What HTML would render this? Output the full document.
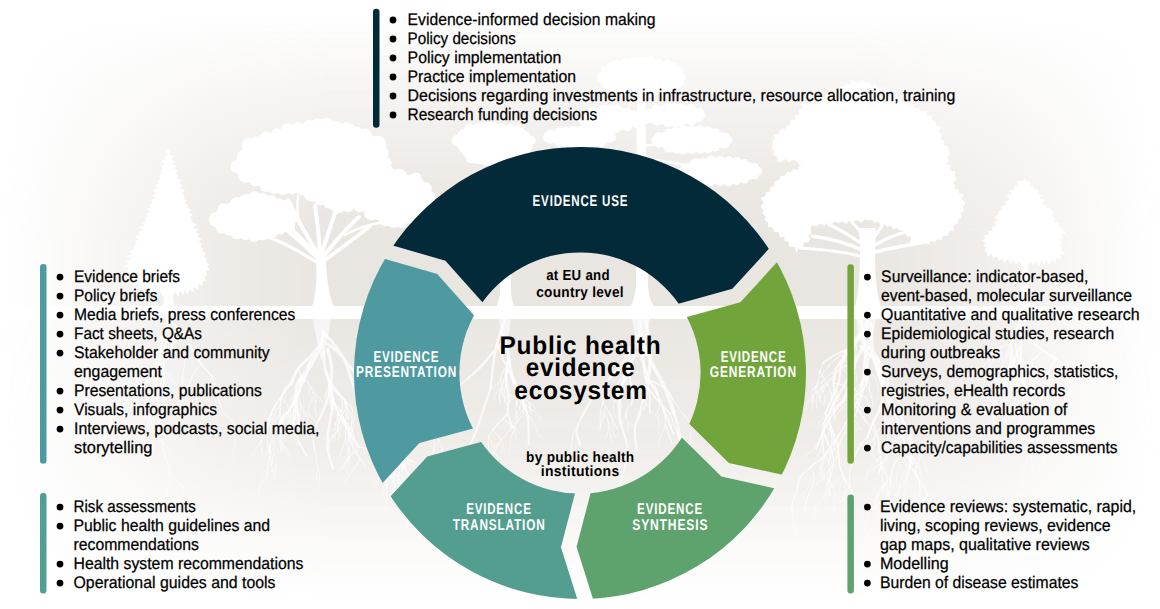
<!DOCTYPE html>
<html><head><meta charset="utf-8"><style>
html,body{margin:0;padding:0;background:#fff;}
svg{display:block;}
text{font-family:"Liberation Sans", sans-serif;text-rendering:geometricPrecision;}
.b{stroke:#000;stroke-width:0.25px;}
</style></head><body>
<svg width="1160" height="609" viewBox="0 0 1160 609">
<defs>
<linearGradient id="gH" x1="0" y1="0" x2="1160" y2="0" gradientUnits="userSpaceOnUse">
 <stop offset="0" stop-color="#fff" stop-opacity="0"/>
 <stop offset="0.03" stop-color="#fff" stop-opacity="0.08"/>
 <stop offset="0.1" stop-color="#fff" stop-opacity="0.35"/>
 <stop offset="0.18" stop-color="#fff" stop-opacity="0.7"/>
 <stop offset="0.28" stop-color="#fff" stop-opacity="0.95"/>
 <stop offset="0.74" stop-color="#fff" stop-opacity="0.95"/>
 <stop offset="0.86" stop-color="#fff" stop-opacity="0.6"/>
 <stop offset="0.95" stop-color="#fff" stop-opacity="0.18"/>
 <stop offset="0.985" stop-color="#fff" stop-opacity="0.04"/>
 <stop offset="1" stop-color="#fff" stop-opacity="0"/>
</linearGradient>
<linearGradient id="gVu" x1="0" y1="0" x2="0" y2="306" gradientUnits="userSpaceOnUse">
 <stop offset="0.04" stop-color="#fff" stop-opacity="0"/>
 <stop offset="0.2" stop-color="#fff" stop-opacity="0.25"/>
 <stop offset="0.4" stop-color="#fff" stop-opacity="0.55"/>
 <stop offset="0.6" stop-color="#fff" stop-opacity="0.85"/>
 <stop offset="0.78" stop-color="#fff" stop-opacity="1"/>
</linearGradient>
<linearGradient id="gVl" x1="0" y1="319" x2="0" y2="600" gradientUnits="userSpaceOnUse">
 <stop offset="0" stop-color="#fff" stop-opacity="0.95"/>
 <stop offset="0.45" stop-color="#fff" stop-opacity="0.7"/>
 <stop offset="0.8" stop-color="#fff" stop-opacity="0.2"/>
 <stop offset="1" stop-color="#fff" stop-opacity="0"/>
</linearGradient>
<mask id="mH" maskUnits="userSpaceOnUse" x="0" y="0" width="1160" height="609"><rect x="0" y="0" width="1160" height="609" fill="url(#gH)"/></mask>
<mask id="mVu" maskUnits="userSpaceOnUse" x="0" y="0" width="1160" height="609"><rect x="0" y="0" width="1160" height="306" fill="url(#gVu)"/></mask>
<mask id="mVl" maskUnits="userSpaceOnUse" x="0" y="0" width="1160" height="609"><rect x="0" y="319" width="1160" height="290" fill="url(#gVl)"/></mask>
</defs>
<rect x="0" y="0" width="1160" height="609" fill="#fff"/>
<g mask="url(#mH)"><rect mask="url(#mVu)" x="0" y="0" width="1160" height="306" fill="#e8e4df"/><rect mask="url(#mVl)" x="0" y="319" width="1160" height="290" fill="#e8e4df"/></g>
<g fill="#fff"><path d="M168.0,146.4 L167.3,149.8 L171.6,152.1 L168.9,154.4 L174.0,156.4 L170.5,159.0 L174.5,161.4 L172.1,163.6 L176.2,166.0 L173.7,168.2 L178.0,170.5 L175.3,173.0 L178.7,175.9 L176.9,178.0 L181.1,180.6 L178.5,183.0 L182.9,185.5 L180.1,188.0 L184.9,190.4 L181.7,193.0 L184.8,195.9 L183.3,198.0 L187.0,200.7 L184.9,202.9 L188.1,205.7 L186.6,207.8 L191.5,210.1 L188.2,212.7 L192.8,215.1 L189.8,217.6 L192.9,220.5 L191.5,222.5 L196.9,224.4 L193.3,227.3 L198.6,229.2 L195.1,232.0 L199.7,234.2 L197.0,236.8 L201.4,239.0 L198.8,241.5 L202.2,244.1 L200.6,246.2 L203.6,249.0 L202.3,251.1 L206.6,253.7 L204.1,256.2 L207.2,259.2 L205.8,261.4 L209.2,264.3 L207.4,266.0 L209.4,270.2 L205.8,270.9 L207.2,275.4 L204.1,276.2 L206.6,281.1 L202.7,281.0 L202.6,286.2 L198.5,283.7 L198.5,290.1 L193.8,286.7 L193.4,292.4 L189.4,289.5 L187.9,294.8 L184.9,290.1 L182.9,295.1 L180.0,290.7 L178.1,296.2 L175.1,291.4 L173.1,296.3 L170.2,292.1 L168.0,296.6 L165.8,292.1 L162.7,297.7 L160.9,291.4 L157.8,297.0 L156.0,290.7 L153.0,296.0 L151.1,290.1 L148.1,295.0 L146.6,289.5 L142.9,291.9 L142.2,286.7 L138.3,288.7 L137.5,283.7 L133.6,285.9 L133.2,281.0 L130.4,281.2 L131.8,276.9 L127.0,277.3 L130.1,272.3 L126.2,272.4 L128.4,267.7 L123.2,267.1 L128.5,264.1 L126.5,261.6 L130.5,259.1 L127.1,256.1 L132.5,254.1 L129.4,251.2 L134.5,249.1 L133.4,247.0 L136.5,244.3 L134.9,242.0 L138.5,239.5 L135.3,236.6 L140.5,234.8 L138.3,232.3 L142.5,230.1 L139.1,227.1 L144.5,225.4 L142.5,222.9 L146.5,220.6 L145.0,218.6 L148.1,216.0 L145.3,213.6 L149.8,211.5 L146.6,208.9 L151.4,206.9 L149.5,204.8 L153.1,202.4 L151.6,200.5 L154.7,197.8 L152.6,195.7 L156.2,192.9 L152.4,190.4 L157.6,187.9 L154.3,185.5 L159.0,182.9 L157.3,180.9 L160.4,177.9 L158.4,175.9 L161.8,172.9 L160.1,170.9 L163.2,168.2 L161.6,166.4 L164.6,163.6 L161.2,161.2 L166.0,159.0 L164.2,157.1 L167.4,154.4 L164.6,152.2 L168.8,149.8Z"/><path d="M165,285 L172,285 L174,307 L163,307Z"/><path d="M234.3,166.9 C234.9,161.2 241.9,148.6 247.0,143.4 C252.1,138.2 258.4,138.7 265.0,136.0 C271.6,133.3 279.5,129.1 286.7,127.0 C293.9,124.9 301.8,124.3 308.4,123.5 C315.0,122.7 319.9,121.8 326.5,122.4 C333.1,123.0 341.4,125.3 348.0,127.0 C354.6,128.7 360.6,130.1 366.0,132.5 C371.4,134.9 377.0,136.8 380.7,141.6 C384.4,146.4 384.7,156.0 388.0,161.4 C391.3,166.8 395.8,171.6 400.6,174.0 C405.4,176.4 412.3,173.9 416.8,176.0 C421.3,178.1 425.3,183.1 427.7,186.7 C430.1,190.3 430.9,193.7 431.3,197.6 C431.7,201.5 431.8,207.0 430.0,210.0 C428.2,213.0 425.1,213.2 420.5,215.6 C415.9,218.0 408.4,223.5 402.4,224.7 C396.4,225.9 389.7,224.4 384.3,222.9 C378.9,221.4 374.1,218.0 369.9,215.6 C365.7,213.2 364.4,209.6 359.0,208.4 C353.6,207.2 343.9,209.6 337.3,208.4 C330.7,207.2 325.3,203.9 319.3,201.2 C313.3,198.5 307.2,194.0 301.2,192.2 C295.2,190.4 289.1,191.0 283.1,190.4 C277.1,189.8 271.6,190.6 265.0,188.5 C258.4,186.4 248.5,181.3 243.4,177.7 C238.3,174.1 233.7,172.6 234.3,166.9Z"/><circle cx="237.3" cy="166.5" r="6.8"/><circle cx="243.0" cy="156.4" r="5.9"/><circle cx="249.5" cy="145.9" r="7.8"/><circle cx="257.0" cy="142.1" r="5.7"/><circle cx="266.3" cy="139.1" r="7.5"/><circle cx="276.8" cy="133.9" r="5.7"/><circle cx="287.5" cy="129.9" r="6.7"/><circle cx="298.0" cy="127.9" r="6.0"/><circle cx="308.7" cy="126.3" r="6.2"/><circle cx="317.7" cy="126.8" r="8.6"/><circle cx="326.2" cy="126.0" r="8.1"/><circle cx="336.7" cy="127.5" r="6.3"/><circle cx="347.1" cy="130.6" r="8.3"/><circle cx="356.2" cy="132.3" r="6.0"/><circle cx="364.7" cy="135.2" r="6.6"/><circle cx="378.0" cy="144.2" r="8.2"/><circle cx="381.2" cy="152.7" r="7.5"/><circle cx="386.0" cy="162.9" r="5.6"/><circle cx="398.8" cy="177.5" r="8.7"/><circle cx="415.7" cy="178.4" r="6.0"/><circle cx="425.4" cy="188.2" r="6.2"/><circle cx="427.7" cy="198.0" r="8.0"/><circle cx="427.5" cy="208.5" r="6.4"/><circle cx="419.1" cy="213.1" r="6.3"/><circle cx="410.3" cy="217.9" r="5.5"/><circle cx="401.9" cy="222.2" r="5.6"/><circle cx="393.7" cy="220.5" r="7.3"/><circle cx="385.2" cy="220.3" r="6.1"/><circle cx="371.5" cy="212.7" r="7.4"/><circle cx="359.9" cy="205.6" r="6.6"/><circle cx="348.1" cy="205.3" r="6.8"/><circle cx="338.0" cy="204.6" r="8.6"/><circle cx="329.5" cy="201.9" r="6.9"/><circle cx="320.6" cy="198.2" r="7.3"/><circle cx="311.9" cy="193.4" r="8.3"/><circle cx="302.0" cy="189.7" r="5.9"/><circle cx="292.4" cy="188.7" r="5.8"/><circle cx="283.5" cy="186.6" r="8.4"/><circle cx="274.4" cy="185.8" r="8.1"/><circle cx="265.8" cy="185.9" r="6.1"/><circle cx="255.4" cy="180.7" r="5.9"/><circle cx="245.6" cy="175.0" r="7.8"/><path d="M212.6,219.3 C212.9,215.4 217.8,209.6 221.7,206.6 C225.6,203.6 230.7,203.2 236.1,201.2 C241.5,199.2 248.2,195.3 254.2,194.7 C260.2,194.1 266.6,195.9 272.3,197.6 C278.0,199.3 284.6,201.5 288.5,204.8 C292.4,208.1 295.5,213.6 295.8,217.5 C296.1,221.4 294.3,225.5 290.4,228.3 C286.5,231.1 278.3,232.6 272.3,234.4 C266.3,236.2 260.2,238.9 254.2,239.1 C248.2,239.3 241.8,237.0 236.1,235.5 C230.4,234.0 223.8,232.8 219.9,230.1 C216.0,227.4 212.3,223.2 212.6,219.3Z"/><circle cx="215.9" cy="219.6" r="7.3"/><circle cx="223.1" cy="208.4" r="5.1"/><circle cx="237.2" cy="204.3" r="7.4"/><circle cx="246.2" cy="201.0" r="7.1"/><circle cx="254.5" cy="197.5" r="6.3"/><circle cx="262.8" cy="198.7" r="5.8"/><circle cx="271.7" cy="199.7" r="4.8"/><circle cx="279.6" cy="203.1" r="4.6"/><circle cx="286.1" cy="207.1" r="7.4"/><circle cx="293.5" cy="217.7" r="5.2"/><circle cx="288.3" cy="226.2" r="6.6"/><circle cx="280.6" cy="229.1" r="5.3"/><circle cx="271.4" cy="231.4" r="7.0"/><circle cx="262.5" cy="234.0" r="6.3"/><circle cx="254.1" cy="236.7" r="5.4"/><circle cx="245.6" cy="235.1" r="5.0"/><circle cx="236.9" cy="232.6" r="6.7"/><circle cx="228.7" cy="230.8" r="4.7"/><circle cx="221.4" cy="228.3" r="5.2"/><path d="M312,307 C317,292 317,275 316,262 L318,252 L323,252 L326,262 C327,278 328,292 334,307Z"/><path d="M317,258 Q300,240 290,233" fill="none" stroke="#fff" stroke-width="4" stroke-linecap="round"/><path d="M316,262 Q290,245 268,237" fill="none" stroke="#fff" stroke-width="3.2" stroke-linecap="round"/><path d="M318,254 Q300,225 288,200" fill="none" stroke="#fff" stroke-width="4" stroke-linecap="round"/><path d="M320,252 Q318,225 315,206" fill="none" stroke="#fff" stroke-width="4" stroke-linecap="round"/><path d="M322,252 Q330,228 336,210" fill="none" stroke="#fff" stroke-width="4" stroke-linecap="round"/><path d="M324,256 Q342,232 359,217" fill="none" stroke="#fff" stroke-width="4" stroke-linecap="round"/><path d="M325,260 Q350,242 370,226" fill="none" stroke="#fff" stroke-width="3.6" stroke-linecap="round"/><path d="M319,256 Q300,238 283,219" fill="none" stroke="#fff" stroke-width="3.2" stroke-linecap="round"/><path d="M300,225 Q296,212 298,196" fill="none" stroke="#fff" stroke-width="2.5" stroke-linecap="round"/><path d="M336,214 Q344,205 350,198" fill="none" stroke="#fff" stroke-width="2.5" stroke-linecap="round"/><path d="M345,235 Q360,226 384,222" fill="none" stroke="#fff" stroke-width="2.5" stroke-linecap="round"/><path d="M455.0,140.0 C454.8,134.5 462.7,129.7 469.0,127.0 C475.3,124.3 484.5,123.8 493.0,124.0 C501.5,124.2 513.3,125.3 520.0,128.0 C526.7,130.7 532.0,135.3 533.0,140.0 C534.0,144.7 531.5,152.0 526.0,156.0 C520.5,160.0 509.3,163.3 500.0,164.0 C490.7,164.7 477.5,164.0 470.0,160.0 C462.5,156.0 455.2,145.5 455.0,140.0Z"/><circle cx="457.5" cy="140.4" r="5.7"/><circle cx="464.0" cy="135.6" r="6.5"/><circle cx="470.2" cy="129.3" r="5.8"/><circle cx="477.3" cy="128.2" r="4.9"/><circle cx="485.4" cy="128.0" r="6.6"/><circle cx="493.0" cy="126.1" r="4.7"/><circle cx="501.7" cy="127.2" r="4.2"/><circle cx="510.7" cy="128.8" r="4.9"/><circle cx="519.0" cy="130.2" r="5.4"/><circle cx="525.2" cy="135.4" r="4.3"/><circle cx="531.0" cy="140.4" r="4.6"/><circle cx="527.4" cy="147.1" r="5.1"/><circle cx="524.3" cy="154.1" r="5.7"/><circle cx="516.7" cy="156.7" r="4.5"/><circle cx="508.0" cy="159.1" r="5.1"/><circle cx="499.7" cy="161.1" r="6.6"/><circle cx="492.9" cy="160.0" r="6.8"/><circle cx="485.4" cy="159.4" r="5.9"/><circle cx="477.9" cy="158.3" r="6.0"/><circle cx="471.3" cy="157.8" r="5.7"/><circle cx="466.6" cy="152.1" r="4.5"/><circle cx="461.5" cy="145.5" r="4.2"/><path d="M501,150 L510,150 L511,290 C511,298 513,303 515,307 L496,307 C498,303 500,298 500,290Z"/><path d="M684.0,77.0 C684.0,79.6 682.5,82.5 679.8,84.8 C677.2,87.2 672.9,89.4 668.2,91.1 C663.4,92.7 657.3,94.0 651.3,94.5 C645.4,95.1 638.6,95.1 632.7,94.5 C626.7,94.0 620.6,92.7 615.8,91.1 C611.1,89.4 606.8,87.2 604.2,84.8 C601.5,82.5 600.0,79.6 600.0,77.0 C600.0,74.4 601.5,71.5 604.2,69.2 C606.8,66.8 611.1,64.6 615.8,62.9 C620.6,61.3 626.7,60.0 632.7,59.5 C638.6,58.9 645.4,58.9 651.3,59.5 C657.3,60.0 663.4,61.3 668.2,62.9 C672.9,64.6 677.2,66.8 679.8,69.2 C682.5,71.5 684.0,74.4 684.0,77.0Z"/><circle cx="682.5" cy="77.0" r="3.4"/><circle cx="678.0" cy="83.2" r="5.4"/><circle cx="673.0" cy="86.0" r="5.0"/><circle cx="667.4" cy="88.7" r="5.5"/><circle cx="659.5" cy="91.3" r="3.4"/><circle cx="651.1" cy="92.4" r="4.8"/><circle cx="645.1" cy="92.5" r="4.5"/><circle cx="638.9" cy="92.3" r="5.0"/><circle cx="632.9" cy="92.7" r="4.1"/><circle cx="624.7" cy="90.3" r="5.6"/><circle cx="616.3" cy="89.6" r="3.5"/><circle cx="611.0" cy="86.1" r="4.6"/><circle cx="605.8" cy="83.3" r="5.0"/><circle cx="602.4" cy="77.0" r="5.4"/><circle cx="605.8" cy="70.7" r="5.0"/><circle cx="611.0" cy="68.0" r="5.0"/><circle cx="616.6" cy="65.1" r="5.2"/><circle cx="624.7" cy="63.6" r="5.4"/><circle cx="632.9" cy="61.3" r="4.2"/><circle cx="638.9" cy="61.7" r="4.9"/><circle cx="645.1" cy="61.9" r="5.4"/><circle cx="651.1" cy="61.8" r="5.3"/><circle cx="659.4" cy="63.1" r="4.3"/><circle cx="667.4" cy="65.1" r="5.2"/><circle cx="672.9" cy="68.2" r="5.3"/><circle cx="678.3" cy="70.6" r="4.7"/><path d="M639.0,119.0 C639.0,120.7 637.9,122.6 636.1,124.2 C634.3,125.8 631.4,127.3 628.1,128.4 C624.8,129.5 620.5,130.3 616.5,130.7 C612.4,131.1 607.6,131.1 603.5,130.7 C599.5,130.3 595.2,129.5 591.9,128.4 C588.6,127.3 585.7,125.8 583.9,124.2 C582.1,122.6 581.0,120.7 581.0,119.0 C581.0,117.3 582.1,115.4 583.9,113.8 C585.7,112.2 588.6,110.7 591.9,109.6 C595.2,108.5 599.5,107.7 603.5,107.3 C607.6,106.9 612.4,106.9 616.5,107.3 C620.5,107.7 624.8,108.5 628.1,109.6 C631.4,110.7 634.3,112.2 636.1,113.8 C637.9,115.4 639.0,117.3 639.0,119.0Z"/><circle cx="636.8" cy="119.0" r="4.8"/><circle cx="634.9" cy="122.8" r="4.2"/><circle cx="627.4" cy="126.4" r="4.7"/><circle cx="616.2" cy="128.6" r="4.7"/><circle cx="610.0" cy="129.1" r="3.6"/><circle cx="603.8" cy="128.6" r="4.8"/><circle cx="592.7" cy="126.0" r="5.6"/><circle cx="585.4" cy="122.4" r="5.4"/><circle cx="583.3" cy="119.0" r="5.0"/><circle cx="585.1" cy="115.2" r="4.2"/><circle cx="592.6" cy="111.8" r="5.0"/><circle cx="603.8" cy="109.4" r="4.7"/><circle cx="610.0" cy="109.3" r="4.4"/><circle cx="616.2" cy="109.6" r="5.3"/><circle cx="627.6" cy="111.1" r="3.6"/><circle cx="634.6" cy="115.5" r="5.1"/><path d="M703.0,115.0 C703.0,116.4 701.9,118.0 700.1,119.3 C698.3,120.6 695.4,121.9 692.1,122.8 C688.8,123.7 684.5,124.4 680.5,124.7 C676.4,125.1 671.6,125.1 667.5,124.7 C663.5,124.4 659.2,123.7 655.9,122.8 C652.6,121.9 649.7,120.6 647.9,119.3 C646.1,118.0 645.0,116.4 645.0,115.0 C645.0,113.6 646.1,112.0 647.9,110.7 C649.7,109.4 652.6,108.1 655.9,107.2 C659.2,106.3 663.5,105.6 667.5,105.3 C671.6,104.9 676.4,104.9 680.5,105.3 C684.5,105.6 688.8,106.3 692.1,107.2 C695.4,108.1 698.3,109.4 700.1,110.7 C701.9,112.0 703.0,113.6 703.0,115.0Z"/><circle cx="701.5" cy="115.0" r="3.4"/><circle cx="698.9" cy="117.6" r="4.7"/><circle cx="691.5" cy="120.9" r="4.5"/><circle cx="680.3" cy="123.0" r="3.9"/><circle cx="674.0" cy="122.5" r="4.9"/><circle cx="667.8" cy="122.7" r="4.5"/><circle cx="656.5" cy="120.8" r="4.8"/><circle cx="649.3" cy="117.3" r="5.4"/><circle cx="646.8" cy="115.0" r="4.0"/><circle cx="648.8" cy="111.9" r="3.4"/><circle cx="656.4" cy="108.9" r="4.1"/><circle cx="667.8" cy="107.4" r="4.9"/><circle cx="674.0" cy="107.0" r="3.8"/><circle cx="680.3" cy="106.9" r="3.8"/><circle cx="691.4" cy="109.5" r="5.4"/><circle cx="698.9" cy="112.4" r="4.9"/><path d="M730.0,140.0 C730.0,141.7 728.6,143.6 726.2,145.2 C723.9,146.8 720.0,148.3 715.7,149.4 C711.4,150.5 705.8,151.3 700.5,151.7 C695.1,152.1 688.9,152.1 683.5,151.7 C678.2,151.3 672.6,150.5 668.3,149.4 C664.0,148.3 660.1,146.8 657.8,145.2 C655.4,143.6 654.0,141.7 654.0,140.0 C654.0,138.3 655.4,136.4 657.8,134.8 C660.1,133.2 664.0,131.7 668.3,130.6 C672.6,129.5 678.2,128.7 683.5,128.3 C688.9,127.9 695.1,127.9 700.5,128.3 C705.8,128.7 711.4,129.5 715.7,130.6 C720.0,131.7 723.9,133.2 726.2,134.8 C728.6,136.4 730.0,138.3 730.0,140.0Z"/><circle cx="728.0" cy="140.0" r="4.4"/><circle cx="724.9" cy="143.2" r="5.4"/><circle cx="715.2" cy="147.6" r="4.1"/><circle cx="707.7" cy="148.4" r="4.9"/><circle cx="700.3" cy="150.0" r="3.8"/><circle cx="692.0" cy="149.7" r="4.3"/><circle cx="683.7" cy="149.4" r="5.2"/><circle cx="676.3" cy="148.1" r="5.4"/><circle cx="669.0" cy="147.1" r="5.4"/><circle cx="658.8" cy="143.6" r="4.2"/><circle cx="656.1" cy="140.0" r="4.7"/><circle cx="658.8" cy="136.3" r="4.1"/><circle cx="668.8" cy="132.2" r="3.7"/><circle cx="676.2" cy="131.5" r="4.5"/><circle cx="683.7" cy="130.7" r="5.3"/><circle cx="692.0" cy="130.7" r="5.3"/><circle cx="700.3" cy="130.5" r="5.0"/><circle cx="707.7" cy="131.9" r="5.5"/><circle cx="715.2" cy="132.3" r="4.0"/><circle cx="725.3" cy="136.2" r="3.8"/><path d="M760.0,171.0 C760.0,172.9 758.5,174.9 756.0,176.6 C753.5,178.3 749.5,180.0 744.9,181.2 C740.4,182.3 734.5,183.3 728.9,183.7 C723.3,184.1 716.7,184.1 711.1,183.7 C705.5,183.3 699.6,182.3 695.1,181.2 C690.5,180.0 686.5,178.3 684.0,176.6 C681.5,174.9 680.0,172.9 680.0,171.0 C680.0,169.1 681.5,167.1 684.0,165.4 C686.5,163.7 690.5,162.0 695.1,160.8 C699.6,159.7 705.5,158.7 711.1,158.3 C716.7,157.9 723.3,157.9 728.9,158.3 C734.5,158.7 740.4,159.7 744.9,160.8 C749.5,162.0 753.5,163.7 756.0,165.4 C758.5,167.1 760.0,169.1 760.0,171.0Z"/><circle cx="758.0" cy="171.0" r="4.4"/><circle cx="755.0" cy="175.2" r="4.0"/><circle cx="744.4" cy="179.5" r="3.9"/><circle cx="736.6" cy="180.5" r="4.3"/><circle cx="728.7" cy="181.5" r="4.8"/><circle cx="720.0" cy="181.7" r="4.5"/><circle cx="711.2" cy="181.8" r="4.1"/><circle cx="703.4" cy="180.1" r="5.3"/><circle cx="695.8" cy="178.8" r="5.6"/><circle cx="685.1" cy="175.0" r="4.4"/><circle cx="681.6" cy="171.0" r="3.5"/><circle cx="684.8" cy="166.6" r="3.4"/><circle cx="695.8" cy="163.1" r="5.3"/><circle cx="703.3" cy="161.1" r="3.5"/><circle cx="711.3" cy="160.6" r="5.0"/><circle cx="720.0" cy="160.4" r="4.7"/><circle cx="728.8" cy="160.2" r="4.1"/><circle cx="736.6" cy="161.9" r="5.2"/><circle cx="744.5" cy="162.3" r="3.4"/><circle cx="755.1" cy="166.7" r="3.7"/><path d="M614.0,137.0 C614.0,138.3 612.8,139.7 610.6,140.9 C608.5,142.1 605.0,143.2 601.2,144.0 C597.4,144.8 592.4,145.5 587.6,145.8 C582.8,146.1 577.2,146.1 572.4,145.8 C567.6,145.5 562.6,144.8 558.8,144.0 C555.0,143.2 551.5,142.1 549.4,140.9 C547.2,139.7 546.0,138.3 546.0,137.0 C546.0,135.7 547.2,134.3 549.4,133.1 C551.5,131.9 555.0,130.8 558.8,130.0 C562.6,129.2 567.6,128.5 572.4,128.2 C577.2,127.9 582.8,127.9 587.6,128.2 C592.4,128.5 597.4,129.2 601.2,130.0 C605.0,130.8 608.5,131.9 610.6,133.1 C612.8,134.3 614.0,135.7 614.0,137.0Z"/><circle cx="612.0" cy="137.0" r="4.4"/><circle cx="609.9" cy="139.6" r="3.4"/><circle cx="600.6" cy="141.7" r="5.2"/><circle cx="594.2" cy="143.2" r="3.9"/><circle cx="587.5" cy="144.1" r="3.7"/><circle cx="580.0" cy="144.2" r="3.5"/><circle cx="572.6" cy="143.6" r="4.8"/><circle cx="565.9" cy="143.0" r="4.4"/><circle cx="559.3" cy="141.9" r="4.8"/><circle cx="550.4" cy="139.0" r="4.8"/><circle cx="548.3" cy="137.0" r="5.2"/><circle cx="550.6" cy="135.3" r="5.5"/><circle cx="559.3" cy="132.1" r="4.9"/><circle cx="565.8" cy="130.8" r="3.8"/><circle cx="572.6" cy="130.2" r="4.4"/><circle cx="580.0" cy="129.9" r="3.8"/><circle cx="587.5" cy="129.8" r="3.4"/><circle cx="594.1" cy="131.1" r="4.4"/><circle cx="600.7" cy="132.1" r="5.0"/><circle cx="609.8" cy="134.6" r="3.8"/><path d="M637,80 L645,80 L648,285 C649,296 651,302 654,307 L630,307 C633,302 635,296 636,285Z"/><path d="M640,128 Q625,122 610,120" fill="none" stroke="#fff" stroke-width="2.5" stroke-linecap="round"/><path d="M642,124 Q660,118 675,116" fill="none" stroke="#fff" stroke-width="2.5" stroke-linecap="round"/><path d="M643,146 Q668,142 690,141" fill="none" stroke="#fff" stroke-width="2.5" stroke-linecap="round"/><path d="M644,158 Q690,165 716,172" fill="none" stroke="#fff" stroke-width="2.5" stroke-linecap="round"/><path d="M862.5,79.7 L865.1,83.1 L869.1,82.3 L871.3,85.7 L875.5,84.4 L877.5,88.3 L881.7,87.3 L883.6,91.4 L888.2,91.0 L889.9,95.2 L894.6,94.5 L896.2,98.9 L900.4,98.4 L902.5,102.1 L907.0,101.0 L908.7,105.2 L913.3,103.9 L914.9,108.3 L919.0,108.6 L921.1,112.0 L925.9,111.1 L927.4,115.8 L932.3,115.4 L932.2,120.1 L935.7,121.7 L936.1,125.5 L940.2,127.1 L938.7,131.4 L942.1,134.4 L940.3,138.5 L944.0,140.8 L943.8,145.5 L948.2,147.1 L948.8,151.4 L950.6,154.6 L947.2,157.1 L949.5,161.0 L945.7,163.8 L950.6,165.5 L950.5,170.4 L955.5,171.6 L955.1,176.3 L956.4,179.7 L953.0,182.1 L954.7,185.1 L954.5,188.5 L958.3,189.4 L959.2,193.2 L964.0,194.0 L961.8,199.1 L965.3,202.9 L962.8,207.2 L964.3,211.1 L960.6,213.2 L962.1,217.4 L958.3,219.3 L957.6,223.6 L953.6,225.5 L953.8,230.5 L949.0,231.6 L947.9,236.3 L943.0,235.4 L941.7,240.1 L936.9,239.2 L934.6,242.4 L930.8,240.7 L928.4,244.4 L924.6,242.3 L920.8,245.0 L916.3,243.3 L911.4,246.8 L909.9,242.1 L911.1,237.6 L906.7,235.9 L905.1,233.3 L903.2,230.2 L899.5,230.8 L897.0,227.9 L893.0,229.0 L890.7,225.6 L886.7,226.9 L884.5,223.3 L880.4,224.9 L878.1,221.3 L874.4,222.9 L871.9,219.7 L868.6,220.6 L864.6,219.2 L861.0,222.7 L856.8,220.0 L853.1,222.2 L849.4,220.7 L846.0,223.9 L842.2,221.1 L838.8,223.3 L835.1,221.6 L831.7,224.1 L827.9,222.0 L824.5,225.8 L820.0,223.6 L816.5,226.2 L811.8,225.3 L810.7,228.9 L811.8,232.5 L808.5,235.0 L810.1,239.0 L808.2,242.4 L803.6,242.8 L803.3,247.5 L798.6,247.8 L796.6,252.9 L794.4,247.2 L789.0,246.4 L788.9,241.8 L784.8,241.2 L784.2,237.1 L779.7,237.2 L778.7,232.3 L774.4,231.4 L772.4,227.6 L767.8,226.7 L768.4,222.5 L764.7,220.4 L765.9,216.3 L762.6,214.0 L763.4,210.3 L760.6,206.3 L763.5,202.2 L760.8,197.4 L765.5,196.3 L766.0,192.2 L770.2,191.6 L770.1,187.3 L774.7,186.0 L774.6,181.4 L778.8,179.9 L780.5,176.1 L784.9,175.9 L786.9,171.8 L791.0,172.7 L792.9,168.5 L797.2,170.2 L799.1,166.0 L804.0,166.8 L799.3,165.3 L797.1,161.2 L793.2,159.6 L789.2,162.4 L785.8,158.8 L781.8,161.8 L777.2,161.8 L777.4,156.9 L773.4,155.0 L774.2,150.7 L770.8,148.1 L773.5,145.1 L771.8,141.3 L775.1,138.9 L773.7,134.6 L778.7,133.9 L780.2,129.5 L784.9,129.3 L787.0,125.6 L790.5,124.5 L790.5,119.8 L795.2,119.8 L795.5,115.9 L799.2,114.1 L798.7,109.9 L802.3,107.9 L801.6,102.8 L806.4,104.2 L808.7,100.7 L812.7,102.1 L815.0,98.7 L819.0,100.0 L821.0,96.4 L825.4,97.0 L827.6,93.6 L831.7,93.3 L833.4,89.2 L837.8,89.6 L840.0,86.1 L844.0,87.1 L845.9,82.8 L850.2,84.6 L852.4,80.3 L857.9,82.6Z"/><path d="M855,307 C859,292 860,272 860,250 L859,228 L876,228 L875,250 C875,272 876,292 881,307Z"/><path d="M862,250 Q840,240 812,236" fill="none" stroke="#fff" stroke-width="3.5" stroke-linecap="round"/><path d="M862,244 Q845,232 828,224" fill="none" stroke="#fff" stroke-width="3.2" stroke-linecap="round"/><path d="M866,240 Q860,230 852,222" fill="none" stroke="#fff" stroke-width="3" stroke-linecap="round"/><path d="M872,240 Q880,230 884,222" fill="none" stroke="#fff" stroke-width="3" stroke-linecap="round"/><path d="M873,246 Q892,235 906,232" fill="none" stroke="#fff" stroke-width="3.2" stroke-linecap="round"/><path d="M874,252 Q900,246 925,242" fill="none" stroke="#fff" stroke-width="3.5" stroke-linecap="round"/><path d="M860,256 Q835,250 800,248" fill="none" stroke="#fff" stroke-width="3" stroke-linecap="round"/><path d="M1025.0,178.0 L1025.9,181.1 L1030.2,182.0 L1029.8,185.1 L1033.5,186.6 L1033.8,189.1 L1038.1,190.3 L1036.8,193.3 L1041.7,195.3 L1039.4,198.5 L1044.5,200.4 L1042.0,203.8 L1045.8,205.7 L1046.6,208.3 L1050.5,208.3 L1051.3,210.5 L1054.0,213.6 L1052.0,215.8 L1056.1,219.3 L1053.2,222.2 L1058.7,222.4 L1058.5,226.5 L1062.4,227.8 L1062.9,229.8 L1066.0,233.7 L1061.5,234.2 L1063.0,238.5 L1060.2,239.4 L1062.1,243.8 L1058.9,245.2 L1062.7,248.4 L1061.7,251.0 L1066.5,254.7 L1060.9,253.8 L1060.3,259.2 L1056.0,257.7 L1055.1,263.3 L1051.7,259.6 L1049.5,264.7 L1046.4,260.3 L1044.1,264.2 L1041.1,261.0 L1038.8,266.3 L1035.9,261.3 L1033.1,264.9 L1030.3,261.3 L1027.4,265.8 L1024.6,261.3 L1021.8,265.2 L1019.2,261.3 L1016.0,264.5 L1013.7,260.2 L1010.2,264.1 L1008.1,259.0 L1004.7,262.8 L1002.5,257.9 L999.0,261.4 L997.2,256.3 L993.3,259.1 L991.7,253.9 L987.6,257.1 L986.8,252.1 L984.3,251.7 L986.4,247.5 L983.5,246.4 L985.8,242.3 L981.8,241.3 L985.0,237.7 L984.1,234.9 L988.6,234.3 L988.2,231.2 L992.5,230.4 L991.6,226.7 L996.7,226.1 L993.9,223.3 L997.9,219.7 L994.3,217.2 L998.8,214.1 L998.5,211.6 L1002.5,209.7 L1001.5,206.1 L1006.4,205.0 L1005.0,201.7 L1009.6,199.3 L1006.6,196.2 L1011.6,193.4 L1010.0,190.5 L1014.2,189.0 L1014.1,186.3 L1018.1,185.0 L1017.2,181.0 L1022.8,181.2Z"/><path d="M1021,255 L1028,255 L1029,300 C1030,304 1031,306 1033,307 L1016,307 C1018,306 1019,304 1020,300Z"/></g>
<rect x="0" y="306" width="1160" height="13" fill="#fff"/>
<g fill="#fff" fill-opacity="0.6"><path d="M164.5,318 C165.7,330.5 166.0,338.0 168.0,343.0 C170.0,338.0 170.3,330.5 171.5,318Z"/><path d="M313.0,318 C316.0,340.5 320.0,354.0 322.0,363.0 C324.0,354.0 328.0,340.5 331.0,318Z"/><path d="M499.0,318 C501.0,335.5 503.0,346.0 505.0,353.0 C507.0,346.0 509.0,335.5 511.0,318Z"/><path d="M632.0,318 C635.0,340.5 639.0,354.0 641.0,363.0 C643.0,354.0 647.0,340.5 650.0,318Z"/><path d="M856.0,318 C859.3,340.5 864.0,354.0 866.0,363.0 C868.0,354.0 872.7,340.5 876.0,318Z"/><path d="M1018.0,318 C1019.3,330.5 1020.0,338.0 1022.0,343.0 C1024.0,338.0 1024.7,330.5 1026.0,318Z"/></g>
<g fill="none" stroke="#fff" stroke-opacity="0.7" stroke-linecap="round" stroke-linejoin="round"><path d="M182.4,375.7 C183.0,376.4 184.5,378.6 185.7,379.9 C186.9,381.2 188.6,382.0 189.7,383.4 C190.7,384.8 191.5,387.4 191.9,388.2 M191.9,388.2 C192.1,389.0 193.1,391.6 193.2,393.3 C193.3,395.0 192.8,396.8 192.6,398.6 C192.4,400.3 192.3,403.0 192.2,403.9 M182.1,385.4 C182.4,386.2 183.6,388.5 184.2,390.2 C184.9,391.8 185.3,393.5 185.8,395.2 C186.3,396.9 187.1,399.5 187.3,400.3 M187.3,400.3 C187.4,401.2 187.5,403.9 188.0,405.6 C188.5,407.2 189.8,408.6 190.4,410.3 C191.0,412.0 191.3,414.6 191.5,415.5 M179.5,394.6 C179.9,395.5 181.2,397.8 181.6,399.5 C182.0,401.2 181.8,403.0 182.0,404.8 C182.2,406.5 182.5,409.2 182.6,410.0 M182.6,410.0 C182.5,410.9 182.1,413.6 181.6,415.2 C181.0,416.9 180.1,418.4 179.3,420.0 C178.5,421.6 177.3,423.9 176.9,424.7 M186.6,389.0 C186.0,390.4 184.2,394.9 183.1,397.9 C182.0,400.9 180.9,404.0 180.2,407.1 C179.5,410.2 179.0,415.0 178.8,416.6 M202.0,403.5 C202.3,405.1 202.8,409.9 203.6,413.0 C204.3,416.2 205.3,419.2 206.3,422.3 C207.3,425.3 208.9,429.9 209.4,431.4 M202.3,393.9 C202.9,394.6 204.4,396.8 205.5,398.1 C206.7,399.4 208.3,400.4 209.4,401.8 C210.5,403.1 211.6,405.6 212.1,406.3 M212.1,406.3 C212.2,407.2 212.5,409.9 213.1,411.5 C213.7,413.2 215.2,414.5 215.7,416.2 C216.1,417.8 215.9,420.6 215.9,421.5 M203.6,413.0 C203.4,413.9 203.3,416.6 202.9,418.3 C202.4,420.0 201.4,421.5 200.7,423.1 C200.0,424.7 198.8,427.1 198.5,427.9 M198.5,427.9 C198.0,428.7 196.3,430.9 195.9,432.5 C195.4,434.2 195.9,436.1 195.7,437.8 C195.5,439.6 194.7,442.1 194.5,443.0 M235.9,434.9 C235.7,436.5 235.1,441.2 234.6,444.4 C234.0,447.6 232.8,450.7 232.8,453.9 C232.7,457.0 234.0,461.8 234.2,463.4 M146.4,395.3 C146.9,395.7 148.5,397.1 149.6,398.1 C150.6,399.1 151.6,400.1 152.7,401.0 C153.7,401.9 155.6,403.0 156.1,403.5 M156.1,403.5 C156.8,403.8 158.7,404.8 159.9,405.5 C161.1,406.2 162.3,407.0 163.5,407.8 C164.7,408.6 166.3,409.9 166.9,410.3 M146.2,403.0 C146.3,403.7 146.8,405.8 146.7,407.2 C146.7,408.6 146.4,410.0 146.1,411.4 C145.8,412.8 145.0,414.8 144.8,415.5 M144.8,415.5 C144.7,416.2 144.3,418.3 144.0,419.6 C143.6,421.0 142.9,422.3 142.6,423.7 C142.2,425.0 142.0,427.2 141.9,427.9 M155.4,425.8 C155.4,427.1 155.3,431.0 155.0,433.5 C154.7,436.1 153.7,438.6 153.5,441.2 C153.3,443.7 153.6,447.6 153.7,448.9 M154.3,410.4 C154.0,411.0 153.1,413.0 152.3,414.2 C151.5,415.3 150.3,416.3 149.6,417.5 C148.9,418.7 148.3,420.8 148.0,421.4 M148.0,421.4 C147.9,422.1 147.4,424.2 147.0,425.6 C146.7,426.9 146.5,428.4 146.0,429.7 C145.5,431.0 144.3,432.8 144.0,433.4 M155.4,425.8 C154.9,426.3 153.3,427.7 152.3,428.7 C151.4,429.8 150.3,430.8 149.7,432.1 C149.1,433.3 148.8,435.5 148.6,436.2 M148.6,436.2 C148.4,436.9 147.7,438.9 147.0,440.1 C146.4,441.4 145.3,442.4 144.7,443.7 C144.1,445.0 143.8,447.1 143.6,447.8 M155.0,433.5 C155.5,434.1 156.9,435.6 157.9,436.6 C158.8,437.7 159.6,438.9 160.7,439.9 C161.7,440.9 163.4,442.1 164.0,442.6 M164.0,442.6 C164.3,443.2 165.3,445.1 166.2,446.2 C167.0,447.4 168.3,448.2 169.0,449.4 C169.6,450.7 170.0,452.8 170.2,453.5 M127.2,421.1 C127.3,421.9 127.8,424.5 127.6,426.2 C127.5,427.9 126.9,429.6 126.3,431.2 C125.8,432.8 124.8,435.2 124.4,436.0 M165.4,457.3 C166.0,458.8 167.8,463.5 168.9,466.6 C170.0,469.7 171.6,472.7 172.1,476.0 C172.5,479.2 171.8,484.2 171.7,485.9 M160.8,438.0 C160.2,438.7 158.5,440.8 157.3,442.2 C156.0,443.5 154.4,444.6 153.5,446.1 C152.6,447.6 152.2,450.4 151.9,451.3 M151.9,451.3 C151.5,452.1 150.5,454.6 149.8,456.3 C149.1,458.0 148.3,459.6 147.7,461.4 C147.1,463.1 146.3,465.7 146.0,466.5 M168.9,466.6 C168.8,467.5 168.3,470.2 168.3,472.0 C168.4,473.8 169.0,475.6 169.2,477.4 C169.3,479.2 169.1,481.9 169.0,482.8 M169.0,482.8 C168.8,483.7 168.1,486.3 167.8,488.1 C167.5,489.9 167.0,491.8 167.1,493.5 C167.2,495.3 168.3,497.9 168.5,498.8 M172.1,476.0 C172.8,476.5 175.1,478.0 176.4,479.2 C177.8,480.4 179.1,481.7 180.2,483.1 C181.4,484.5 182.8,486.8 183.4,487.6 M183.4,487.6 C183.5,488.5 184.0,491.2 184.0,493.0 C183.9,494.8 183.4,496.6 183.1,498.4 C182.7,500.1 182.0,502.8 181.8,503.6 M163.5,361.8 C163.5,362.4 163.7,364.1 163.8,365.3 C163.9,366.5 164.2,367.6 164.2,368.8 C164.2,369.9 163.9,371.7 163.8,372.3 M163.8,372.3 C163.8,372.9 164.1,374.6 163.9,375.8 C163.8,377.0 163.6,378.1 163.2,379.2 C162.8,380.3 161.8,381.8 161.6,382.4 M162.8,368.1 C163.1,368.6 164.2,370.0 165.0,370.8 C165.9,371.6 166.9,372.3 167.8,373.0 C168.7,373.8 169.9,375.1 170.3,375.5 M170.3,375.5 C170.7,375.9 172.0,377.2 172.6,378.1 C173.2,379.1 173.5,380.3 174.1,381.4 C174.6,382.4 175.7,383.8 176.1,384.2 M163.8,374.5 C164.3,374.7 166.0,375.4 166.9,376.0 C167.9,376.6 168.8,377.5 169.6,378.3 C170.4,379.1 171.5,380.5 171.9,381.0 M171.9,381.0 C172.2,381.4 173.2,382.9 174.0,383.8 C174.8,384.6 175.9,385.3 176.5,386.2 C177.1,387.2 177.5,389.0 177.6,389.6 M165.0,380.8 C164.8,381.3 164.1,382.9 163.7,384.1 C163.4,385.2 162.8,386.3 162.7,387.4 C162.6,388.6 162.9,390.3 163.0,390.9 M163.0,390.9 C163.2,391.5 163.9,393.1 164.4,394.1 C165.0,395.2 165.9,396.0 166.3,397.1 C166.6,398.2 166.4,400.1 166.5,400.6 M161.5,379.1 C161.3,379.7 160.5,381.3 160.2,382.4 C159.9,383.5 159.7,384.7 159.4,385.9 C159.2,387.0 158.7,388.7 158.6,389.3 M158.6,389.3 C158.4,389.8 157.9,391.5 157.4,392.6 C157.0,393.7 156.4,394.7 155.9,395.8 C155.4,396.8 154.4,398.3 154.2,398.8 M161.1,385.5 C161.6,385.8 163.3,386.6 164.1,387.4 C164.9,388.2 165.7,389.2 166.1,390.3 C166.5,391.3 166.5,393.2 166.6,393.8 M166.6,393.8 C166.6,394.3 166.5,396.1 166.4,397.3 C166.3,398.4 166.2,399.6 165.9,400.8 C165.7,401.9 165.1,403.6 165.0,404.2 M377.4,420.6 C377.0,421.5 375.8,424.5 374.7,426.2 C373.6,428.0 371.9,429.3 370.8,431.0 C369.6,432.7 368.3,435.6 367.8,436.5 M379.7,408.3 C379.1,408.5 377.3,408.7 376.4,409.3 C375.5,410.0 374.9,411.1 374.4,412.1 C373.9,413.1 373.5,414.8 373.3,415.4 M373.3,415.4 C373.0,415.9 372.3,417.4 371.6,418.4 C371.0,419.3 369.9,420.0 369.4,421.0 C369.0,422.0 369.0,423.8 368.9,424.4 M378.4,414.4 C378.0,414.8 376.8,416.0 376.0,416.9 C375.2,417.7 374.5,418.6 373.7,419.4 C372.9,420.2 371.5,421.3 371.1,421.6 M371.1,421.6 C370.7,422.1 369.5,423.4 369.1,424.4 C368.7,425.5 368.6,426.7 368.6,427.8 C368.6,429.0 368.9,430.7 368.9,431.2 M374.7,426.2 C374.3,426.6 372.8,427.5 372.0,428.3 C371.3,429.2 370.8,430.3 370.5,431.4 C370.2,432.5 370.3,434.2 370.2,434.8 M370.2,434.8 C370.1,435.4 369.8,437.1 369.6,438.2 C369.4,439.3 369.1,440.5 369.2,441.6 C369.3,442.7 369.9,444.4 370.0,444.9 M370.8,431.0 C370.8,431.6 370.7,433.3 370.9,434.5 C371.1,435.6 371.7,436.7 371.8,437.8 C371.9,438.9 371.5,440.6 371.5,441.2 M371.5,441.2 C371.2,441.7 370.2,443.2 370.0,444.3 C369.8,445.4 370.0,446.6 370.1,447.7 C370.1,448.9 370.2,450.6 370.2,451.2 M399.9,452.2 C400.2,453.2 401.4,456.1 401.8,458.2 C402.3,460.2 402.4,462.3 402.3,464.4 C402.3,466.5 401.8,469.6 401.6,470.6 M397.0,440.1 C397.3,440.6 398.3,442.0 398.9,442.9 C399.6,443.9 400.2,444.8 400.9,445.7 C401.6,446.7 402.7,448.0 403.1,448.4 M403.1,448.4 C403.2,449.0 403.3,450.7 403.7,451.8 C404.0,452.9 404.7,453.8 405.2,454.9 C405.6,455.9 406.2,457.5 406.5,458.1 M398.8,446.1 C399.1,446.5 400.2,447.9 400.8,448.8 C401.4,449.8 402.0,450.8 402.3,451.9 C402.6,453.0 402.7,454.8 402.7,455.3 M402.7,455.3 C402.9,455.9 403.3,457.6 403.7,458.6 C404.1,459.7 404.8,460.7 405.3,461.7 C405.8,462.7 406.7,464.2 406.9,464.7 M400.8,456.1 C400.3,457.0 398.7,459.7 397.6,461.5 C396.5,463.2 395.5,465.1 394.2,466.7 C393.0,468.4 390.6,470.5 389.9,471.2 M389.9,471.2 C389.6,472.2 388.8,475.3 388.1,477.2 C387.4,479.2 386.4,481.0 385.6,482.9 C384.8,484.8 383.6,487.7 383.2,488.7 M392.0,437.2 C392.6,438.1 394.5,440.7 395.5,442.6 C396.4,444.5 396.9,446.6 397.9,448.5 C398.8,450.4 400.6,453.1 401.2,454.0 M386.7,425.6 C387.1,426.0 388.5,427.2 389.2,428.0 C390.0,428.9 390.7,429.9 391.3,430.9 C392.0,431.8 392.7,433.4 393.0,434.0 M393.0,434.0 C393.1,434.5 393.5,436.3 393.9,437.4 C394.3,438.4 395.0,439.4 395.4,440.5 C395.9,441.6 396.4,443.3 396.6,443.8 M395.5,442.6 C396.0,442.9 397.9,443.3 398.7,444.0 C399.5,444.8 399.9,446.0 400.5,447.1 C401.1,448.1 401.9,449.6 402.2,450.1 M402.2,450.1 C402.3,450.7 402.8,452.4 402.9,453.6 C402.9,454.7 403.0,456.0 402.7,457.1 C402.5,458.2 401.8,459.9 401.6,460.4 M397.9,448.5 C398.3,448.9 399.7,450.0 400.6,450.8 C401.4,451.7 402.2,452.5 402.8,453.5 C403.5,454.5 404.2,456.1 404.5,456.6 M404.5,456.6 C404.9,457.1 406.1,458.4 406.6,459.4 C407.2,460.4 407.3,461.6 407.8,462.7 C408.2,463.8 409.0,465.4 409.2,465.9 M403.5,455.9 C403.7,456.9 404.4,460.0 404.6,462.2 C404.8,464.3 404.3,466.5 404.7,468.5 C405.0,470.6 406.4,473.6 406.7,474.6 M403.5,455.9 C403.9,456.3 405.1,457.5 405.9,458.4 C406.8,459.2 407.7,459.9 408.4,460.9 C409.1,461.8 409.8,463.5 410.0,464.0 M410.0,464.0 C410.4,464.4 411.6,465.8 412.2,466.7 C412.9,467.7 413.5,468.7 414.1,469.7 C414.7,470.7 415.5,472.3 415.8,472.8 M390.7,476.7 C391.2,477.6 393.2,480.2 393.9,482.2 C394.6,484.2 394.9,486.4 394.8,488.5 C394.8,490.6 393.9,493.8 393.7,494.8 M387.7,471.0 C387.3,471.4 385.9,472.5 385.1,473.4 C384.3,474.2 383.7,475.3 382.9,476.1 C382.1,477.0 380.7,478.1 380.3,478.4 M380.3,478.4 C379.9,478.8 378.5,480.0 377.7,480.8 C376.9,481.6 376.1,482.5 375.4,483.4 C374.6,484.4 373.7,485.8 373.3,486.3 M390.7,476.7 C390.9,477.2 391.2,479.0 391.7,480.0 C392.2,481.1 393.1,481.9 393.7,482.9 C394.3,484.0 394.9,485.6 395.1,486.2 M395.1,486.2 C395.1,486.7 395.3,488.5 395.3,489.7 C395.2,490.8 394.7,492.0 394.7,493.1 C394.7,494.3 395.2,496.0 395.3,496.6 M387.0,489.5 C386.9,490.5 386.8,493.7 386.7,495.8 C386.6,498.0 386.7,500.1 386.5,502.2 C386.4,504.4 385.8,507.5 385.7,508.6 M386.1,476.7 C386.4,477.2 387.5,478.7 387.8,479.8 C388.2,480.9 388.3,482.2 388.2,483.3 C388.0,484.4 387.3,486.1 387.1,486.7 M387.1,486.7 C386.9,487.2 386.2,488.8 385.6,489.8 C385.0,490.8 384.0,491.6 383.5,492.6 C383.0,493.7 382.5,495.4 382.3,496.0 M395.4,457.9 C395.5,458.9 395.7,462.1 396.1,464.2 C396.5,466.3 397.1,468.4 397.7,470.4 C398.4,472.4 399.7,475.4 400.1,476.3 M396.0,451.5 C396.2,452.0 396.9,453.7 397.5,454.7 C398.1,455.7 398.8,456.6 399.6,457.5 C400.3,458.4 401.7,459.5 402.1,459.9 M402.1,459.9 C402.5,460.4 403.9,461.5 404.5,462.5 C405.2,463.4 405.7,464.6 405.9,465.7 C406.1,466.8 405.7,468.6 405.7,469.2 M395.4,457.9 C395.2,458.4 394.5,460.1 394.3,461.2 C394.1,462.3 394.4,463.5 394.4,464.7 C394.4,465.9 394.3,467.6 394.2,468.2 M394.2,468.2 C394.1,468.8 393.7,470.5 393.7,471.7 C393.6,472.8 393.8,474.0 394.0,475.2 C394.2,476.3 394.7,478.0 394.8,478.6 M396.1,464.2 C396.0,464.8 395.8,466.5 395.7,467.7 C395.6,468.9 395.6,470.1 395.7,471.2 C395.8,472.4 396.3,474.1 396.4,474.7 M396.4,474.7 C396.6,475.2 397.3,476.8 398.0,477.8 C398.6,478.8 399.7,479.5 400.2,480.5 C400.7,481.5 400.8,483.4 401.0,484.0 M411.1,460.8 C412.0,461.2 415.0,462.5 416.8,463.6 C418.6,464.7 420.6,465.8 422.0,467.3 C423.4,468.9 424.6,472.0 425.1,472.9 M400.0,454.4 C400.2,455.0 400.9,456.6 401.0,457.8 C401.1,458.9 400.5,460.1 400.6,461.3 C400.7,462.4 401.4,464.1 401.6,464.6 M401.6,464.6 C401.7,465.2 402.2,466.9 402.2,468.1 C402.3,469.3 402.1,470.5 401.9,471.6 C401.7,472.7 401.1,474.4 400.9,475.0 M405.5,457.7 C405.3,458.2 405.0,460.0 404.7,461.1 C404.4,462.2 403.9,463.3 403.7,464.5 C403.5,465.6 403.4,467.4 403.3,468.0 M403.3,468.0 C403.4,468.5 403.7,470.3 403.6,471.5 C403.6,472.6 403.0,473.7 402.8,474.9 C402.7,476.0 402.7,477.8 402.7,478.4 M411.1,460.8 C411.6,461.1 413.2,461.9 414.1,462.6 C415.0,463.3 415.9,464.2 416.5,465.2 C417.0,466.2 417.1,468.0 417.2,468.6 M417.2,468.6 C417.5,469.1 418.3,470.7 418.6,471.8 C418.8,473.0 418.5,474.2 418.6,475.4 C418.7,476.5 419.0,478.3 419.1,478.8 M398.5,479.9 C398.5,481.0 398.8,484.2 398.7,486.3 C398.5,488.4 398.0,490.5 397.8,492.6 C397.5,494.8 397.5,498.0 397.4,499.0 M398.5,479.9 C398.2,480.4 397.4,482.0 396.7,482.9 C396.0,483.9 395.2,484.7 394.5,485.7 C393.9,486.7 393.2,488.3 392.9,488.8 M392.9,488.8 C392.7,489.4 392.2,491.1 391.9,492.2 C391.6,493.3 391.1,494.5 391.1,495.6 C391.0,496.7 391.6,498.5 391.6,499.1 M420.3,484.5 C420.6,485.5 421.9,488.5 422.3,490.5 C422.6,492.6 422.1,494.8 422.4,496.9 C422.7,499.0 423.9,502.0 424.2,503.1 M410.8,475.9 C411.0,476.4 411.6,478.1 412.2,479.1 C412.8,480.1 413.8,480.9 414.3,481.9 C414.8,483.0 414.9,484.8 415.0,485.4 M415.0,485.4 C415.0,485.9 414.9,487.7 415.0,488.9 C415.1,490.0 415.5,491.2 415.6,492.3 C415.6,493.5 415.3,495.2 415.3,495.8 M414.4,492.9 C414.4,493.9 414.9,497.2 414.6,499.2 C414.3,501.3 413.6,503.4 412.7,505.4 C411.8,507.3 409.9,509.9 409.3,510.8 M409.3,510.8 C409.1,511.8 408.2,514.9 408.0,517.0 C407.7,519.1 407.9,521.3 407.9,523.4 C408.0,525.5 408.3,528.7 408.3,529.8 M326.7,389.8 C326.6,390.3 326.3,391.7 326.0,392.6 C325.7,393.5 325.2,394.3 324.8,395.2 C324.4,396.0 323.7,397.3 323.5,397.7 M326.1,394.0 C326.0,394.5 325.5,395.8 325.4,396.8 C325.3,397.7 325.8,398.6 325.7,399.6 C325.7,400.5 325.3,401.9 325.2,402.4 M333.4,397.8 C333.5,398.2 334.0,399.6 334.3,400.4 C334.6,401.3 335.1,402.2 335.4,403.1 C335.6,404.0 335.8,405.4 335.8,405.9 M335.8,405.9 C335.9,406.3 336.1,407.8 336.0,408.7 C335.8,409.6 335.5,410.6 335.1,411.4 C334.7,412.3 333.7,413.4 333.5,413.8 M334.8,435.4 C334.3,436.1 332.7,438.2 331.7,439.6 C330.7,441.0 329.9,442.5 328.8,443.8 C327.7,445.1 325.7,446.8 325.1,447.4 M334.8,435.4 C334.5,435.8 333.8,437.1 333.3,437.8 C332.7,438.6 332.0,439.2 331.3,439.9 C330.6,440.5 329.5,441.4 329.1,441.7 M329.1,441.7 C329.0,442.2 328.5,443.5 328.3,444.5 C328.1,445.4 328.1,446.3 328.0,447.3 C327.9,448.2 327.8,449.6 327.7,450.1 M346.6,407.0 C346.5,407.5 346.1,408.9 346.0,409.8 C345.9,410.8 345.8,411.7 345.8,412.7 C345.9,413.6 346.1,415.0 346.1,415.5 M346.8,403.5 C346.6,403.9 345.9,405.2 345.6,406.1 C345.3,407.0 345.1,407.9 345.0,408.9 C345.0,409.8 345.4,411.2 345.4,411.7 M345.4,411.7 C345.5,412.2 345.9,413.5 346.1,414.5 C346.3,415.4 346.3,416.3 346.6,417.3 C346.8,418.2 347.4,419.5 347.6,419.9 M347.5,413.8 C347.4,414.2 346.9,415.6 346.5,416.5 C346.2,417.3 345.5,418.1 345.3,419.0 C345.1,419.9 345.3,421.4 345.3,421.8 M345.3,421.8 C345.4,422.3 345.6,423.7 345.9,424.6 C346.2,425.5 346.9,426.3 347.2,427.2 C347.4,428.1 347.5,429.5 347.6,430.0 M352.7,410.7 C352.8,411.6 353.0,414.2 353.0,415.9 C353.0,417.6 352.5,419.3 352.6,421.0 C352.8,422.7 353.8,425.2 354.1,426.0 M350.9,405.9 C351.1,406.3 351.9,407.5 352.2,408.4 C352.6,409.3 352.6,410.3 353.0,411.1 C353.3,412.0 354.2,413.2 354.4,413.6 M354.4,413.6 C354.5,414.0 354.7,415.4 354.7,416.4 C354.7,417.3 354.5,418.3 354.3,419.2 C354.2,420.2 354.0,421.6 353.9,422.0 M352.7,410.7 C352.4,411.1 351.5,412.1 351.0,412.9 C350.5,413.7 350.2,414.7 349.7,415.5 C349.2,416.3 348.3,417.4 348.0,417.8 M348.0,417.8 C347.7,418.1 346.9,419.3 346.3,420.0 C345.6,420.7 345.0,421.5 344.3,422.1 C343.6,422.7 342.5,423.6 342.1,423.9 M354.1,426.0 C353.9,426.4 353.4,427.8 353.1,428.7 C352.8,429.6 352.6,430.5 352.3,431.4 C351.9,432.3 351.2,433.5 350.9,433.9 M350.9,433.9 C350.7,434.3 349.8,435.4 349.4,436.3 C349.0,437.1 348.6,438.1 348.6,439.0 C348.5,439.9 348.9,441.4 349.0,441.8 M342.2,422.1 C342.0,423.0 341.6,425.5 341.3,427.2 C340.9,428.9 340.4,430.6 340.3,432.3 C340.1,434.0 340.4,436.6 340.4,437.4 M343.6,412.0 C343.3,412.3 342.4,413.4 341.9,414.3 C341.4,415.1 341.1,416.0 340.7,416.8 C340.4,417.7 339.8,419.0 339.6,419.5 M339.6,419.5 C339.5,419.9 339.1,421.3 338.6,422.1 C338.2,423.0 337.6,423.7 337.0,424.4 C336.4,425.2 335.3,426.1 335.0,426.5 M342.3,417.0 C342.4,417.4 342.6,418.8 342.9,419.7 C343.1,420.7 343.3,421.6 343.6,422.5 C343.9,423.4 344.4,424.7 344.6,425.2 M344.6,425.2 C344.8,425.6 345.3,426.9 345.8,427.7 C346.3,428.5 347.1,429.2 347.4,430.1 C347.7,430.9 347.6,432.4 347.6,432.9 M341.3,427.2 C340.9,427.5 339.9,428.5 339.1,429.1 C338.4,429.7 337.4,430.0 336.8,430.7 C336.2,431.4 335.7,432.8 335.5,433.2 M335.5,433.2 C335.4,433.7 334.9,435.1 334.9,436.0 C334.8,436.9 335.1,437.9 335.1,438.8 C335.0,439.8 334.5,441.1 334.4,441.6 M335.2,423.9 C335.1,424.8 335.4,427.4 335.1,429.1 C334.8,430.7 334.0,432.3 333.4,434.0 C332.8,435.6 331.9,438.0 331.6,438.8 M338.1,422.4 C338.1,422.8 338.3,424.3 338.2,425.2 C338.1,426.1 337.6,427.0 337.5,428.0 C337.5,428.9 337.9,430.3 337.9,430.8 M335.2,423.9 C335.4,424.3 336.3,425.4 336.7,426.3 C337.2,427.1 337.6,427.9 338.0,428.8 C338.3,429.7 338.7,431.1 338.8,431.5 M338.8,431.5 C338.8,432.0 338.6,433.4 338.5,434.3 C338.3,435.3 338.0,436.2 338.1,437.2 C338.1,438.1 338.4,439.5 338.5,440.0 M335.1,429.1 C334.7,429.2 333.2,429.3 332.3,429.7 C331.5,430.0 330.7,430.6 329.8,431.0 C329.0,431.4 327.7,432.1 327.3,432.3 M327.3,432.3 C327.0,432.6 325.9,433.6 325.5,434.5 C325.0,435.3 325.0,436.3 324.7,437.2 C324.4,438.1 323.8,439.4 323.6,439.8 M333.4,434.0 C333.2,434.3 332.4,435.6 331.8,436.3 C331.2,437.0 330.3,437.6 329.8,438.4 C329.3,439.1 329.0,440.6 328.8,441.0 M328.8,441.0 C328.8,441.5 328.9,442.9 329.0,443.8 C329.1,444.8 329.3,445.7 329.4,446.6 C329.4,447.6 329.2,449.0 329.2,449.5 M344.6,442.0 C344.4,442.8 343.8,445.4 343.3,447.0 C342.7,448.6 341.8,450.2 341.2,451.8 C340.6,453.4 339.8,455.8 339.5,456.6 M345.4,431.7 C345.7,432.1 346.6,433.2 347.1,434.1 C347.5,434.9 347.8,435.8 348.2,436.7 C348.7,437.5 349.5,438.6 349.8,439.0 M349.8,439.0 C350.0,439.5 350.3,440.9 350.7,441.7 C351.1,442.6 351.6,443.4 352.2,444.1 C352.8,444.9 353.8,445.9 354.1,446.2 M345.4,436.9 C345.6,437.3 346.4,438.6 346.6,439.5 C346.8,440.4 346.5,441.4 346.5,442.3 C346.6,443.3 346.6,444.7 346.7,445.2 M346.7,445.2 C346.8,445.6 347.1,447.1 347.5,447.9 C347.8,448.8 348.4,449.6 348.9,450.4 C349.5,451.1 350.4,452.2 350.7,452.6 M348.5,460.7 C348.4,461.5 348.3,464.1 348.0,465.8 C347.7,467.5 347.1,469.1 346.7,470.8 C346.3,472.5 345.8,475.0 345.6,475.9 M348.7,455.5 C348.6,456.0 348.5,457.4 348.2,458.3 C347.9,459.2 347.4,460.0 346.9,460.8 C346.4,461.6 345.4,462.7 345.1,463.0 M345.1,463.0 C344.8,463.4 343.8,464.4 343.4,465.3 C343.0,466.1 343.0,467.2 342.7,468.0 C342.3,468.9 341.5,470.1 341.2,470.5 M354.1,437.8 C354.4,438.6 355.5,441.0 355.9,442.6 C356.2,444.3 355.9,446.1 356.2,447.8 C356.6,449.5 357.5,451.9 357.8,452.7 M350.8,428.1 C350.6,428.5 350.0,429.8 349.8,430.7 C349.6,431.7 349.8,432.7 349.5,433.6 C349.3,434.5 348.6,435.8 348.4,436.2 M348.4,436.2 C348.3,436.6 347.9,438.0 347.6,438.9 C347.3,439.8 346.9,440.7 346.6,441.6 C346.3,442.5 345.8,443.8 345.6,444.2 M354.1,437.8 C353.9,438.2 353.1,439.4 352.8,440.3 C352.5,441.2 352.3,442.1 352.2,443.1 C352.2,444.0 352.6,445.4 352.6,445.9 M352.6,445.9 C352.6,446.4 352.5,447.8 352.6,448.7 C352.6,449.7 352.8,450.6 352.8,451.6 C352.9,452.5 352.9,453.9 352.9,454.4 M356.2,447.8 C356.2,448.3 356.0,449.7 356.0,450.6 C356.1,451.6 356.3,452.5 356.6,453.4 C356.9,454.3 357.8,455.5 358.0,455.9 M358.0,455.9 C358.2,456.3 358.6,457.7 359.0,458.6 C359.4,459.4 360.1,460.1 360.6,460.9 C361.2,461.7 362.0,462.8 362.3,463.2 M345.0,463.3 C344.4,464.0 342.8,466.0 341.7,467.3 C340.6,468.6 339.4,469.9 338.2,471.1 C337.0,472.3 335.2,474.1 334.5,474.8 M351.4,455.2 C351.0,455.5 350.0,456.5 349.2,457.1 C348.5,457.6 347.5,458.0 346.9,458.7 C346.4,459.4 346.1,460.9 345.9,461.4 M345.9,461.4 C345.8,461.8 345.3,463.2 345.1,464.1 C345.0,465.0 345.1,466.0 344.9,466.9 C344.7,467.9 344.2,469.2 344.1,469.7 M352.5,471.9 C351.9,472.5 350.2,474.4 349.1,475.8 C348.0,477.1 346.9,478.4 346.0,479.9 C345.1,481.3 344.0,483.7 343.6,484.5 M358.1,463.2 C357.7,463.5 356.4,464.2 355.7,464.8 C355.0,465.4 354.5,466.3 353.9,466.9 C353.2,467.6 352.0,468.4 351.6,468.7 M351.6,468.7 C351.4,469.1 350.7,470.4 350.3,471.2 C349.9,472.1 349.3,472.9 349.1,473.8 C348.9,474.7 349.0,476.2 349.0,476.6 M389.3,466.8 C389.8,467.5 391.3,469.6 392.4,470.9 C393.5,472.2 395.0,473.3 396.1,474.5 C397.2,475.8 398.7,478.0 399.2,478.6 M399.2,478.6 C399.7,479.4 401.0,481.6 401.7,483.2 C402.5,484.7 403.4,486.2 404.0,487.8 C404.5,489.4 405.0,492.0 405.2,492.9 M391.4,476.0 C392.2,476.3 394.8,477.1 396.0,478.3 C397.2,479.4 397.9,481.3 398.4,482.9 C398.9,484.5 399.0,487.1 399.1,488.0 M399.1,488.0 C399.1,488.9 399.5,491.5 399.3,493.2 C399.1,494.8 398.1,496.4 397.8,498.1 C397.5,499.8 397.6,502.4 397.6,503.3 M318.3,469.4 C318.6,470.4 319.6,473.3 319.7,475.3 C319.7,477.3 318.9,479.3 318.9,481.3 C318.9,483.3 319.3,486.3 319.4,487.3 M318.3,469.4 C318.1,469.9 317.5,471.5 317.2,472.5 C316.8,473.6 316.5,474.7 316.4,475.8 C316.3,476.9 316.6,478.5 316.6,479.1 M316.6,479.1 C316.8,479.6 317.7,481.1 317.9,482.2 C318.1,483.2 318.0,484.4 317.9,485.5 C317.9,486.6 317.7,488.2 317.7,488.8 M290.3,400.5 C290.1,401.0 289.8,402.4 289.3,403.3 C288.9,404.1 288.2,404.8 287.7,405.7 C287.3,406.5 287.0,407.9 286.9,408.4 M291.5,404.1 C291.6,404.5 291.8,406.0 291.7,406.9 C291.6,407.9 291.1,408.7 290.8,409.7 C290.5,410.6 290.1,411.9 290.0,412.4 M290.0,412.4 C289.7,412.8 288.8,414.0 288.4,414.8 C288.0,415.7 287.9,416.7 287.6,417.6 C287.2,418.5 286.6,419.7 286.4,420.2 M289.5,408.9 C289.2,409.2 288.3,410.4 287.7,411.1 C287.0,411.8 286.3,412.5 285.6,413.1 C284.9,413.7 283.7,414.5 283.3,414.8 M283.3,414.8 C283.1,415.2 282.2,416.4 281.9,417.3 C281.6,418.2 281.5,419.2 281.5,420.2 C281.6,421.1 282.0,422.5 282.1,423.0 M284.8,418.1 C284.9,418.6 284.9,420.0 285.2,420.9 C285.5,421.8 286.2,422.6 286.5,423.5 C286.7,424.4 286.5,425.9 286.5,426.4 M286.5,426.4 C286.5,426.9 286.1,428.3 286.0,429.2 C285.9,430.2 286.0,431.1 286.0,432.1 C286.1,433.0 286.1,434.5 286.1,434.9 M296.4,411.2 C296.4,411.7 296.5,413.2 296.4,414.1 C296.3,415.0 295.7,415.9 295.6,416.9 C295.6,417.8 295.9,419.2 296.0,419.7 M290.8,408.7 C291.2,409.0 292.3,409.9 293.1,410.4 C293.9,411.0 294.8,411.3 295.6,411.8 C296.4,412.4 297.5,413.3 297.8,413.6 M297.8,413.6 C298.2,414.0 299.1,415.1 299.8,415.8 C300.4,416.5 301.1,417.1 301.8,417.8 C302.5,418.4 303.6,419.4 304.0,419.7 M290.3,429.4 C290.5,429.8 291.4,431.0 291.7,431.9 C292.1,432.7 292.2,433.8 292.6,434.6 C292.9,435.5 293.8,436.7 294.1,437.1 M294.1,437.1 C294.3,437.5 295.0,438.8 295.3,439.6 C295.7,440.5 295.9,441.5 296.2,442.4 C296.6,443.3 297.0,444.6 297.2,445.1 M287.9,422.6 C287.6,423.4 286.7,425.9 285.8,427.4 C284.9,428.9 283.3,429.9 282.6,431.5 C281.9,433.0 281.7,435.7 281.6,436.6 M290.5,418.1 C290.7,418.5 291.5,419.8 291.7,420.7 C292.0,421.6 291.9,422.6 292.1,423.6 C292.2,424.5 292.4,425.9 292.4,426.4 M292.4,426.4 C292.3,426.9 292.0,428.3 291.7,429.2 C291.3,430.1 290.7,430.9 290.3,431.7 C289.9,432.6 289.3,433.9 289.1,434.3 M285.8,427.4 C286.1,427.8 287.0,428.9 287.6,429.6 C288.2,430.4 288.7,431.2 289.3,431.9 C289.9,432.7 290.9,433.7 291.2,434.1 M291.2,434.1 C291.4,434.6 291.7,435.9 291.9,436.9 C292.1,437.8 292.5,438.8 292.4,439.7 C292.4,440.6 291.9,442.0 291.8,442.5 M311.1,387.2 C311.3,388.0 312.1,390.3 312.5,391.9 C312.9,393.4 313.0,395.1 313.6,396.6 C314.1,398.1 315.5,400.2 315.9,400.9 M308.3,383.2 C308.5,383.6 309.2,384.8 309.4,385.6 C309.5,386.5 309.2,387.4 309.2,388.3 C309.2,389.2 309.3,390.6 309.3,391.0 M309.3,391.0 C309.4,391.5 309.5,392.8 309.8,393.7 C310.0,394.5 310.5,395.3 310.8,396.1 C311.1,397.0 311.3,398.3 311.4,398.8 M311.1,387.2 C311.5,387.4 312.7,388.0 313.4,388.6 C314.0,389.2 314.5,390.0 314.9,390.8 C315.2,391.6 315.4,393.0 315.5,393.4 M315.5,393.4 C315.5,393.9 315.4,395.2 315.6,396.1 C315.7,397.0 316.3,397.8 316.5,398.6 C316.6,399.5 316.5,400.9 316.5,401.3 M312.5,391.9 C312.9,392.1 314.1,392.7 314.8,393.2 C315.5,393.8 316.1,394.4 316.7,395.1 C317.3,395.8 318.1,396.9 318.4,397.2 M318.4,397.2 C318.7,397.5 319.8,398.4 320.3,399.1 C320.9,399.7 321.3,400.6 321.8,401.3 C322.4,402.0 323.4,402.9 323.7,403.2 M313.6,396.6 C313.4,397.1 313.0,398.3 312.6,399.2 C312.2,400.0 311.8,400.8 311.4,401.5 C310.9,402.3 310.0,403.3 309.8,403.7 M309.8,403.7 C309.6,404.1 309.1,405.4 308.9,406.3 C308.8,407.1 308.9,408.1 308.7,408.9 C308.6,409.8 308.3,411.1 308.3,411.6 M315.9,400.9 C315.8,401.4 315.3,402.6 315.2,403.5 C315.1,404.4 315.2,405.3 315.2,406.2 C315.1,407.1 315.1,408.4 315.0,408.9 M315.0,408.9 C315.1,409.3 315.5,410.6 315.7,411.5 C315.9,412.4 316.2,413.2 316.3,414.1 C316.5,415.0 316.5,416.3 316.5,416.8 M299.3,417.8 C299.2,418.6 299.0,421.0 298.8,422.6 C298.6,424.2 298.1,425.8 298.1,427.5 C298.1,429.1 298.5,431.5 298.6,432.3 M300.3,413.0 C300.0,413.3 299.2,414.4 298.6,415.0 C297.9,415.6 297.0,416.0 296.5,416.7 C295.9,417.3 295.4,418.6 295.2,419.0 M295.2,419.0 C295.0,419.5 294.7,420.8 294.4,421.6 C294.2,422.5 293.7,423.3 293.5,424.1 C293.3,425.0 293.4,426.4 293.4,426.8 M299.3,417.8 C299.1,418.2 298.6,419.4 298.3,420.2 C298.0,421.1 297.8,422.0 297.5,422.8 C297.3,423.7 296.7,424.9 296.6,425.3 M296.6,425.3 C296.3,425.7 295.7,426.9 295.2,427.6 C294.6,428.3 293.9,428.9 293.3,429.6 C292.8,430.3 292.3,431.6 292.1,432.0 M314.6,420.8 C314.9,421.6 315.8,423.8 316.5,425.3 C317.1,426.8 318.0,428.3 318.3,429.9 C318.6,431.4 318.2,433.9 318.2,434.7 M308.2,413.4 C307.9,413.8 307.1,414.8 306.5,415.4 C305.8,416.1 305.1,416.6 304.5,417.3 C304.0,418.0 303.4,419.3 303.2,419.7 M303.2,419.7 C303.2,420.1 303.1,421.4 303.0,422.3 C302.8,423.2 302.5,424.1 302.5,425.0 C302.5,425.9 303.0,427.2 303.1,427.6 M288.5,410.0 C288.5,410.8 288.2,413.3 288.4,414.9 C288.6,416.5 289.5,418.0 289.9,419.5 C290.2,421.1 290.4,423.6 290.6,424.4 M284.4,401.5 C284.1,401.8 283.1,402.8 282.6,403.5 C282.1,404.3 281.6,405.1 281.3,405.9 C280.9,406.7 280.6,408.0 280.4,408.4 M280.4,408.4 C280.3,408.9 280.0,410.2 279.8,411.0 C279.7,411.9 279.9,412.9 279.7,413.7 C279.5,414.6 278.8,415.8 278.6,416.2 M288.4,414.9 C288.8,415.1 289.8,415.9 290.6,416.5 C291.3,417.0 292.2,417.3 292.8,418.0 C293.4,418.6 293.8,420.0 293.9,420.4 M293.9,420.4 C294.0,420.8 294.1,422.2 294.3,423.1 C294.6,423.9 295.2,424.7 295.5,425.5 C295.7,426.3 295.9,427.7 296.0,428.1 M272.8,418.5 C272.8,419.3 273.1,421.8 272.9,423.4 C272.7,425.0 272.1,426.6 271.5,428.0 C270.8,429.5 269.3,431.5 268.9,432.2 M274.7,414.0 C274.3,414.0 272.8,414.0 272.0,414.4 C271.3,414.8 270.8,415.7 270.3,416.4 C269.7,417.1 269.1,418.3 268.9,418.7 M268.9,418.7 C268.8,419.1 268.6,420.5 268.5,421.4 C268.4,422.3 268.4,423.2 268.2,424.0 C267.9,424.9 267.2,426.1 267.0,426.5 M272.8,418.5 C272.4,418.7 271.1,419.2 270.4,419.7 C269.7,420.3 269.1,421.0 268.7,421.7 C268.2,422.5 267.7,423.8 267.5,424.2 M267.5,424.2 C267.5,424.6 267.5,426.0 267.3,426.9 C267.1,427.7 266.5,428.5 266.2,429.3 C265.8,430.1 265.3,431.4 265.2,431.8 M270.0,425.3 C269.5,425.9 267.9,427.8 266.9,429.0 C265.9,430.3 264.9,431.6 264.0,433.0 C263.2,434.4 262.1,436.6 261.8,437.3 M273.6,437.0 C273.6,437.8 273.4,440.3 273.7,441.9 C273.9,443.5 274.4,445.1 275.1,446.6 C275.7,448.0 277.2,450.1 277.6,450.8 M258.6,445.4 C258.2,446.1 256.8,448.1 256.0,449.5 C255.1,450.9 253.9,452.2 253.4,453.7 C252.8,455.1 252.7,457.7 252.6,458.5 M261.0,441.1 C260.9,441.6 260.4,442.9 260.4,443.8 C260.4,444.6 260.6,445.5 260.9,446.4 C261.2,447.3 261.8,448.5 261.9,448.9 M261.9,448.9 C261.9,449.3 261.8,450.7 261.8,451.6 C261.8,452.5 262.0,453.3 262.1,454.2 C262.2,455.1 262.4,456.5 262.4,456.9 M274.3,455.0 C274.5,455.8 275.4,458.1 275.7,459.7 C276.0,461.3 276.2,462.9 276.2,464.5 C276.3,466.2 276.2,468.6 276.2,469.4 M269.6,451.3 C269.7,452.1 270.0,454.6 269.8,456.2 C269.7,457.8 269.1,459.4 268.7,461.0 C268.4,462.6 267.9,465.0 267.8,465.8 M267.8,465.8 C267.7,466.6 267.9,469.1 267.6,470.6 C267.3,472.2 266.1,473.6 265.8,475.2 C265.6,476.8 266.1,479.2 266.2,480.1 M272.5,468.8 C271.9,469.5 270.3,471.3 269.4,472.6 C268.4,473.9 267.7,475.4 266.8,476.8 C265.8,478.1 264.1,479.8 263.6,480.5 M263.6,480.5 C263.1,481.1 261.3,482.9 260.6,484.3 C259.9,485.7 259.5,487.4 259.2,489.0 C258.9,490.6 258.8,493.1 258.7,493.9 M281.8,423.1 C281.6,423.6 281.0,425.0 280.4,425.9 C279.9,426.8 279.1,427.5 278.7,428.5 C278.4,429.4 278.4,431.1 278.3,431.6 M279.0,427.6 C278.9,428.1 278.4,429.7 278.4,430.7 C278.3,431.7 278.5,432.8 278.7,433.8 C278.9,434.8 279.4,436.3 279.6,436.8 M281.0,435.7 C280.6,436.1 279.5,437.2 278.7,437.9 C277.9,438.6 277.2,439.3 276.4,440.0 C275.6,440.7 274.4,441.6 274.0,442.0 M274.0,442.0 C273.6,442.3 272.3,443.2 271.4,443.8 C270.6,444.4 269.8,445.1 269.0,445.8 C268.3,446.5 267.2,447.6 266.8,448.0 M280.1,441.3 C280.4,441.7 281.5,442.9 282.3,443.6 C283.0,444.2 284.1,444.7 284.8,445.4 C285.5,446.1 286.4,447.5 286.7,447.9 M286.7,447.9 C286.8,448.4 287.0,449.9 287.3,450.9 C287.6,451.9 288.1,452.9 288.3,453.9 C288.4,454.9 288.1,456.5 288.1,457.0 M283.6,432.5 C283.7,433.0 283.8,434.6 284.0,435.6 C284.2,436.6 284.7,437.6 284.9,438.6 C285.0,439.6 285.1,441.2 285.1,441.7 M281.5,434.5 C281.6,435.0 281.9,436.5 282.1,437.5 C282.3,438.6 282.5,439.6 282.6,440.6 C282.7,441.7 282.5,443.2 282.5,443.7 M282.5,443.7 C282.4,444.3 282.1,445.8 282.0,446.8 C282.0,447.9 282.2,448.9 282.2,450.0 C282.1,451.0 282.0,452.5 281.9,453.1 M280.0,439.9 C280.3,440.3 281.7,441.2 282.2,442.1 C282.7,443.0 282.8,444.1 283.1,445.1 C283.3,446.1 283.5,447.7 283.6,448.2 M283.6,448.2 C283.8,448.7 284.4,450.1 284.8,451.1 C285.2,452.0 285.8,452.9 286.0,453.9 C286.2,454.9 286.0,456.5 286.0,457.1 M280.6,445.6 C281.0,445.8 282.4,446.6 283.3,447.1 C284.2,447.5 285.3,447.7 286.2,448.3 C287.0,448.9 287.9,450.3 288.2,450.7 M288.2,450.7 C288.5,451.1 289.5,452.4 290.0,453.3 C290.4,454.2 290.6,455.3 291.0,456.2 C291.4,457.2 291.9,458.7 292.1,459.1 M273.0,462.6 C273.4,463.5 274.8,466.1 275.2,467.9 C275.5,469.7 275.3,471.7 275.1,473.6 C274.9,475.5 274.3,478.2 274.1,479.2 M273.0,462.6 C272.6,462.9 271.4,463.9 270.6,464.6 C269.8,465.2 268.8,465.8 268.3,466.6 C267.7,467.5 267.3,469.1 267.1,469.5 M267.1,469.5 C266.8,470.0 265.9,471.3 265.2,472.0 C264.5,472.8 263.8,473.5 263.0,474.2 C262.2,474.9 261.0,475.9 260.6,476.3 M502.9,384.2 C502.9,384.9 502.6,387.0 502.5,388.4 C502.3,389.8 502.0,391.2 502.0,392.7 C502.0,394.1 502.4,396.2 502.4,396.9 M503.6,380.0 C503.3,380.2 502.3,380.8 501.6,381.2 C500.9,381.6 500.3,382.0 499.6,382.5 C499.0,382.9 498.0,383.6 497.7,383.8 M497.7,383.8 C497.4,384.0 496.2,384.4 495.6,384.9 C495.1,385.4 494.7,386.2 494.4,386.9 C494.1,387.6 493.9,388.8 493.8,389.2 M502.5,388.4 C502.3,388.8 502.1,390.0 501.7,390.6 C501.4,391.3 500.8,391.9 500.4,392.6 C500.0,393.3 499.7,394.4 499.6,394.8 M499.6,394.8 C499.6,395.2 499.7,396.3 499.7,397.1 C499.7,397.9 499.5,398.7 499.5,399.5 C499.5,400.2 499.7,401.4 499.7,401.8 M500.1,390.6 C499.9,391.3 499.0,393.3 498.9,394.7 C498.8,396.1 499.4,397.5 499.6,398.9 C499.8,400.3 500.1,402.4 500.2,403.1 M501.0,386.4 C501.3,386.7 502.4,387.3 502.9,387.9 C503.4,388.5 503.7,389.2 504.0,390.0 C504.2,390.7 504.5,391.8 504.6,392.2 M504.6,392.2 C504.8,392.6 505.1,393.7 505.3,394.4 C505.5,395.2 505.6,396.0 505.8,396.7 C506.0,397.5 506.4,398.6 506.5,399.0 M500.1,390.6 C500.4,390.9 501.2,391.7 501.7,392.3 C502.2,392.9 502.7,393.5 503.1,394.2 C503.6,394.8 504.2,395.8 504.4,396.1 M504.4,396.1 C504.4,396.5 504.5,397.7 504.6,398.5 C504.7,399.2 504.8,400.0 505.1,400.7 C505.4,401.5 506.0,402.5 506.2,402.8 M517.6,404.3 C517.9,404.9 519.0,406.8 519.7,408.0 C520.5,409.2 521.1,410.5 522.0,411.6 C522.8,412.8 524.4,414.2 524.9,414.7 M516.4,400.2 C516.8,400.2 518.0,399.8 518.7,400.0 C519.4,400.2 520.0,401.0 520.6,401.4 C521.2,401.9 522.1,402.7 522.4,402.9 M522.4,402.9 C522.5,403.3 523.0,404.4 523.3,405.1 C523.6,405.8 524.1,406.5 524.4,407.2 C524.8,407.9 525.3,408.9 525.5,409.2 M525.7,399.9 C526.3,400.4 527.9,401.7 529.1,402.5 C530.2,403.4 531.7,403.8 532.7,404.8 C533.6,405.9 534.4,407.9 534.8,408.6 M525.7,399.9 C526.0,400.1 527.1,400.6 527.7,401.1 C528.3,401.6 528.8,402.2 529.2,402.9 C529.7,403.6 530.1,404.7 530.2,405.0 M530.2,405.0 C530.2,405.4 530.5,406.6 530.4,407.4 C530.4,408.2 530.0,408.9 530.0,409.7 C530.0,410.5 530.3,411.6 530.3,412.0 M529.1,402.5 C529.1,402.9 529.1,404.1 529.1,404.9 C529.2,405.7 529.2,406.4 529.3,407.2 C529.3,408.0 529.4,409.2 529.4,409.6 M529.4,409.6 C529.6,409.9 529.9,411.0 530.2,411.8 C530.5,412.5 531.0,413.2 531.2,413.9 C531.4,414.7 531.4,415.9 531.4,416.2 M534.5,411.6 C535.0,412.1 536.7,413.5 537.6,414.5 C538.5,415.6 539.5,416.7 540.1,418.0 C540.7,419.3 540.9,421.4 541.1,422.1 M512.7,427.3 C513.1,427.9 514.6,429.6 515.1,430.8 C515.5,432.1 515.3,433.7 515.6,435.1 C515.9,436.5 516.6,438.5 516.9,439.2 M506.5,421.6 C506.8,421.8 508.0,422.3 508.5,422.8 C509.0,423.3 509.3,424.1 509.7,424.8 C510.1,425.5 510.6,426.5 510.8,426.9 M510.8,426.9 C510.9,427.3 511.2,428.4 511.4,429.1 C511.6,429.9 511.8,430.6 512.1,431.4 C512.3,432.1 512.7,433.2 512.9,433.6 M510.0,424.0 C510.3,424.3 511.2,425.0 511.8,425.5 C512.4,426.0 512.9,426.6 513.6,427.1 C514.2,427.6 515.2,428.2 515.5,428.4 M515.5,428.4 C515.8,428.6 516.8,429.2 517.4,429.8 C517.9,430.3 518.4,431.0 518.7,431.7 C518.9,432.5 518.9,433.7 519.0,434.1 M500.6,439.9 C500.9,440.5 502.2,442.4 502.5,443.7 C502.9,445.1 502.9,446.6 502.8,448.0 C502.6,449.4 502.0,451.5 501.9,452.2 M488.7,436.8 C489.1,437.4 490.6,439.1 491.1,440.3 C491.6,441.6 491.4,443.2 491.9,444.5 C492.4,445.8 493.7,447.6 494.0,448.2 M494.0,448.2 C494.2,448.9 494.7,451.0 495.2,452.4 C495.7,453.7 496.6,454.9 497.0,456.2 C497.4,457.6 497.6,459.7 497.7,460.4 M489.0,452.3 C489.2,452.9 490.0,455.0 490.3,456.3 C490.6,457.7 490.8,459.1 490.9,460.6 C491.1,462.0 491.2,464.1 491.2,464.8 M491.2,464.8 C491.1,465.5 490.7,467.6 490.6,469.0 C490.6,470.4 490.7,471.9 490.8,473.3 C491.0,474.7 491.3,476.8 491.4,477.5 M497.7,444.7 C497.2,445.1 495.1,446.0 494.2,447.1 C493.3,448.1 492.8,449.6 492.2,450.9 C491.7,452.1 491.0,454.2 490.7,454.8 M490.7,454.8 C490.6,455.5 490.0,457.6 490.0,459.0 C489.9,460.4 490.6,461.9 490.5,463.3 C490.4,464.7 489.8,466.8 489.7,467.5 M494.8,451.9 C494.1,452.1 492.0,452.5 490.7,453.2 C489.5,453.9 488.4,454.9 487.6,456.0 C486.7,457.1 485.9,459.2 485.6,459.8 M485.6,459.8 C485.2,460.4 484.0,462.2 483.3,463.4 C482.6,464.6 482.1,466.0 481.2,467.1 C480.4,468.3 478.8,469.7 478.3,470.3 M490.7,458.5 C491.0,459.1 491.9,461.0 492.5,462.3 C493.1,463.6 494.0,464.8 494.3,466.2 C494.6,467.6 494.4,469.8 494.5,470.5 M494.5,470.5 C494.5,471.2 494.7,473.3 494.7,474.7 C494.7,476.1 494.6,477.6 494.4,479.0 C494.3,480.4 493.9,482.5 493.8,483.2 M488.9,466.0 C488.5,466.6 486.9,468.2 486.4,469.4 C485.8,470.7 486.0,472.3 485.5,473.6 C485.0,475.0 483.9,476.8 483.6,477.4 M483.6,477.4 C483.4,478.1 482.6,480.1 482.3,481.5 C482.1,482.9 482.1,484.4 482.2,485.8 C482.4,487.2 483.1,489.2 483.3,489.9 M501.8,385.3 C501.8,386.4 501.5,390.0 501.9,392.2 C502.3,394.4 503.4,396.6 504.2,398.7 C505.1,400.9 506.4,404.1 506.9,405.2 M502.6,371.6 C503.0,372.2 504.1,373.7 504.7,374.9 C505.2,376.0 505.7,377.2 506.0,378.4 C506.3,379.7 506.3,381.6 506.3,382.3 M506.3,382.3 C506.1,382.9 505.4,384.7 505.2,385.9 C504.9,387.1 505.1,388.5 504.8,389.7 C504.4,390.9 503.4,392.6 503.1,393.1 M500.8,378.4 C500.5,378.9 499.5,380.5 499.0,381.7 C498.6,382.9 498.3,384.2 498.1,385.4 C497.8,386.7 497.6,388.6 497.5,389.2 M497.5,389.2 C497.3,389.8 496.5,391.6 496.1,392.8 C495.6,394.0 495.1,395.1 494.8,396.4 C494.6,397.6 494.7,399.6 494.6,400.2 M524.0,408.7 C524.7,409.6 527.1,412.3 528.0,414.4 C528.9,416.5 529.3,418.9 529.4,421.2 C529.5,423.5 528.8,427.0 528.6,428.1 M518.6,395.9 C518.4,396.5 517.7,398.2 517.3,399.4 C516.9,400.6 516.3,401.8 516.2,403.1 C516.0,404.3 516.3,406.3 516.4,406.9 M516.4,406.9 C516.3,407.5 515.9,409.4 515.9,410.7 C515.8,412.0 516.0,413.2 516.2,414.5 C516.3,415.8 516.6,417.7 516.7,418.3 M521.4,402.2 C521.2,402.8 520.6,404.6 520.3,405.9 C519.9,407.1 519.7,408.4 519.2,409.5 C518.7,410.7 517.6,412.3 517.3,412.8 M517.3,412.8 C517.1,413.5 516.6,415.3 516.1,416.5 C515.6,417.7 514.9,418.7 514.3,419.9 C513.7,421.0 512.6,422.6 512.3,423.1 M524.0,408.7 C523.6,409.2 522.3,410.5 521.5,411.5 C520.7,412.6 520.0,413.6 519.4,414.7 C518.7,415.8 517.7,417.4 517.3,418.0 M517.3,418.0 C517.1,418.6 516.6,420.4 516.0,421.6 C515.5,422.7 514.7,423.8 514.2,424.9 C513.6,426.0 512.9,427.8 512.6,428.4 M531.1,418.8 C531.7,419.8 533.5,422.8 534.5,424.9 C535.5,427.0 535.9,429.3 537.0,431.4 C538.1,433.4 540.3,436.1 541.0,437.1 M514.3,430.8 C513.7,431.8 511.6,434.7 510.9,436.9 C510.3,439.0 510.8,441.5 510.5,443.8 C510.2,446.1 509.4,449.5 509.2,450.6 M443.8,481.5 C443.1,482.5 441.2,485.4 439.7,487.2 C438.3,489.0 436.2,490.4 435.0,492.3 C433.9,494.3 433.3,497.8 432.9,498.9 M432.9,498.9 C432.8,500.1 432.5,503.6 432.3,505.9 C432.1,508.2 431.9,510.5 431.6,512.8 C431.4,515.1 430.8,518.5 430.6,519.7 M443.0,494.1 C442.9,495.3 442.3,498.8 442.5,501.1 C442.6,503.4 443.2,505.7 444.0,507.8 C444.9,510.0 446.9,512.8 447.5,513.9 M447.5,513.9 C448.0,514.9 449.5,518.1 450.1,520.3 C450.6,522.5 450.5,524.9 450.8,527.2 C451.1,529.5 451.7,533.0 451.8,534.1 M446.6,506.3 C447.2,507.2 449.2,510.1 450.4,512.1 C451.6,514.0 452.8,516.1 453.9,518.1 C455.1,520.1 456.8,523.1 457.4,524.1 M457.4,524.1 C457.9,525.1 459.4,528.3 460.7,530.2 C461.9,532.2 463.5,533.9 464.7,535.9 C466.0,537.8 467.7,540.8 468.3,541.8 M448.5,518.7 C448.4,519.9 447.8,523.3 447.7,525.7 C447.6,528.0 448.0,530.3 448.0,532.6 C447.9,534.9 447.6,538.4 447.5,539.5 M447.5,539.5 C447.9,540.6 449.3,543.9 449.8,546.1 C450.2,548.4 449.6,550.8 450.1,553.1 C450.6,555.3 452.1,558.5 452.5,559.6 M438.7,440.2 C439.3,441.7 441.6,445.9 442.4,448.8 C443.1,451.8 442.7,455.1 443.4,458.1 C444.0,461.2 445.9,465.5 446.4,467.0 M431.3,423.3 C431.4,424.1 431.9,426.6 432.2,428.3 C432.5,430.0 432.6,431.7 432.9,433.4 C433.2,435.1 434.0,437.6 434.2,438.4 M434.2,438.4 C434.2,439.3 434.2,441.8 434.1,443.5 C434.1,445.3 434.1,447.0 434.0,448.7 C434.0,450.4 433.9,453.0 433.9,453.8 M438.7,440.2 C438.3,441.0 437.0,443.2 436.2,444.7 C435.4,446.2 434.6,447.8 433.9,449.3 C433.3,450.9 432.6,453.4 432.3,454.2 M432.3,454.2 C432.3,455.1 432.4,457.6 432.3,459.4 C432.2,461.1 431.9,462.8 431.7,464.5 C431.6,466.2 431.6,468.8 431.6,469.6 M442.4,448.8 C442.2,449.7 441.8,452.2 441.4,453.9 C441.0,455.6 440.2,457.1 439.9,458.8 C439.5,460.5 439.3,463.1 439.2,463.9 M439.2,463.9 C438.9,464.7 437.9,467.1 437.6,468.8 C437.2,470.5 437.6,472.3 437.1,473.9 C436.7,475.6 435.3,477.8 434.9,478.6 M703.2,490.1 C703.5,490.7 704.6,492.4 705.4,493.6 C706.1,494.7 706.9,495.9 707.7,497.0 C708.5,498.1 709.8,499.7 710.3,500.2 M710.3,500.2 C710.7,500.7 712.1,502.3 713.1,503.2 C714.1,504.1 715.5,504.7 716.4,505.7 C717.3,506.7 718.2,508.6 718.6,509.1 M699.7,496.7 C700.0,497.3 701.2,499.0 701.8,500.3 C702.3,501.5 702.3,503.0 702.8,504.3 C703.3,505.5 704.5,507.2 704.9,507.8 M704.9,507.8 C705.3,508.4 706.5,510.0 707.3,511.2 C708.1,512.3 708.8,513.5 709.7,514.5 C710.6,515.5 712.2,516.8 712.7,517.3 M693.7,510.4 C693.8,511.0 694.2,513.1 694.5,514.4 C694.8,515.7 695.3,517.0 695.5,518.4 C695.6,519.8 695.3,521.8 695.3,522.5 M695.3,522.5 C695.3,523.2 695.4,525.3 695.4,526.6 C695.5,528.0 695.7,529.4 695.6,530.7 C695.5,532.1 694.9,534.1 694.8,534.8 M697.6,498.9 C697.0,500.0 695.5,503.5 694.2,505.6 C693.0,507.8 691.5,509.8 690.1,511.8 C688.6,513.9 686.4,516.9 685.6,517.9 M694.2,505.6 C693.6,505.7 691.4,505.7 690.2,506.3 C689.0,506.8 688.1,508.0 687.0,508.8 C685.9,509.7 684.1,510.8 683.6,511.2 M683.6,511.2 C683.0,511.6 681.1,512.5 680.1,513.4 C679.1,514.3 678.1,515.5 677.6,516.7 C677.1,517.9 677.2,520.1 677.1,520.8 M690.1,511.8 C689.4,511.9 687.3,511.9 686.0,512.0 C684.6,512.0 683.2,512.1 681.8,512.2 C680.5,512.3 678.4,512.6 677.8,512.7 M677.8,512.7 C677.2,513.1 675.3,514.1 674.5,515.2 C673.7,516.2 673.6,517.8 672.9,519.0 C672.3,520.2 670.9,521.8 670.5,522.4 M710.4,516.6 C710.7,517.8 712.1,521.3 712.7,523.7 C713.3,526.1 713.7,528.6 714.1,531.1 C714.5,533.5 714.9,537.3 715.1,538.5 M710.1,501.7 C710.5,502.2 711.8,503.9 712.6,505.0 C713.4,506.1 714.3,507.1 715.1,508.2 C715.8,509.4 716.7,511.2 717.1,511.8 M717.1,511.8 C717.1,512.5 717.4,514.6 717.1,516.0 C716.9,517.3 716.0,518.5 715.7,519.8 C715.4,521.2 715.6,523.3 715.6,523.9 M710.4,509.1 C710.3,509.8 710.3,511.9 709.9,513.2 C709.5,514.5 708.9,515.8 708.1,516.9 C707.4,518.1 706.1,519.7 705.7,520.2 M705.7,520.2 C705.3,520.8 704.2,522.6 703.3,523.6 C702.4,524.6 701.3,525.5 700.3,526.5 C699.4,527.4 697.9,528.9 697.4,529.4 M696.3,527.3 C695.9,528.4 694.1,531.8 693.5,534.2 C693.0,536.6 693.5,539.2 693.3,541.7 C693.0,544.2 692.5,547.9 692.3,549.1 M700.2,520.9 C699.7,521.3 698.2,522.8 697.2,523.7 C696.2,524.7 695.2,525.5 694.2,526.5 C693.3,527.5 692.0,529.1 691.5,529.6 M691.5,529.6 C691.1,530.2 689.8,531.8 689.3,533.1 C688.7,534.3 688.5,535.8 688.5,537.1 C688.4,538.5 688.9,540.5 689.0,541.2 M671.6,501.7 C671.4,502.4 671.3,504.5 670.9,505.8 C670.5,507.1 669.3,508.1 669.0,509.4 C668.7,510.7 669.0,512.9 669.0,513.6 M669.0,513.6 C668.9,514.2 668.6,516.3 668.5,517.6 C668.4,519.0 668.5,520.4 668.4,521.8 C668.3,523.1 667.8,525.1 667.7,525.8 M670.9,509.2 C671.3,509.7 672.9,511.2 673.4,512.4 C674.0,513.6 674.0,515.1 674.4,516.4 C674.8,517.7 675.7,519.6 675.9,520.2 M675.9,520.2 C676.2,520.9 677.2,522.7 677.7,524.0 C678.1,525.3 678.4,526.6 678.7,528.0 C678.9,529.3 679.0,531.4 679.1,532.1 M672.0,516.6 C672.6,517.0 674.2,518.2 675.3,519.1 C676.4,519.9 677.4,520.9 678.5,521.7 C679.6,522.5 681.4,523.5 682.0,523.8 M682.0,523.8 C682.5,524.3 684.1,525.6 685.0,526.7 C685.9,527.7 686.6,528.9 687.4,530.0 C688.2,531.1 689.5,532.7 689.9,533.2 M672.4,524.0 C672.2,524.7 671.5,526.7 671.5,528.0 C671.4,529.4 672.0,530.7 672.2,532.1 C672.4,533.5 672.7,535.5 672.8,536.2 M672.8,536.2 C672.7,536.9 672.2,538.9 672.3,540.3 C672.4,541.6 673.1,542.9 673.4,544.2 C673.7,545.6 674.0,547.6 674.1,548.3 M667.6,540.1 C668.0,541.3 669.6,544.7 670.4,547.0 C671.3,549.4 672.3,553.0 672.6,554.2 M664.7,533.2 C664.4,533.8 663.3,535.6 662.9,536.9 C662.4,538.2 662.4,539.6 661.9,540.9 C661.5,542.2 660.3,543.9 660.0,544.5 M660.0,544.5 C659.8,545.2 659.1,547.1 658.8,548.5 C658.6,549.8 658.6,551.2 658.4,552.6 C658.3,553.9 658.1,556.0 658.1,556.7 M667.6,540.1 C668.0,540.6 669.4,542.1 670.1,543.3 C670.9,544.5 671.5,545.7 671.9,547.0 C672.3,548.3 672.3,550.4 672.4,551.1 M672.4,551.1 C672.4,551.8 672.7,553.9 672.5,555.2 C672.3,556.6 671.5,558.5 671.4,559.2 M719.3,515.7 C720.1,516.6 723.1,519.1 724.3,521.3 C725.4,523.4 725.9,526.0 726.2,528.5 C726.6,531.0 726.2,534.7 726.2,536.0 M715.7,509.1 C715.2,509.6 713.6,511.0 712.8,512.0 C711.9,513.1 711.3,514.3 710.5,515.4 C709.6,516.6 708.3,518.1 707.9,518.7 M707.9,518.7 C707.4,519.1 705.9,520.6 704.9,521.5 C703.8,522.4 702.6,523.1 701.7,524.1 C700.7,525.0 699.5,526.7 699.0,527.2 M719.3,515.7 C719.8,516.1 721.5,517.3 722.7,518.0 C723.8,518.8 725.3,519.1 726.2,520.1 C727.2,521.0 728.0,523.0 728.4,523.6 M728.4,523.6 C728.6,524.2 729.6,526.1 729.7,527.5 C729.9,528.8 729.4,530.2 729.3,531.5 C729.1,532.9 728.9,535.0 728.8,535.6 M724.3,521.3 C724.6,521.9 725.8,523.6 726.4,524.8 C727.1,526.0 727.5,527.3 728.2,528.5 C728.9,529.7 730.2,531.3 730.6,531.8 M730.6,531.8 C730.8,532.5 731.8,534.4 731.9,535.7 C732.0,537.1 731.8,538.5 731.4,539.8 C731.0,541.1 729.8,542.9 729.5,543.5 M726.2,528.5 C726.5,529.1 727.7,530.9 728.1,532.2 C728.4,533.5 728.3,534.9 728.4,536.3 C728.6,537.7 728.8,539.7 728.9,540.4 M728.9,540.4 C728.8,541.1 728.5,543.1 728.3,544.5 C728.1,545.8 728.1,547.2 727.9,548.6 C727.8,549.9 727.5,552.0 727.4,552.6 M706.9,538.0 C707.1,539.2 707.5,543.0 708.3,545.3 C709.1,547.6 711.2,549.6 711.8,551.9 C712.4,554.3 712.0,558.2 712.0,559.4 M706.8,523.2 C706.6,523.9 706.1,525.9 706.1,527.3 C706.1,528.6 706.7,530.0 706.7,531.3 C706.7,532.7 706.2,534.7 706.0,535.4 M706.0,535.4 C706.1,536.1 706.2,538.1 706.4,539.5 C706.6,540.8 706.9,542.2 707.3,543.5 C707.7,544.8 708.6,546.7 708.9,547.3 M708.0,530.6 C708.3,531.2 709.2,533.2 709.3,534.5 C709.4,535.8 709.0,537.2 708.7,538.6 C708.4,539.9 707.6,541.8 707.3,542.4 M707.3,542.4 C707.3,543.1 707.4,545.2 707.1,546.6 C706.7,547.9 705.9,549.1 705.4,550.3 C704.9,551.6 704.1,553.5 703.8,554.1 M705.9,541.6 C705.2,542.7 703.2,545.9 702.2,548.2 C701.1,550.4 700.1,554.1 699.7,555.2 M709.2,534.9 C708.5,535.1 706.5,535.6 705.2,535.9 C703.9,536.3 702.4,536.4 701.2,537.0 C700.0,537.6 698.5,539.2 698.0,539.6 M698.0,539.6 C697.4,539.9 695.6,540.9 694.5,541.7 C693.4,542.5 692.3,543.4 691.4,544.4 C690.4,545.4 689.3,547.2 688.9,547.7 M705.9,541.6 C705.9,542.3 705.9,544.4 706.1,545.7 C706.4,547.1 707.1,549.0 707.3,549.7 M707.3,549.7 C707.4,550.4 708.0,552.4 708.2,553.7 C708.3,555.1 708.3,557.2 708.3,557.8 M719.7,546.8 C719.6,548.0 719.3,553.0 719.3,554.2 M719.7,546.8 C719.1,547.2 717.6,548.6 716.6,549.5 C715.5,550.3 713.7,551.4 713.2,551.8 M713.2,551.8 C712.6,552.3 711.2,553.7 710.1,554.6 C709.1,555.4 707.4,556.7 706.9,557.1 M693.0,426.2 C692.6,427.1 691.4,429.9 691.0,431.9 C690.5,433.8 690.3,435.9 690.4,437.8 C690.6,439.8 691.8,442.7 692.0,443.6 M692.0,443.6 C691.9,444.6 691.7,447.7 691.4,449.6 C691.1,451.6 690.3,453.5 690.1,455.5 C689.9,457.5 690.3,460.5 690.3,461.5 M644.9,392.1 C644.7,392.7 643.9,394.4 643.7,395.6 C643.6,396.8 644.1,398.0 644.2,399.2 C644.3,400.4 644.4,402.2 644.4,402.8 M657.9,393.1 C657.5,393.6 656.6,395.2 655.8,396.1 C655.0,397.1 654.1,397.8 653.2,398.6 C652.3,399.5 651.0,400.7 650.5,401.1 M650.5,401.1 C650.1,401.6 648.9,402.9 648.1,403.8 C647.2,404.7 646.2,405.5 645.6,406.5 C645.0,407.6 644.6,409.4 644.4,410.0 M657.5,412.5 C657.6,413.1 658.3,414.9 658.5,416.1 C658.6,417.2 658.5,418.5 658.5,419.7 C658.6,420.9 658.7,422.7 658.7,423.3 M658.7,423.3 C658.8,423.9 659.1,425.8 659.1,427.0 C659.1,428.2 658.8,429.4 658.7,430.6 C658.6,431.8 658.4,433.6 658.3,434.2 M645.8,402.7 C646.1,403.2 646.7,405.0 647.3,406.0 C647.9,407.1 648.6,408.1 649.4,409.0 C650.2,409.9 651.5,411.2 651.9,411.6 M651.9,411.6 C652.4,412.0 653.9,413.1 654.7,414.0 C655.5,414.9 655.9,416.1 656.6,417.1 C657.2,418.1 658.3,419.6 658.7,420.1 M670.1,420.3 C670.3,420.9 671.3,422.6 671.5,423.7 C671.7,424.9 671.2,426.2 671.4,427.4 C671.6,428.6 672.4,430.2 672.6,430.8 M665.2,418.2 C665.2,418.8 665.3,420.6 665.2,421.8 C665.0,423.0 664.4,424.2 664.3,425.4 C664.3,426.6 664.9,428.4 665.0,429.0 M665.0,429.0 C665.2,429.5 666.1,431.1 666.7,432.2 C667.2,433.3 667.8,434.4 668.3,435.5 C668.8,436.5 669.6,438.2 669.8,438.8 M665.5,424.8 C665.3,425.4 664.5,427.0 664.1,428.2 C663.6,429.3 663.4,430.5 662.9,431.6 C662.4,432.7 661.5,434.3 661.2,434.8 M661.2,434.8 C660.9,435.4 659.8,436.9 659.5,438.0 C659.1,439.2 658.9,440.4 658.9,441.6 C658.9,442.8 659.4,444.6 659.5,445.2 M680.4,444.2 C680.7,445.2 681.8,448.4 682.6,450.4 C683.4,452.5 685.0,454.3 685.4,456.4 C685.9,458.5 685.3,461.9 685.3,463.0 M678.2,437.9 C678.6,438.4 679.8,439.7 680.7,440.6 C681.5,441.5 682.5,442.2 683.4,443.1 C684.2,443.9 685.4,445.3 685.8,445.8 M685.8,445.8 C686.2,446.2 687.7,447.3 688.5,448.2 C689.4,449.1 690.2,450.0 690.9,450.9 C691.6,451.9 692.6,453.5 692.9,454.0 M681.0,467.8 C680.7,468.9 679.9,472.1 679.4,474.3 C678.9,476.4 678.2,478.6 678.2,480.8 C678.1,483.0 679.0,486.2 679.2,487.3 M682.3,461.3 C682.3,462.0 682.0,463.8 682.2,465.0 C682.4,466.2 683.1,467.3 683.5,468.4 C683.8,469.6 684.2,471.4 684.3,472.0 M684.3,472.0 C684.4,472.6 684.8,474.3 684.9,475.5 C685.1,476.7 685.0,478.0 685.2,479.2 C685.4,480.4 685.9,482.1 686.0,482.7 M630.1,378.9 C630.2,379.3 630.9,380.6 631.1,381.4 C631.2,382.3 631.1,383.3 631.1,384.2 C631.0,385.1 630.9,386.5 630.8,387.0 M626.6,383.4 C626.9,383.7 627.9,384.8 628.3,385.6 C628.7,386.4 628.7,387.4 629.0,388.2 C629.3,389.1 629.8,390.4 630.0,390.8 M617.5,384.2 C617.7,384.5 618.4,385.7 619.0,386.4 C619.6,387.2 620.5,387.7 620.9,388.5 C621.4,389.2 621.7,390.6 621.8,391.1 M621.8,391.1 C621.9,391.5 622.2,392.9 622.3,393.8 C622.4,394.7 622.6,395.7 622.5,396.6 C622.4,397.5 621.9,398.8 621.7,399.2 M616.8,389.1 C616.8,389.6 616.7,391.0 616.9,391.9 C617.0,392.8 617.5,393.7 617.7,394.6 C617.9,395.4 617.9,396.8 618.0,397.3 M618.0,397.3 C618.1,397.7 618.7,399.0 619.0,399.9 C619.3,400.7 619.5,401.7 619.7,402.5 C620.0,403.4 620.5,404.7 620.6,405.2 M616.3,394.2 C616.5,394.6 617.1,395.8 617.6,396.6 C618.1,397.4 618.7,398.1 619.2,398.9 C619.6,399.7 620.1,401.0 620.3,401.4 M620.3,401.4 C620.5,401.8 620.9,403.1 621.1,404.0 C621.3,404.9 621.5,405.9 621.5,406.8 C621.5,407.7 621.3,409.1 621.3,409.5 M619.9,388.0 C619.5,388.3 618.2,388.9 617.6,389.7 C617.1,390.4 617.1,391.4 616.7,392.3 C616.4,393.1 615.7,394.3 615.5,394.8 M615.5,394.8 C615.4,395.2 615.1,396.6 615.1,397.5 C615.0,398.4 615.2,399.3 615.4,400.2 C615.7,401.1 616.3,402.4 616.4,402.8 M613.9,401.7 C613.8,402.2 613.8,403.6 613.7,404.5 C613.6,405.4 613.3,406.3 613.3,407.2 C613.2,408.2 613.4,409.5 613.4,410.0 M613.4,410.0 C613.5,410.4 613.8,411.8 614.1,412.7 C614.4,413.5 614.8,414.4 615.2,415.2 C615.5,416.1 616.1,417.3 616.3,417.8 M626.6,417.9 C626.9,418.7 627.7,421.1 628.0,422.8 C628.2,424.4 628.2,426.2 628.1,427.8 C628.0,429.5 627.4,432.0 627.3,432.8 M627.5,408.1 C627.3,408.5 626.9,409.8 626.6,410.7 C626.4,411.6 626.1,412.5 625.9,413.4 C625.6,414.3 625.3,415.6 625.2,416.1 M625.2,416.1 C625.1,416.5 624.4,417.7 624.2,418.6 C623.9,419.5 624.0,420.5 623.7,421.3 C623.5,422.2 622.8,423.5 622.6,423.9 M628.0,422.8 C628.3,423.1 629.5,423.9 630.2,424.4 C631.0,424.8 632.0,425.1 632.7,425.7 C633.4,426.2 634.2,427.4 634.6,427.7 M634.6,427.7 C634.7,428.2 635.1,429.5 635.3,430.4 C635.5,431.3 635.6,432.2 635.7,433.1 C635.9,434.0 636.0,435.4 636.1,435.9 M610.7,415.9 C611.1,416.6 612.4,418.8 613.1,420.3 C613.9,421.8 614.4,423.4 615.2,424.9 C615.9,426.4 617.2,428.6 617.6,429.3 M605.8,407.1 C605.6,407.5 604.8,408.7 604.5,409.5 C604.1,410.4 603.9,411.3 603.7,412.2 C603.4,413.0 603.0,414.4 602.9,414.8 M602.9,414.8 C602.8,415.3 602.9,416.7 602.7,417.6 C602.5,418.5 602.1,419.3 601.8,420.2 C601.5,421.1 601.0,422.4 600.9,422.8 M608.5,411.4 C608.8,411.7 609.9,412.6 610.4,413.3 C611.0,414.1 611.4,414.9 611.7,415.8 C612.0,416.6 611.9,418.1 612.0,418.5 M612.0,418.5 C612.1,419.0 612.5,420.3 612.7,421.2 C612.9,422.1 613.0,423.0 613.1,424.0 C613.2,424.9 613.2,426.3 613.2,426.7 M608.5,423.3 C608.5,424.2 608.6,426.7 608.4,428.4 C608.3,430.0 608.0,431.7 607.6,433.3 C607.1,434.9 606.2,437.3 605.9,438.1 M604.8,414.0 C604.8,414.5 604.9,415.9 604.7,416.8 C604.5,417.7 603.9,418.5 603.6,419.3 C603.3,420.2 602.8,421.5 602.7,422.0 M602.7,422.0 C602.5,422.4 602.0,423.7 601.6,424.5 C601.1,425.3 600.6,426.1 600.2,426.9 C599.8,427.7 599.5,429.1 599.3,429.5 M608.5,423.3 C608.7,423.7 609.2,425.0 609.6,425.9 C610.0,426.7 610.6,427.4 611.2,428.1 C611.7,428.9 612.5,430.0 612.8,430.4 M612.8,430.4 C613.0,430.8 613.3,432.2 613.7,433.0 C614.0,433.8 614.6,434.6 615.0,435.4 C615.4,436.2 616.1,437.5 616.3,437.9 M608.4,428.4 C608.7,428.7 609.6,429.8 609.9,430.7 C610.2,431.5 610.1,432.5 610.3,433.4 C610.4,434.3 610.7,435.7 610.8,436.1 M610.8,436.1 C610.9,436.6 610.8,438.0 611.0,438.9 C611.2,439.8 611.9,440.6 612.1,441.5 C612.2,442.4 612.0,443.8 611.9,444.2 M572.4,439.8 C572.3,440.6 571.8,443.1 571.6,444.8 C571.5,446.5 571.3,448.2 571.6,449.8 C571.9,451.4 573.1,453.8 573.4,454.5 M574.7,430.1 C574.9,430.5 575.6,431.7 576.0,432.5 C576.5,433.3 576.9,434.1 577.3,435.0 C577.7,435.8 578.1,437.1 578.3,437.6 M578.3,437.6 C578.5,438.0 579.1,439.2 579.5,440.1 C579.8,440.9 580.3,441.8 580.5,442.6 C580.7,443.5 580.5,444.9 580.5,445.4 M571.6,444.8 C571.6,445.2 571.5,446.6 571.4,447.5 C571.3,448.5 571.2,449.4 570.9,450.3 C570.6,451.1 569.9,452.4 569.8,452.8 M569.8,452.8 C569.6,453.2 569.4,454.6 569.1,455.5 C568.8,456.4 568.5,457.2 568.1,458.1 C567.8,458.9 567.2,460.2 567.0,460.6 M604.6,525.5 C604.2,526.7 603.2,530.2 602.2,532.4 C601.1,534.6 599.7,536.7 598.3,538.6 C596.8,540.5 594.0,543.0 593.2,543.9 M607.8,539.2 C608.2,540.4 609.3,543.9 610.1,546.2 C610.9,548.5 612.3,551.9 612.8,553.0 M884.2,386.8 C884.4,387.2 884.8,388.5 885.0,389.4 C885.1,390.2 885.1,391.2 885.0,392.0 C884.9,392.9 884.3,394.2 884.2,394.6 M889.1,388.9 C889.4,389.1 890.7,389.8 891.3,390.4 C891.9,391.1 892.3,391.9 892.7,392.7 C893.2,393.5 893.7,394.7 894.0,395.1 M888.3,394.1 C888.7,394.4 889.8,395.1 890.4,395.8 C891.1,396.4 891.5,397.2 891.9,398.0 C892.4,398.8 892.8,400.1 892.9,400.5 M891.0,403.6 C891.3,404.0 892.2,405.0 892.6,405.8 C893.1,406.6 893.3,407.5 893.7,408.2 C894.1,409.0 894.9,410.1 895.2,410.5 M886.5,406.2 C886.8,406.5 887.8,407.4 888.4,408.1 C888.9,408.8 889.4,409.6 890.0,410.3 C890.5,411.0 891.3,412.1 891.6,412.4 M891.6,412.4 C891.7,412.9 892.0,414.2 892.1,415.1 C892.1,416.0 891.7,416.9 891.7,417.7 C891.6,418.6 891.7,420.0 891.7,420.4 M886.6,411.0 C886.9,411.3 888.1,412.1 888.6,412.8 C889.0,413.6 889.3,414.5 889.5,415.4 C889.6,416.3 889.3,417.6 889.3,418.1 M889.3,418.1 C889.3,418.5 889.4,419.9 889.3,420.8 C889.2,421.6 888.7,422.5 888.7,423.4 C888.7,424.3 889.1,425.6 889.2,426.0 M886.5,415.9 C886.4,416.4 885.9,417.7 885.9,418.6 C885.8,419.4 886.3,420.3 886.2,421.2 C886.2,422.1 885.8,423.4 885.7,423.9 M885.7,423.9 C885.7,424.3 886.0,425.6 886.0,426.5 C886.1,427.4 886.0,428.3 885.9,429.2 C885.8,430.1 885.6,431.4 885.5,431.9 M883.0,428.8 C882.8,429.6 882.3,432.0 882.1,433.6 C881.9,435.2 881.7,436.9 881.8,438.5 C881.9,440.1 882.7,442.5 882.9,443.3 M889.5,421.6 C889.8,421.9 890.4,423.1 890.9,423.9 C891.4,424.6 891.9,425.4 892.4,426.1 C892.9,426.8 893.8,427.9 894.1,428.2 M894.1,428.2 C894.3,428.6 895.0,429.7 895.6,430.5 C896.1,431.2 896.7,431.9 897.3,432.5 C897.8,433.2 898.7,434.3 899.0,434.6 M905.1,436.6 C905.6,437.1 907.5,438.8 908.6,440.0 C909.6,441.2 910.7,442.5 911.5,443.9 C912.3,445.3 913.2,447.6 913.5,448.4 M901.1,433.7 C901.1,434.1 901.3,435.5 901.2,436.4 C901.1,437.2 900.5,438.0 900.3,438.9 C900.2,439.8 900.3,441.1 900.3,441.6 M900.3,441.6 C900.3,442.0 900.4,443.4 900.5,444.3 C900.5,445.2 900.4,446.1 900.5,447.0 C900.7,447.8 901.3,449.1 901.5,449.5 M905.1,436.6 C905.4,436.9 906.3,437.9 906.8,438.6 C907.3,439.3 907.7,440.2 908.1,441.0 C908.6,441.7 909.3,442.9 909.6,443.2 M909.6,443.2 C909.9,443.6 910.9,444.5 911.4,445.2 C911.8,446.0 912.0,446.9 912.3,447.7 C912.7,448.6 913.4,449.7 913.6,450.1 M873.4,468.4 C872.7,468.9 870.6,470.2 869.5,471.4 C868.4,472.6 867.4,474.0 866.9,475.5 C866.4,477.0 866.6,479.6 866.5,480.4 M878.7,453.8 C878.9,454.6 879.5,457.0 880.0,458.5 C880.5,460.1 881.1,461.6 881.6,463.2 C882.1,464.7 882.9,467.0 883.2,467.8 M881.6,463.2 C881.8,463.5 882.5,464.7 883.0,465.5 C883.4,466.2 884.0,467.0 884.4,467.7 C884.8,468.5 885.4,469.7 885.6,470.1 M885.6,470.1 C885.8,470.6 886.3,471.8 886.4,472.7 C886.5,473.6 886.0,474.5 886.1,475.4 C886.1,476.3 886.4,477.6 886.4,478.1 M870.8,467.2 C870.3,467.8 868.7,469.6 867.8,471.0 C867.0,472.4 866.4,474.0 865.9,475.5 C865.3,477.0 865.0,479.5 864.8,480.3 M877.1,459.7 C877.2,460.2 877.2,461.5 877.4,462.4 C877.6,463.2 878.2,464.0 878.5,464.9 C878.7,465.7 878.7,467.1 878.8,467.5 M878.8,467.5 C878.9,467.9 879.5,469.2 879.7,470.1 C879.8,470.9 879.7,471.9 879.6,472.7 C879.5,473.6 879.0,474.9 878.9,475.4 M887.3,478.5 C887.3,479.4 887.3,481.8 887.2,483.4 C887.2,485.1 886.9,486.7 887.1,488.3 C887.3,489.9 888.0,492.3 888.2,493.1 M885.7,473.9 C886.1,474.2 887.4,474.7 887.9,475.4 C888.5,476.1 888.5,477.1 888.9,477.9 C889.4,478.7 890.3,479.7 890.6,480.0 M890.6,480.0 C890.7,480.5 890.9,481.8 891.3,482.6 C891.6,483.4 892.2,484.2 892.7,484.9 C893.2,485.7 893.9,486.8 894.1,487.2 M871.3,454.5 C871.9,455.0 873.8,456.6 875.0,457.7 C876.3,458.7 877.6,459.8 878.9,460.6 C880.3,461.5 882.5,462.7 883.2,463.1 M849.4,476.9 C848.8,477.5 846.9,479.2 846.2,480.6 C845.5,482.0 845.1,483.7 845.0,485.3 C844.8,486.9 845.2,489.4 845.2,490.2 M845.2,490.2 C845.1,491.0 844.8,493.5 844.3,495.0 C843.8,496.6 842.6,497.9 842.2,499.5 C841.9,501.0 842.1,503.5 842.1,504.3 M849.7,485.8 C849.3,486.5 848.1,488.6 847.3,490.0 C846.6,491.5 845.4,492.8 844.9,494.3 C844.5,495.8 844.7,498.4 844.6,499.2 M844.6,499.2 C844.6,500.0 844.3,502.4 844.4,504.1 C844.6,505.7 844.8,507.3 845.3,508.9 C845.7,510.4 846.9,512.6 847.3,513.3 M876.4,379.2 C876.6,379.8 877.1,381.8 877.3,383.2 C877.6,384.5 877.8,385.9 877.9,387.3 C878.1,388.6 878.2,390.7 878.2,391.4 M869.7,389.3 C869.5,389.9 869.2,392.0 868.7,393.3 C868.1,394.5 867.0,395.5 866.5,396.8 C866.1,398.0 866.1,400.2 866.0,400.8 M854.2,390.6 C853.8,391.2 852.6,392.8 851.8,394.0 C851.1,395.1 850.6,396.5 849.9,397.6 C849.1,398.7 847.7,400.2 847.3,400.8 M859.8,406.3 C860.1,406.9 861.1,408.7 861.7,409.9 C862.3,411.1 862.7,412.5 863.4,413.7 C864.1,414.8 865.4,416.4 865.9,417.0 M842.4,407.8 C841.9,408.3 840.3,409.6 839.4,410.6 C838.5,411.6 837.8,412.8 836.9,413.9 C836.1,415.0 834.7,416.5 834.2,417.0 M850.6,409.3 C850.5,409.9 850.2,412.0 850.0,413.3 C849.8,414.7 849.6,416.0 849.4,417.4 C849.3,418.7 849.2,420.8 849.2,421.5 M849.2,421.5 C849.1,422.2 849.1,424.2 848.9,425.6 C848.8,426.9 848.5,428.3 848.1,429.6 C847.7,430.9 846.8,432.8 846.5,433.4 M867.4,400.3 C867.6,401.0 868.5,402.8 868.8,404.2 C869.0,405.5 869.1,407.0 868.9,408.3 C868.7,409.6 867.7,411.5 867.5,412.1 M863.0,409.0 C863.5,409.5 865.1,410.8 865.9,411.9 C866.7,413.0 867.3,414.3 868.0,415.4 C868.8,416.5 870.0,418.2 870.4,418.8 M852.1,415.6 C851.8,416.2 850.4,417.9 850.0,419.1 C849.5,420.4 849.5,421.8 849.4,423.2 C849.3,424.6 849.5,426.6 849.5,427.3 M849.5,427.3 C849.3,428.0 848.4,429.9 848.3,431.3 C848.2,432.6 848.8,434.0 848.8,435.3 C848.9,436.7 848.8,438.8 848.8,439.4 M856.4,429.9 C856.1,430.5 854.9,432.2 854.5,433.5 C854.1,434.8 854.0,436.2 853.9,437.6 C853.9,438.9 854.1,441.0 854.1,441.7 M854.1,441.7 C854.0,442.3 853.2,444.3 853.2,445.7 C853.1,447.0 853.6,448.4 853.8,449.7 C854.0,451.1 854.2,453.1 854.3,453.8 M893.5,431.3 C893.8,431.9 895.1,433.6 895.4,434.9 C895.7,436.2 895.1,437.7 895.3,439.0 C895.5,440.4 896.5,442.3 896.7,442.9 M875.9,435.8 C875.4,436.3 874.1,437.9 873.1,438.8 C872.1,439.7 870.9,440.6 869.8,441.3 C868.6,442.0 866.8,443.0 866.2,443.3 M866.2,443.3 C865.6,443.7 863.9,444.7 862.7,445.4 C861.5,446.2 860.1,446.6 859.2,447.6 C858.3,448.5 857.5,450.5 857.2,451.1 M899.3,464.4 C898.9,465.6 897.8,469.1 897.3,471.6 C896.9,474.0 896.6,476.5 896.4,479.0 C896.2,481.5 896.1,485.2 896.1,486.5 M909.0,453.1 C909.5,453.5 911.3,454.7 912.1,455.8 C912.9,456.8 913.5,458.2 913.9,459.5 C914.4,460.7 914.8,462.8 915.0,463.4 M915.0,463.4 C915.1,464.1 915.4,466.1 915.6,467.5 C915.8,468.9 915.8,470.2 916.0,471.6 C916.1,473.0 916.4,475.0 916.5,475.7 M904.5,459.0 C904.8,459.6 906.0,461.4 906.4,462.7 C906.7,464.0 906.6,465.4 906.6,466.8 C906.5,468.2 906.0,470.2 905.8,470.8 M905.8,470.8 C905.9,471.5 905.8,473.6 906.0,474.9 C906.1,476.3 906.7,477.6 906.8,479.0 C907.0,480.3 906.9,482.4 907.0,483.1 M899.3,464.4 C899.7,464.9 901.1,466.5 901.7,467.7 C902.3,468.9 902.8,470.3 902.9,471.6 C903.0,472.9 902.5,475.0 902.4,475.7 M902.4,475.7 C902.3,476.4 901.9,478.4 901.5,479.7 C901.1,481.0 900.3,482.1 899.8,483.4 C899.3,484.7 898.9,486.7 898.7,487.4 M897.6,437.8 C897.5,438.5 896.8,440.5 896.7,441.8 C896.6,443.1 897.0,444.5 897.2,445.9 C897.4,447.2 897.9,449.2 898.0,449.9 M900.5,441.8 C900.1,442.3 898.8,443.9 897.9,445.0 C897.1,446.1 896.2,447.1 895.5,448.3 C894.8,449.4 893.9,451.3 893.5,451.9 M913.8,446.2 C913.8,446.8 913.5,448.9 913.3,450.2 C913.2,451.6 913.1,453.0 913.0,454.3 C912.9,455.7 912.8,457.7 912.8,458.4 M912.8,458.4 C912.5,459.1 911.7,460.9 911.2,462.2 C910.8,463.5 910.6,464.9 910.3,466.2 C910.0,467.6 909.6,469.6 909.4,470.3 M917.8,452.5 C918.3,453.0 919.7,454.5 920.6,455.5 C921.4,456.6 922.1,457.8 922.8,459.0 C923.6,460.1 924.8,461.8 925.2,462.3 M925.2,462.3 C925.3,463.0 925.5,465.1 925.7,466.4 C926.0,467.7 926.7,469.0 926.8,470.4 C927.0,471.7 926.7,473.8 926.7,474.5 M919.6,459.7 C919.4,460.4 918.8,462.4 918.3,463.6 C917.7,464.9 916.7,466.0 916.3,467.2 C915.9,468.5 915.9,470.6 915.8,471.3 M915.8,471.3 C915.7,472.0 915.5,474.0 915.5,475.4 C915.5,476.8 915.8,478.1 915.9,479.5 C916.0,480.9 916.0,482.9 916.0,483.6 M888.5,449.3 C888.3,450.0 887.5,451.9 887.4,453.3 C887.3,454.6 888.0,456.0 887.9,457.3 C887.8,458.7 887.1,460.7 886.9,461.3 M881.9,466.0 C882.0,466.7 882.3,468.7 882.5,470.1 C882.6,471.4 882.6,472.8 882.7,474.2 C882.7,475.5 882.9,477.6 882.9,478.3 M882.9,478.3 C882.9,478.9 882.9,481.0 883.0,482.4 C883.1,483.7 883.6,485.1 883.6,486.4 C883.6,487.8 883.1,489.8 883.0,490.5 M918.6,466.7 C919.1,467.8 920.9,471.2 921.4,473.6 C922.0,476.0 922.1,478.5 922.1,481.0 C922.1,483.5 921.6,487.2 921.5,488.5 M897.1,494.3 C897.0,495.6 897.3,499.3 896.9,501.8 C896.6,504.2 895.5,506.6 895.1,509.0 C894.7,511.5 894.7,515.2 894.7,516.5 M904.7,481.6 C904.9,482.3 905.8,484.2 905.9,485.5 C906.0,486.9 905.5,488.3 905.2,489.6 C905.0,490.9 904.5,492.9 904.3,493.6 M904.3,493.6 C904.1,494.3 903.6,496.3 903.2,497.6 C902.9,498.9 902.2,500.2 902.0,501.5 C901.9,502.8 902.4,504.9 902.4,505.6 M897.1,494.3 C896.6,494.9 895.5,496.6 894.6,497.6 C893.6,498.6 892.5,499.4 891.4,500.3 C890.4,501.1 888.7,502.3 888.1,502.7 M888.1,502.7 C887.6,503.1 885.9,504.2 884.9,505.2 C883.8,506.1 882.8,507.0 882.0,508.1 C881.2,509.2 880.2,511.0 879.9,511.6 M878.3,495.0 C878.2,496.2 877.5,500.0 877.5,502.4 C877.5,504.9 878.1,507.4 878.3,509.8 C878.6,512.3 879.0,516.0 879.1,517.3 M886.3,482.4 C885.8,482.9 884.4,484.4 883.3,485.3 C882.2,486.1 880.7,486.6 879.9,487.6 C879.1,488.6 878.7,490.8 878.5,491.5 M878.5,491.5 C878.3,492.1 877.8,494.1 877.2,495.4 C876.6,496.6 875.5,497.5 874.9,498.8 C874.3,500.0 873.9,502.0 873.7,502.7 M881.8,488.4 C882.3,488.8 883.8,490.2 884.8,491.1 C885.9,492.0 887.1,492.8 887.9,493.9 C888.7,494.9 889.3,497.0 889.6,497.6 M889.6,497.6 C889.7,498.3 890.1,500.3 890.3,501.7 C890.5,503.0 890.6,504.4 890.7,505.7 C890.8,507.1 890.8,509.2 890.9,509.9 M878.3,495.0 C878.0,495.6 877.1,497.5 876.6,498.7 C876.0,500.0 875.2,501.2 875.0,502.5 C874.7,503.8 875.0,505.9 875.0,506.6 M875.0,506.6 C875.2,507.3 876.0,509.2 876.1,510.6 C876.3,511.9 876.0,513.3 875.9,514.7 C875.7,516.0 875.3,518.1 875.2,518.7 M875.3,507.2 C874.3,507.9 871.4,510.3 869.4,511.8 C867.4,513.2 864.9,514.1 863.2,515.9 C861.5,517.6 859.8,521.1 859.1,522.2 M880.7,502.0 C880.9,502.7 881.2,504.8 881.7,506.0 C882.2,507.3 883.3,508.3 883.8,509.5 C884.3,510.8 884.4,512.9 884.6,513.6 M884.6,513.6 C884.9,514.2 886.0,515.9 886.6,517.2 C887.2,518.4 887.6,519.7 888.1,521.0 C888.6,522.2 889.4,524.1 889.7,524.8 M875.3,507.2 C874.7,507.5 872.7,508.3 871.8,509.3 C870.8,510.2 870.4,511.7 869.8,512.9 C869.1,514.1 868.2,515.9 867.8,516.5 M867.8,516.5 C867.6,517.1 866.6,519.0 866.2,520.3 C865.8,521.6 865.7,523.0 865.4,524.3 C865.2,525.7 865.0,527.7 864.9,528.4 M895.7,524.2 C896.4,525.1 899.0,528.0 900.2,530.1 C901.4,532.3 902.3,534.7 903.0,537.0 C903.7,539.4 904.1,543.2 904.3,544.4 M889.1,510.7 C888.7,511.2 887.0,512.5 886.2,513.6 C885.4,514.7 884.7,515.9 884.3,517.2 C883.8,518.5 883.7,520.6 883.6,521.3 M883.6,521.3 C883.3,521.9 882.5,523.8 881.8,525.0 C881.2,526.2 880.5,527.4 879.8,528.5 C879.0,529.7 877.9,531.4 877.5,531.9 M927.1,497.0 C926.9,498.3 925.8,501.9 925.8,504.4 C925.8,506.8 926.8,509.3 926.8,511.8 C926.9,514.3 926.3,518.0 926.2,519.2 M921.7,483.6 C922.0,484.2 922.6,486.2 923.3,487.4 C924.0,488.6 925.2,489.5 925.8,490.7 C926.4,491.9 926.8,493.9 927.0,494.6 M927.0,494.6 C927.0,495.3 926.7,497.4 926.9,498.7 C927.1,500.0 927.7,501.3 928.2,502.6 C928.7,503.9 929.6,505.7 929.9,506.4 M927.1,497.0 C926.7,497.6 925.7,499.4 925.0,500.6 C924.2,501.7 923.2,502.7 922.7,504.0 C922.2,505.2 922.1,507.3 921.9,508.0 M921.9,508.0 C922.0,508.7 921.8,510.8 922.1,512.1 C922.3,513.5 922.9,514.7 923.3,516.0 C923.7,517.3 924.4,519.3 924.7,519.9 M910.1,523.9 C909.7,525.1 908.3,528.6 907.7,531.0 C907.2,533.4 906.9,536.0 906.9,538.5 C907.0,540.9 908.0,544.6 908.2,545.8 M913.2,509.5 C913.7,510.0 915.1,511.5 915.8,512.6 C916.6,513.8 917.3,515.0 917.7,516.3 C918.1,517.6 918.2,519.7 918.3,520.4 M918.3,520.4 C918.6,521.0 919.3,522.9 919.8,524.2 C920.4,525.4 921.1,526.6 921.8,527.8 C922.6,528.9 923.9,530.5 924.3,531.0 M910.7,516.5 C910.3,517.1 909.2,518.8 908.7,520.1 C908.1,521.3 907.5,522.6 907.2,523.9 C907.0,525.2 907.2,527.3 907.2,528.0 M907.2,528.0 C907.3,528.7 907.5,530.8 907.7,532.1 C907.9,533.5 908.0,534.8 908.4,536.1 C908.8,537.4 909.8,539.3 910.1,539.9 M923.5,543.7 C924.2,544.7 926.3,547.8 927.8,549.8 C929.4,551.7 931.9,554.5 932.7,555.5 M927.8,549.8 C928.7,550.7 931.9,554.5 932.7,555.5 M815.4,485.4 C814.5,486.3 811.6,488.8 810.3,490.9 C809.0,493.1 808.7,495.7 807.8,498.1 C806.9,500.4 805.5,503.9 805.0,505.1 M849.3,486.5 C849.5,487.7 850.6,491.4 850.7,493.9 C850.8,496.4 850.1,498.9 849.9,501.4 C849.7,504.0 849.6,507.7 849.6,509.0 M842.9,473.0 C842.5,473.5 841.3,475.2 840.5,476.3 C839.7,477.5 839.0,478.7 838.1,479.8 C837.2,480.8 835.8,482.3 835.3,482.8 M835.3,482.8 C834.8,483.3 833.2,484.6 832.2,485.6 C831.3,486.6 830.2,487.6 829.5,488.8 C828.9,490.0 828.6,492.1 828.4,492.8 M845.1,480.2 C844.6,480.6 842.5,481.4 841.7,482.4 C840.8,483.4 840.3,484.9 839.9,486.2 C839.5,487.5 839.6,489.7 839.5,490.3 M839.5,490.3 C839.6,491.0 840.2,493.1 840.2,494.4 C840.2,495.8 839.6,497.2 839.6,498.5 C839.6,499.9 840.3,501.9 840.4,502.6 M811.9,488.9 C811.3,490.0 809.3,493.3 808.4,495.6 C807.4,497.9 807.0,500.4 806.3,502.8 C805.6,505.3 804.5,508.9 804.2,510.1 M813.6,473.9 C813.2,474.5 811.6,476.0 811.0,477.2 C810.4,478.4 810.3,479.9 809.9,481.2 C809.6,482.6 809.0,484.6 808.9,485.2 M808.9,485.2 C808.6,485.9 807.9,487.9 807.2,489.0 C806.5,490.2 805.5,491.3 804.6,492.3 C803.7,493.3 802.1,494.7 801.6,495.2 M795.0,530.1 C795.7,531.2 797.6,534.4 799.3,536.3 C800.9,538.2 803.8,540.7 804.8,541.5 M804.8,541.5 C805.2,542.7 807.0,546.1 807.6,548.6 C808.1,551.0 808.1,554.8 808.2,556.1 M849.9,350.5 C849.6,350.8 848.7,351.8 848.2,352.5 C847.7,353.3 847.2,354.1 846.9,354.9 C846.7,355.7 846.8,357.1 846.7,357.6 M841.1,354.4 C841.4,354.8 842.4,355.7 842.8,356.5 C843.3,357.2 843.7,358.1 843.9,358.9 C844.0,359.8 843.8,361.2 843.8,361.6 M843.8,361.6 C843.9,362.0 844.2,363.3 844.6,364.2 C844.9,365.0 845.3,365.8 845.8,366.5 C846.3,367.2 847.3,368.2 847.6,368.5 M830.2,364.0 C830.0,364.4 829.2,365.5 828.6,366.1 C828.0,366.8 827.3,367.3 826.8,368.1 C826.2,368.8 825.7,370.0 825.5,370.4 M825.5,370.4 C825.2,370.7 824.2,371.6 823.7,372.3 C823.1,373.0 822.6,373.8 822.2,374.6 C821.7,375.3 821.2,376.6 821.0,377.0 M847.9,369.2 C847.9,370.0 847.9,372.5 848.0,374.1 C848.2,375.7 848.4,377.3 848.9,378.8 C849.3,380.4 850.4,382.6 850.8,383.3 M847.9,369.2 C848.3,369.3 849.7,369.3 850.5,369.7 C851.3,370.0 852.0,370.7 852.7,371.3 C853.4,371.8 854.4,372.6 854.7,372.9 M854.7,372.9 C855.0,373.3 855.8,374.4 856.1,375.2 C856.4,376.0 856.6,377.0 856.6,377.8 C856.6,378.7 856.4,380.1 856.4,380.5 M848.0,374.1 C848.3,374.4 849.0,375.6 849.5,376.3 C850.0,377.0 850.7,377.7 851.1,378.5 C851.5,379.2 851.8,380.6 852.0,381.0 M852.0,381.0 C852.1,381.4 852.8,382.6 853.0,383.4 C853.2,384.3 853.2,385.2 853.2,386.1 C853.1,387.0 852.8,388.3 852.8,388.7 M824.2,380.2 C823.5,380.7 821.7,382.3 820.4,383.2 C819.1,384.2 817.6,384.8 816.3,385.8 C815.0,386.7 813.2,388.3 812.5,388.8 M827.5,376.6 C827.1,376.8 825.9,377.4 825.1,377.9 C824.4,378.4 823.7,379.0 823.2,379.7 C822.7,380.4 822.2,381.7 822.1,382.1 M822.1,382.1 C821.9,382.6 821.4,383.8 821.1,384.6 C820.9,385.5 821.0,386.4 820.8,387.3 C820.6,388.1 820.1,389.4 820.0,389.8 M836.5,393.4 C836.3,394.2 835.9,396.6 835.4,398.2 C834.9,399.7 834.3,401.2 833.5,402.6 C832.7,404.0 831.1,405.9 830.7,406.6 M833.8,384.3 C834.0,384.7 834.5,386.0 834.8,386.8 C835.2,387.6 835.5,388.5 835.9,389.3 C836.3,390.1 836.9,391.2 837.1,391.6 M837.1,391.6 C837.2,392.1 837.6,393.3 837.8,394.2 C837.9,395.1 837.9,396.0 838.0,396.9 C838.1,397.8 838.2,399.1 838.3,399.5 M836.1,388.6 C835.9,389.0 835.2,390.1 834.8,390.9 C834.4,391.7 834.2,392.6 833.8,393.4 C833.4,394.1 832.5,395.1 832.2,395.5 M832.2,395.5 C832.0,395.9 831.3,397.1 831.1,397.9 C830.9,398.8 830.9,399.7 830.9,400.6 C830.8,401.5 830.9,402.8 830.9,403.3 M822.0,388.0 C821.6,388.7 820.5,390.9 820.0,392.4 C819.5,393.9 818.9,395.5 818.9,397.1 C818.8,398.7 819.6,401.1 819.7,401.9 M824.6,383.9 C824.3,384.2 823.3,385.1 822.8,385.9 C822.4,386.6 822.2,387.6 822.0,388.4 C821.8,389.3 821.5,390.6 821.4,391.0 M821.4,391.0 C821.3,391.5 821.5,392.8 821.3,393.7 C821.2,394.5 820.8,395.4 820.5,396.2 C820.2,397.0 819.5,398.2 819.3,398.6 M822.0,388.0 C822.2,388.3 823.0,389.5 823.3,390.3 C823.6,391.1 823.5,392.1 823.7,392.9 C823.8,393.8 824.2,395.1 824.3,395.5 M824.3,395.5 C824.3,396.0 824.3,397.3 824.5,398.2 C824.7,399.0 825.3,399.8 825.4,400.7 C825.6,401.5 825.5,402.9 825.5,403.4 M817.1,394.8 C817.0,395.6 816.5,398.0 816.3,399.6 C816.2,401.2 816.1,402.9 816.3,404.5 C816.5,406.1 817.1,408.4 817.3,409.2 M818.8,390.3 C818.5,390.6 817.5,391.5 816.9,392.1 C816.2,392.7 815.6,393.3 815.0,394.0 C814.4,394.6 813.6,395.7 813.3,396.1 M813.3,396.1 C813.2,396.5 812.8,397.8 812.7,398.6 C812.6,399.5 812.8,400.4 812.6,401.3 C812.5,402.2 811.9,403.4 811.8,403.8 M848.9,379.1 C849.3,379.8 850.6,381.9 851.4,383.3 C852.2,384.7 852.8,386.2 853.7,387.5 C854.6,388.9 856.2,390.7 856.7,391.4 M851.4,383.3 C851.4,383.7 851.2,385.0 851.2,385.9 C851.3,386.8 851.7,387.7 851.8,388.5 C851.9,389.4 851.8,390.8 851.9,391.2 M851.9,391.2 C851.9,391.6 852.1,393.0 852.2,393.8 C852.4,394.7 852.5,395.6 852.6,396.5 C852.8,397.4 853.2,398.6 853.3,399.1 M833.4,389.0 C833.1,389.8 832.3,392.1 831.4,393.5 C830.6,394.8 829.1,395.8 828.4,397.3 C827.8,398.7 827.7,401.3 827.6,402.1 M833.7,384.2 C833.8,384.6 833.9,385.9 834.0,386.8 C834.1,387.7 834.0,388.6 834.2,389.5 C834.4,390.3 835.0,391.5 835.2,392.0 M835.2,392.0 C835.3,392.4 835.6,393.7 835.7,394.6 C835.8,395.5 835.9,396.4 835.8,397.2 C835.7,398.1 835.2,399.4 835.1,399.8 M846.6,387.8 C847.3,388.2 849.7,389.1 850.8,390.2 C851.8,391.4 852.2,393.2 852.9,394.6 C853.6,396.1 854.7,398.2 855.1,399.0 M837.9,384.0 C838.3,384.0 839.6,384.3 840.5,384.5 C841.4,384.7 842.4,384.7 843.1,385.2 C843.7,385.7 844.3,387.1 844.5,387.5 M844.5,387.5 C844.7,387.9 845.0,389.2 845.3,390.0 C845.7,390.8 846.5,391.4 846.8,392.2 C847.1,393.1 847.1,394.4 847.2,394.9 M846.6,387.8 C846.6,388.3 846.4,389.6 846.5,390.5 C846.6,391.4 847.0,392.2 847.0,393.1 C847.1,394.0 847.1,395.3 847.1,395.8 M847.1,395.8 C847.2,396.2 847.6,397.5 847.7,398.4 C847.7,399.2 847.2,400.1 847.2,401.0 C847.3,401.9 847.7,403.2 847.8,403.6 M833.1,406.4 C833.3,407.2 833.5,409.6 833.8,411.2 C834.1,412.8 834.8,414.3 835.0,415.9 C835.2,417.5 835.1,419.9 835.1,420.7 M828.0,411.3 C827.5,411.9 826.2,414.0 825.2,415.3 C824.3,416.6 823.4,418.0 822.4,419.2 C821.3,420.4 819.4,421.9 818.8,422.5 M834.5,404.1 C834.5,404.6 834.2,405.9 834.2,406.8 C834.2,407.7 834.5,408.5 834.5,409.4 C834.5,410.3 834.3,411.6 834.3,412.1 M834.3,412.1 C834.3,412.5 834.0,413.9 834.1,414.7 C834.1,415.6 834.6,416.5 834.6,417.4 C834.6,418.2 834.2,419.5 834.1,420.0 M842.4,407.4 C843.1,407.8 845.4,408.8 846.7,409.7 C848.0,410.6 849.4,411.6 850.4,412.8 C851.3,414.1 852.0,416.6 852.3,417.3 M852.3,417.3 C852.7,418.0 853.9,420.1 854.9,421.4 C855.9,422.7 857.2,423.7 858.1,425.0 C859.0,426.3 859.9,428.6 860.3,429.4 M825.5,435.6 C824.9,436.2 823.1,437.9 822.0,439.0 C820.8,440.1 819.5,441.1 818.4,442.3 C817.3,443.5 815.8,445.4 815.3,446.0 M815.3,446.0 C814.8,446.6 813.3,448.6 812.3,449.8 C811.2,451.0 810.0,452.1 808.8,453.2 C807.7,454.3 805.9,456.0 805.3,456.5 M827.9,384.7 C828.2,385.5 829.2,387.9 829.8,389.5 C830.3,391.1 830.7,392.8 831.4,394.4 C832.0,396.0 833.3,398.3 833.7,399.1 M827.9,384.7 C828.2,385.1 829.0,386.3 829.4,387.1 C829.8,387.9 830.2,388.8 830.4,389.8 C830.7,390.7 830.9,392.1 831.0,392.5 M831.0,392.5 C831.1,393.0 831.6,394.4 831.6,395.3 C831.7,396.3 831.3,397.2 831.2,398.1 C831.2,399.1 831.4,400.5 831.4,401.0 M829.8,389.5 C829.5,389.9 828.9,391.2 828.3,392.0 C827.7,392.7 826.8,393.3 826.4,394.1 C826.0,394.9 825.8,396.4 825.7,396.8 M825.7,396.8 C825.6,397.3 825.2,398.7 825.0,399.6 C824.7,400.5 824.4,401.4 824.2,402.3 C823.9,403.2 823.6,404.6 823.4,405.1 M813.5,395.4 C813.3,396.2 812.2,398.7 812.0,400.4 C811.9,402.1 812.5,403.8 812.4,405.6 C812.3,407.3 811.6,409.8 811.5,410.7 M817.3,385.9 C817.0,386.1 815.8,386.9 815.1,387.6 C814.3,388.2 813.5,388.7 813.0,389.5 C812.5,390.3 812.4,391.8 812.3,392.3 M812.3,392.3 C812.3,392.8 812.1,394.2 812.2,395.1 C812.3,396.1 812.6,397.0 813.0,397.9 C813.3,398.7 814.2,399.9 814.4,400.3 M815.9,390.9 C816.3,391.1 817.7,391.7 818.3,392.4 C818.9,393.1 819.1,394.1 819.4,395.0 C819.7,395.9 819.9,397.4 820.0,397.8 M820.0,397.8 C820.2,398.3 820.7,399.6 821.2,400.4 C821.7,401.2 822.4,401.9 822.9,402.7 C823.5,403.4 824.4,404.6 824.7,404.9 M813.5,395.4 C813.2,395.7 812.1,396.7 811.5,397.4 C810.8,398.1 810.1,398.8 809.5,399.5 C809.0,400.3 808.3,401.5 808.0,401.9 M808.0,401.9 C807.8,402.3 807.0,403.5 806.7,404.4 C806.4,405.3 806.4,406.3 806.2,407.2 C806.1,408.2 806.1,409.6 806.0,410.1 M833.3,436.5 C833.4,437.4 833.9,440.0 833.9,441.7 C834.0,443.4 833.7,445.1 833.7,446.8 C833.7,448.6 833.9,451.2 833.9,452.0 M831.3,426.5 C831.1,426.9 830.5,428.2 830.2,429.1 C829.9,430.0 829.6,430.9 829.3,431.8 C829.0,432.7 828.6,434.1 828.4,434.5 M828.4,434.5 C828.2,435.0 827.5,436.2 827.3,437.1 C827.1,438.1 827.4,439.0 827.4,440.0 C827.4,440.9 827.3,442.4 827.2,442.8 M833.0,431.4 C833.2,431.8 833.6,433.2 834.1,434.0 C834.5,434.8 835.2,435.5 835.8,436.3 C836.4,437.0 837.3,438.1 837.6,438.5 M837.6,438.5 C837.9,438.9 838.6,440.1 839.1,440.9 C839.5,441.8 839.8,442.6 840.3,443.5 C840.7,444.3 841.3,445.6 841.6,446.0 M875.2,436.1 C875.2,437.0 875.3,439.8 875.0,441.7 C874.7,443.5 874.0,445.2 873.4,447.0 C872.8,448.7 871.8,451.3 871.4,452.2 M875.0,441.7 C874.8,442.1 874.4,443.6 874.1,444.6 C873.7,445.5 873.1,446.4 872.9,447.4 C872.7,448.4 873.0,450.0 873.0,450.5 M873.0,450.5 C873.2,451.0 873.7,452.4 873.9,453.4 C874.0,454.4 874.0,455.5 873.8,456.5 C873.6,457.5 873.0,458.9 872.8,459.4 M836.1,441.6 C835.9,442.1 835.2,443.5 834.9,444.4 C834.6,445.4 834.5,446.4 834.1,447.4 C833.7,448.3 832.8,449.6 832.6,450.0 M832.6,450.0 C832.4,450.5 831.6,451.8 831.3,452.8 C831.1,453.8 831.1,454.8 831.0,455.9 C830.9,456.9 830.8,458.4 830.8,458.9 M838.2,446.7 C838.2,447.3 838.0,448.8 838.1,449.8 C838.2,450.8 838.9,451.7 839.0,452.7 C839.2,453.7 839.1,455.3 839.1,455.8 M839.1,455.8 C839.1,456.3 839.5,457.8 839.5,458.8 C839.5,459.8 839.2,460.9 839.3,461.9 C839.3,462.9 839.7,464.4 839.7,464.9 M834.1,436.2 C834.1,437.1 834.2,439.9 834.4,441.8 C834.5,443.6 834.8,445.5 835.1,447.3 C835.5,449.1 836.2,451.8 836.4,452.7 M835.1,447.3 C834.9,447.7 834.2,449.1 833.7,450.0 C833.2,450.9 832.6,451.7 832.0,452.6 C831.4,453.4 830.5,454.6 830.2,455.0 M830.2,455.0 C830.1,455.5 829.8,457.0 829.5,458.0 C829.2,459.0 828.5,459.8 828.3,460.8 C828.1,461.8 828.5,463.4 828.5,463.9 M820.6,450.2 C820.2,451.0 819.0,453.6 818.1,455.2 C817.2,456.8 816.0,458.3 815.2,459.9 C814.3,461.5 813.4,464.2 813.0,465.0 M818.1,455.2 C818.4,455.6 819.4,456.9 819.8,457.8 C820.2,458.7 820.4,459.7 820.6,460.7 C820.8,461.7 820.9,463.3 821.0,463.8 M821.0,463.8 C820.9,464.3 820.8,465.8 820.7,466.8 C820.7,467.8 820.5,468.9 820.7,469.9 C820.8,470.9 821.5,472.3 821.6,472.8 M828.7,468.8 C828.5,469.7 827.6,472.4 827.4,474.2 C827.1,476.1 827.3,478.0 827.3,479.8 C827.3,481.7 827.4,484.4 827.4,485.4 M829.2,463.3 C828.9,463.7 827.9,464.9 827.2,465.6 C826.5,466.3 825.5,466.9 825.0,467.8 C824.5,468.6 824.2,470.2 824.1,470.7 M824.1,470.7 C824.0,471.2 823.5,472.7 823.5,473.7 C823.5,474.7 824.0,475.7 824.1,476.7 C824.2,477.7 824.0,479.2 824.0,479.7 M822.1,463.4 C822.0,464.4 822.0,467.1 822.0,469.0 C821.9,470.9 821.7,472.7 821.8,474.6 C822.0,476.4 822.8,479.1 823.0,480.0 M824.3,458.3 C824.3,458.9 824.3,460.4 824.0,461.4 C823.7,462.4 823.2,463.3 822.8,464.2 C822.3,465.1 821.6,466.5 821.4,466.9 M821.4,466.9 C821.4,467.4 821.6,469.0 821.5,470.0 C821.3,471.0 820.8,471.9 820.4,472.9 C820.0,473.8 819.4,475.2 819.2,475.7 M835.5,494.7 C835.3,495.6 834.7,498.4 834.5,500.2 C834.3,502.1 834.1,503.9 834.2,505.8 C834.4,507.6 835.1,510.3 835.3,511.2 M831.6,484.5 C831.3,484.9 830.5,486.2 830.0,487.1 C829.5,488.0 829.2,489.0 828.7,489.8 C828.2,490.7 827.2,491.9 826.9,492.4 M826.9,492.4 C826.8,492.9 826.6,494.4 826.4,495.4 C826.3,496.4 826.3,497.4 826.0,498.4 C825.8,499.4 825.0,500.7 824.8,501.2 M826.3,489.2 C826.1,490.1 825.5,492.9 824.8,494.5 C824.0,496.2 822.8,497.7 821.8,499.3 C820.8,500.8 819.1,503.0 818.6,503.8 M818.6,503.8 C818.1,504.6 816.2,506.7 815.5,508.4 C814.7,510.1 814.6,512.0 814.0,513.8 C813.4,515.5 812.2,518.1 811.9,518.9 M1027.1,364.8 C1027.0,365.5 1026.3,367.8 1026.3,369.3 C1026.2,370.8 1026.8,372.3 1026.8,373.8 C1026.9,375.3 1026.7,377.6 1026.6,378.4 M1027.1,364.8 C1027.3,365.2 1027.7,366.3 1028.1,367.1 C1028.5,367.8 1028.9,368.6 1029.4,369.3 C1029.8,370.0 1030.6,371.0 1030.8,371.3 M1030.8,371.3 C1031.1,371.7 1032.0,372.6 1032.4,373.3 C1032.7,374.0 1032.6,375.0 1032.9,375.8 C1033.2,376.6 1033.8,377.7 1034.0,378.1 M1031.9,374.9 C1032.0,375.7 1032.4,377.9 1032.7,379.4 C1033.0,380.9 1033.4,382.4 1033.4,383.9 C1033.5,385.5 1033.2,387.8 1033.2,388.5 M1033.1,365.9 C1033.3,366.3 1034.0,367.4 1034.5,368.0 C1035.0,368.7 1035.6,369.3 1036.3,369.8 C1036.9,370.4 1037.9,371.1 1038.2,371.4 M1038.2,371.4 C1038.5,371.7 1039.4,372.6 1039.9,373.3 C1040.4,373.9 1040.9,374.6 1041.4,375.3 C1042.0,375.9 1042.7,376.9 1043.0,377.2 M1033.1,370.5 C1033.0,370.9 1032.5,372.1 1032.3,372.9 C1032.2,373.7 1032.1,374.6 1032.0,375.4 C1032.0,376.2 1031.9,377.5 1031.8,377.9 M1031.8,377.9 C1031.8,378.3 1031.9,379.6 1031.9,380.4 C1031.9,381.3 1031.9,382.1 1032.0,382.9 C1032.0,383.8 1032.1,385.0 1032.1,385.5 M1032.7,379.4 C1032.9,379.8 1033.8,380.8 1034.1,381.5 C1034.4,382.3 1034.4,383.2 1034.4,384.0 C1034.3,384.8 1033.9,386.1 1033.8,386.5 M1033.8,386.5 C1033.8,386.9 1034.0,388.2 1033.9,389.0 C1033.8,389.8 1033.4,390.6 1033.3,391.4 C1033.2,392.3 1033.2,393.5 1033.2,394.0 M1019.2,380.0 C1019.0,380.7 1018.2,382.9 1018.0,384.4 C1017.7,385.9 1017.5,387.5 1017.6,389.0 C1017.7,390.5 1018.3,392.7 1018.4,393.5 M1022.6,371.5 C1022.5,371.9 1022.0,373.1 1021.8,373.9 C1021.7,374.7 1021.6,375.6 1021.5,376.4 C1021.4,377.3 1021.3,378.5 1021.2,378.9 M1021.2,378.9 C1021.3,379.3 1021.4,380.6 1021.7,381.4 C1021.9,382.2 1022.5,382.9 1022.7,383.7 C1023.0,384.5 1023.2,385.7 1023.3,386.2 M1021.1,375.9 C1021.5,376.1 1022.5,376.8 1023.3,377.2 C1024.0,377.7 1024.7,378.1 1025.4,378.5 C1026.1,379.0 1027.1,379.8 1027.5,380.0 M1027.5,380.0 C1027.8,380.3 1028.7,381.1 1029.3,381.7 C1029.8,382.4 1030.4,383.1 1030.6,383.9 C1030.9,384.6 1030.8,386.0 1030.9,386.4 M1047.2,378.7 C1047.2,379.5 1047.2,381.8 1046.8,383.3 C1046.5,384.8 1045.5,386.1 1045.2,387.6 C1044.8,389.0 1044.9,391.4 1044.8,392.1 M1048.7,374.4 C1048.4,374.6 1047.2,375.2 1046.6,375.8 C1046.1,376.4 1045.8,377.2 1045.4,378.0 C1045.1,378.7 1044.8,380.0 1044.6,380.4 M1044.6,380.4 C1044.5,380.8 1044.0,382.0 1043.9,382.8 C1043.8,383.6 1044.0,384.5 1044.1,385.3 C1044.2,386.1 1044.4,387.3 1044.5,387.8 M1047.2,378.7 C1047.3,379.1 1047.5,380.4 1047.7,381.2 C1047.9,382.0 1048.1,382.8 1048.2,383.7 C1048.4,384.5 1048.6,385.7 1048.7,386.1 M1048.7,386.1 C1048.8,386.5 1049.3,387.7 1049.5,388.5 C1049.6,389.3 1049.5,390.2 1049.6,391.0 C1049.7,391.9 1050.1,393.1 1050.2,393.5 M1046.8,383.3 C1047.1,383.6 1048.0,384.5 1048.6,385.1 C1049.2,385.7 1049.7,386.4 1050.3,387.0 C1050.9,387.5 1051.9,388.3 1052.2,388.6 M1052.2,388.6 C1052.5,388.9 1053.3,389.8 1054.0,390.4 C1054.6,390.9 1055.3,391.4 1056.0,391.9 C1056.7,392.4 1057.7,393.1 1058.0,393.3 M1050.6,386.7 C1050.6,387.4 1050.4,389.7 1050.5,391.3 C1050.6,392.8 1050.9,394.3 1051.3,395.8 C1051.7,397.2 1052.6,399.4 1052.8,400.1 M1048.5,377.8 C1048.8,378.1 1049.6,379.1 1050.1,379.7 C1050.6,380.4 1051.2,381.1 1051.5,381.8 C1051.8,382.6 1052.0,383.9 1052.1,384.3 M1052.1,384.3 C1052.1,384.7 1051.9,386.0 1052.0,386.8 C1052.1,387.6 1052.4,388.4 1052.8,389.2 C1053.2,389.9 1053.9,390.9 1054.2,391.3 M1050.6,386.7 C1050.4,387.0 1049.7,388.1 1049.3,388.8 C1049.0,389.6 1048.7,390.4 1048.4,391.2 C1048.0,391.9 1047.4,393.0 1047.2,393.4 M1047.2,393.4 C1047.1,393.8 1046.4,394.9 1046.2,395.7 C1046.0,396.5 1046.1,397.4 1045.9,398.2 C1045.7,399.0 1045.1,400.1 1044.9,400.5 M1048.4,402.8 C1048.6,403.5 1049.4,405.7 1049.5,407.2 C1049.6,408.7 1049.3,410.3 1049.1,411.8 C1048.8,413.3 1047.9,415.4 1047.7,416.2 M1037.4,404.1 C1037.8,404.7 1039.0,406.7 1039.9,407.9 C1040.9,409.0 1042.4,409.8 1043.2,411.1 C1043.9,412.4 1044.1,414.8 1044.2,415.6 M1044.2,415.6 C1044.3,416.3 1044.4,418.7 1044.8,420.1 C1045.2,421.6 1046.0,422.9 1046.7,424.3 C1047.3,425.7 1048.2,427.8 1048.5,428.5 M1018.6,376.8 C1018.5,377.7 1018.3,380.4 1017.9,382.1 C1017.5,383.9 1017.0,385.6 1016.3,387.2 C1015.6,388.9 1014.2,391.2 1013.8,392.0 M1007.8,397.6 C1007.0,398.0 1004.3,398.8 1002.9,399.8 C1001.5,400.9 1000.4,402.4 999.3,403.9 C998.3,405.3 997.2,407.8 996.8,408.6 M996.8,408.6 C996.3,409.3 994.5,411.5 993.8,413.1 C993.2,414.7 993.5,416.7 993.1,418.4 C992.7,420.2 991.6,422.7 991.4,423.5 M1002.7,406.0 C1002.7,406.9 1002.5,409.6 1002.7,411.4 C1002.9,413.1 1003.4,414.9 1003.8,416.6 C1004.3,418.3 1005.3,420.8 1005.6,421.7 M1005.6,421.7 C1005.8,422.6 1006.3,425.2 1007.0,426.9 C1007.6,428.6 1008.5,430.1 1009.5,431.7 C1010.4,433.2 1011.9,435.4 1012.4,436.2 M1015.0,401.5 C1014.8,402.4 1013.9,405.0 1013.9,406.8 C1013.8,408.5 1014.6,410.3 1014.6,412.1 C1014.5,413.9 1013.7,416.5 1013.5,417.4 M1019.1,391.8 C1019.1,392.3 1019.1,393.8 1019.1,394.8 C1019.2,395.8 1019.1,396.8 1019.2,397.8 C1019.4,398.7 1020.0,400.1 1020.1,400.6 M1020.1,400.6 C1020.2,401.1 1020.5,402.5 1020.7,403.5 C1021.0,404.4 1021.3,405.4 1021.6,406.3 C1021.9,407.2 1022.5,408.6 1022.7,409.1 M1042.8,403.3 C1043.3,404.0 1044.7,406.4 1045.8,407.8 C1047.0,409.1 1048.6,410.2 1049.6,411.6 C1050.5,413.1 1051.2,415.8 1051.5,416.7 M1041.7,395.7 C1041.5,396.5 1040.8,399.2 1040.7,400.9 C1040.6,402.7 1040.8,404.6 1041.1,406.3 C1041.5,408.1 1042.6,410.6 1042.9,411.4 M1042.9,411.4 C1043.3,412.2 1044.8,414.4 1045.8,415.9 C1046.7,417.5 1047.9,418.9 1048.5,420.6 C1049.1,422.2 1049.1,425.0 1049.2,425.9 M1049.9,401.0 C1049.8,401.9 1049.5,404.6 1049.2,406.3 C1048.8,408.1 1048.1,409.8 1047.7,411.5 C1047.3,413.3 1047.1,416.0 1046.9,416.8 M1046.9,416.8 C1046.8,417.7 1046.6,420.5 1046.2,422.2 C1045.7,423.9 1044.7,425.5 1044.1,427.1 C1043.5,428.8 1042.8,431.4 1042.5,432.3 M1049.0,426.1 C1049.3,427.7 1050.4,432.4 1050.9,435.7 C1051.4,438.9 1052.0,442.2 1051.9,445.4 C1051.7,448.6 1050.1,453.4 1049.7,455.0 M1044.6,417.3 C1044.9,418.1 1045.8,420.7 1046.2,422.4 C1046.6,424.2 1046.4,426.1 1046.9,427.8 C1047.5,429.5 1049.0,431.8 1049.4,432.6 M1049.4,432.6 C1049.5,433.5 1049.9,436.1 1049.9,437.9 C1050.0,439.7 1050.0,441.5 1049.7,443.3 C1049.4,445.0 1048.3,447.6 1048.0,448.4 M1051.9,445.4 C1051.0,445.8 1048.2,446.6 1047.0,447.8 C1045.8,449.0 1045.1,450.9 1044.6,452.6 C1044.2,454.3 1044.3,457.1 1044.2,458.0 M1044.2,458.0 C1044.1,458.9 1044.0,461.6 1043.5,463.3 C1043.0,465.0 1042.0,466.6 1041.2,468.2 C1040.4,469.8 1039.0,472.1 1038.5,472.9 M1031.8,443.4 C1031.8,445.1 1031.7,450.0 1031.7,453.2 C1031.7,456.5 1031.4,459.8 1031.8,463.0 C1032.3,466.2 1033.9,470.9 1034.4,472.5 M1031.8,443.4 C1032.2,444.2 1033.3,446.7 1034.3,448.2 C1035.2,449.7 1036.6,451.0 1037.6,452.5 C1038.6,454.0 1039.8,456.4 1040.2,457.2 M1040.2,457.2 C1040.8,457.9 1042.4,460.0 1043.4,461.5 C1044.4,463.0 1045.5,464.5 1046.0,466.2 C1046.5,467.9 1046.1,470.7 1046.1,471.6 M1031.7,453.2 C1031.2,454.0 1029.5,456.1 1028.6,457.7 C1027.7,459.2 1026.9,460.8 1026.3,462.5 C1025.7,464.2 1025.3,466.9 1025.1,467.7 M1025.1,467.7 C1024.7,468.6 1023.6,471.0 1023.1,472.8 C1022.6,474.5 1022.1,476.2 1022.0,478.0 C1021.8,479.8 1022.1,482.5 1022.1,483.4 M1003.9,385.6 C1003.2,386.2 1001.3,387.8 1000.0,388.9 C998.7,389.9 997.1,390.7 996.1,392.0 C995.1,393.3 994.3,395.8 993.9,396.5 M993.9,396.5 C993.5,397.3 992.0,399.4 991.5,401.0 C991.0,402.5 991.0,404.3 990.8,406.0 C990.7,407.6 990.5,410.1 990.5,411.0 M999.3,393.6 C999.5,394.4 1000.1,396.8 1000.5,398.4 C1000.9,400.1 1001.2,401.8 1001.7,403.3 C1002.3,404.9 1003.4,407.2 1003.8,407.9 M1003.8,407.9 C1004.2,408.7 1005.3,410.9 1006.1,412.4 C1007.0,413.8 1008.0,415.2 1008.7,416.7 C1009.5,418.2 1010.3,420.6 1010.6,421.4 M1022.5,362.9 C1022.5,363.5 1022.5,365.5 1022.6,366.8 C1022.7,368.1 1023.2,369.3 1023.2,370.6 C1023.3,371.9 1023.1,373.9 1023.0,374.5 M1021.1,366.5 C1020.6,367.0 1019.1,368.2 1018.1,369.0 C1017.1,369.9 1015.8,370.5 1015.1,371.5 C1014.4,372.5 1014.1,374.6 1013.9,375.2 M1013.9,375.2 C1013.6,375.8 1012.8,377.6 1012.1,378.7 C1011.4,379.8 1010.4,380.7 1009.9,381.9 C1009.4,383.0 1009.2,385.1 1009.1,385.7 M1023.2,373.3 C1023.5,373.9 1024.9,375.4 1025.3,376.6 C1025.7,377.8 1025.7,379.2 1025.6,380.5 C1025.6,381.8 1025.1,383.7 1025.0,384.3 M1025.0,384.3 C1025.1,385.0 1025.6,386.9 1025.9,388.1 C1026.1,389.4 1026.0,390.7 1026.3,392.0 C1026.6,393.3 1027.4,395.1 1027.6,395.7 M996.2,354.4 C996.0,355.0 995.3,356.8 994.7,357.9 C994.1,359.1 993.3,360.1 992.6,361.2 C992.0,362.4 991.2,364.2 991.0,364.8 M1000.3,347.8 C1000.3,348.1 1000.0,349.2 1000.0,349.9 C1000.0,350.6 1000.1,351.3 1000.3,352.0 C1000.5,352.7 1001.0,353.6 1001.2,354.0 M1001.2,354.0 C1001.3,354.3 1001.5,355.4 1001.6,356.1 C1001.7,356.8 1002.0,357.5 1002.1,358.2 C1002.1,358.9 1001.9,359.9 1001.9,360.3 M997.9,350.8 C998.0,351.2 998.4,352.2 998.7,352.8 C999.0,353.5 999.5,354.0 999.8,354.7 C1000.0,355.3 1000.0,356.4 1000.0,356.8 M1000.0,356.8 C999.9,357.2 999.8,358.2 999.6,358.9 C999.4,359.6 999.2,360.3 998.9,360.9 C998.6,361.6 997.9,362.4 997.7,362.7 M988.9,360.1 C988.9,360.8 989.0,362.7 989.2,364.0 C989.3,365.3 989.7,366.6 989.7,367.9 C989.8,369.2 989.6,371.1 989.5,371.8 M989.5,371.8 C989.7,372.4 990.2,374.3 990.8,375.5 C991.3,376.6 992.1,377.7 992.9,378.8 C993.6,379.8 995.1,381.1 995.5,381.6 M984.3,365.6 C983.7,365.8 981.9,366.6 980.8,367.2 C979.7,367.9 978.7,368.7 977.6,369.5 C976.6,370.3 975.2,371.6 974.7,372.1 M974.7,372.1 C974.2,372.5 972.7,373.7 971.9,374.7 C971.0,375.7 970.5,376.9 969.8,378.0 C969.0,379.0 967.7,380.5 967.3,381.0 M978.9,370.1 C979.1,370.7 980.0,372.5 980.1,373.7 C980.3,375.0 980.0,376.4 979.7,377.6 C979.4,378.8 978.4,380.6 978.2,381.2 M978.2,381.2 C978.1,381.8 977.8,383.8 977.4,385.0 C977.0,386.2 976.2,387.3 975.7,388.5 C975.3,389.7 974.8,391.6 974.6,392.2 M995.9,385.9 C995.8,387.1 995.1,390.6 995.1,393.0 C995.1,395.3 995.4,397.7 995.8,400.0 C996.3,402.3 997.5,405.6 997.9,406.8 M997.5,379.0 C998.0,379.3 999.8,380.3 1000.9,380.8 C1002.1,381.4 1003.5,381.7 1004.5,382.4 C1005.5,383.2 1006.5,384.9 1007.0,385.4 M1007.0,385.4 C1007.3,386.0 1008.3,387.7 1008.8,388.8 C1009.3,390.0 1009.9,391.3 1010.0,392.6 C1010.1,393.8 1009.6,395.8 1009.6,396.4 M995.1,393.0 C994.9,393.6 994.3,395.4 993.8,396.6 C993.3,397.8 992.7,399.0 992.1,400.1 C991.4,401.3 990.5,402.9 990.2,403.5 M990.2,403.5 C989.8,404.0 988.5,405.5 987.8,406.6 C987.1,407.7 986.3,408.8 985.8,410.0 C985.3,411.1 985.0,413.1 984.9,413.7 M995.8,400.0 C995.5,400.6 994.5,402.3 994.0,403.5 C993.6,404.7 993.2,406.0 993.1,407.2 C993.0,408.5 993.4,410.5 993.5,411.1 M993.5,411.1 C993.5,411.8 993.3,413.7 993.3,415.0 C993.3,416.3 993.3,417.6 993.3,418.9 C993.4,420.2 993.7,422.1 993.8,422.8 M995.1,413.8 C995.2,415.0 995.2,418.5 995.4,420.9 C995.6,423.2 995.7,425.6 996.2,427.9 C996.7,430.2 997.9,433.6 998.2,434.7 M996.2,399.8 C995.8,400.3 994.2,401.7 993.7,402.8 C993.1,403.9 992.9,405.3 992.8,406.6 C992.6,407.8 992.9,409.8 992.9,410.5 M992.9,410.5 C993.0,411.1 993.6,413.0 993.6,414.3 C993.6,415.6 992.9,416.8 992.9,418.1 C992.9,419.4 993.4,421.3 993.5,422.0 M996.6,406.9 C997.2,407.0 999.2,407.4 1000.4,407.7 C1001.7,408.0 1003.0,408.3 1004.2,408.6 C1005.4,409.0 1007.3,409.6 1007.9,409.8 M1007.9,409.8 C1008.5,410.1 1010.5,410.6 1011.5,411.4 C1012.4,412.3 1013.0,413.6 1013.4,414.8 C1013.8,416.0 1013.9,418.0 1014.0,418.7 M995.1,413.8 C995.0,414.4 994.3,416.3 994.1,417.6 C994.0,418.9 994.3,420.2 994.4,421.5 C994.5,422.8 994.7,424.7 994.8,425.3 M994.8,425.3 C994.6,426.0 994.3,427.9 993.8,429.1 C993.3,430.3 992.4,431.3 991.7,432.4 C990.9,433.4 989.6,434.9 989.1,435.3 M1010.8,359.1 C1010.8,359.7 1011.3,361.4 1011.2,362.5 C1011.1,363.5 1010.4,364.6 1010.3,365.7 C1010.1,366.8 1010.3,368.5 1010.3,369.0 M1009.0,352.7 C1008.8,352.9 1008.2,353.6 1007.9,354.1 C1007.6,354.6 1007.6,355.3 1007.3,355.9 C1007.1,356.4 1006.5,357.2 1006.3,357.4 M1006.3,357.4 C1006.3,357.7 1006.1,358.7 1006.1,359.3 C1006.2,359.9 1006.4,360.5 1006.6,361.0 C1006.8,361.6 1007.2,362.4 1007.4,362.7 M1015.2,373.2 C1015.3,374.2 1015.8,377.3 1015.6,379.3 C1015.3,381.3 1014.6,383.3 1013.8,385.1 C1013.0,387.0 1011.3,389.6 1010.8,390.4 M1013.7,361.1 C1013.4,361.6 1012.3,363.0 1012.0,364.0 C1011.6,365.0 1011.4,366.2 1011.4,367.3 C1011.4,368.4 1011.9,370.1 1012.0,370.6 M1012.0,370.6 C1011.9,371.2 1011.8,372.8 1011.7,374.0 C1011.6,375.1 1011.5,376.2 1011.6,377.3 C1011.8,378.4 1012.4,380.0 1012.5,380.5 M1015.2,373.2 C1014.7,373.4 1012.9,373.7 1012.1,374.4 C1011.2,375.0 1010.5,376.0 1010.1,377.0 C1009.7,378.0 1009.6,379.8 1009.5,380.4 M1009.5,380.4 C1009.6,380.9 1009.7,382.6 1010.0,383.7 C1010.4,384.7 1011.0,385.7 1011.5,386.7 C1012.1,387.6 1013.2,388.9 1013.6,389.3 M1013.8,385.1 C1013.3,385.3 1011.5,385.4 1010.6,386.0 C1009.7,386.5 1009.0,387.6 1008.5,388.6 C1007.9,389.5 1007.4,391.2 1007.2,391.7 M1007.2,391.7 C1007.1,392.2 1006.7,393.9 1006.6,395.0 C1006.5,396.1 1006.5,397.3 1006.7,398.3 C1006.9,399.4 1007.7,400.9 1007.9,401.5 M1022.3,379.0 C1022.4,380.0 1022.8,383.0 1022.8,385.0 C1022.9,387.1 1022.7,389.1 1022.4,391.1 C1022.2,393.1 1021.4,396.1 1021.2,397.1 M1014.2,370.2 C1014.3,370.7 1014.3,372.4 1014.6,373.5 C1014.8,374.6 1015.4,375.6 1015.7,376.7 C1015.9,377.8 1015.9,379.5 1016.0,380.0 M1016.0,380.0 C1016.0,380.6 1016.4,382.2 1016.3,383.3 C1016.2,384.4 1015.7,385.5 1015.5,386.6 C1015.3,387.7 1015.3,389.4 1015.2,389.9 M1019.2,373.7 C1019.1,374.3 1018.5,375.9 1018.6,377.0 C1018.6,378.1 1019.3,379.2 1019.3,380.3 C1019.4,381.4 1018.9,383.0 1018.8,383.6 M1018.8,383.6 C1018.8,384.1 1018.7,385.8 1018.8,386.9 C1018.9,388.0 1019.4,389.1 1019.4,390.2 C1019.4,391.3 1018.9,393.0 1018.8,393.5 M1022.3,379.0 C1022.5,379.5 1023.4,381.0 1023.6,382.1 C1023.9,383.1 1023.7,384.3 1023.8,385.4 C1023.9,386.5 1024.0,388.2 1024.1,388.7 M1024.1,388.7 C1024.2,389.3 1024.4,391.0 1024.8,392.0 C1025.1,393.1 1025.8,394.0 1026.3,395.0 C1026.8,396.0 1027.4,397.5 1027.7,398.1" stroke-width="0.7"/><path d="M191.8,349.2 C190.9,350.4 187.3,354.0 186.0,356.8 C184.7,359.7 184.8,363.1 184.2,366.3 C183.6,369.4 182.7,374.2 182.4,375.7 M182.4,375.7 C182.3,377.3 182.5,382.2 182.1,385.4 C181.6,388.5 180.1,391.5 179.5,394.6 C178.9,397.8 178.7,402.6 178.6,404.2 M200.9,364.1 C199.8,365.4 196.3,368.7 194.6,371.4 C192.8,374.1 192.0,377.3 190.7,380.2 C189.3,383.1 187.3,387.5 186.6,389.0 M212.3,377.4 C211.4,378.8 208.8,382.9 207.2,385.6 C205.5,388.4 203.2,390.9 202.3,393.9 C201.5,396.9 202.1,401.9 202.0,403.5 M221.9,411.1 C223.0,412.2 226.8,415.3 228.9,417.6 C231.1,420.0 233.6,422.5 234.7,425.3 C235.9,428.2 235.7,433.3 235.9,434.9 M146.4,395.3 C146.4,396.5 146.0,400.4 146.2,403.0 C146.4,405.6 147.6,408.1 147.5,410.6 C147.5,413.2 146.2,416.9 145.9,418.2 M157.5,403.3 C157.0,404.5 154.8,407.9 154.3,410.4 C153.8,412.9 154.1,415.6 154.3,418.2 C154.5,420.7 155.2,424.5 155.4,425.8 M135.5,395.5 C134.1,396.1 129.3,397.3 126.9,399.1 C124.6,401.0 123.2,404.2 121.5,406.8 C119.7,409.4 117.3,413.4 116.4,414.7 M116.4,414.7 C115.6,416.0 112.7,419.8 111.4,422.6 C110.1,425.4 109.4,428.6 108.7,431.6 C108.1,434.7 107.7,439.4 107.5,440.9 M121.5,406.8 C121.7,407.6 122.3,410.1 122.9,411.7 C123.4,413.4 123.9,415.0 124.7,416.6 C125.4,418.1 126.8,420.3 127.2,421.1 M154.2,430.7 C155.3,431.9 159.3,435.2 160.8,438.0 C162.3,440.9 162.5,444.4 163.2,447.6 C164.0,450.8 165.1,455.7 165.4,457.3 M163.5,361.8 C163.3,362.8 162.7,366.0 162.8,368.1 C162.8,370.3 163.4,372.4 163.8,374.5 C164.1,376.6 164.8,379.7 165.0,380.8 M160.2,354.3 C159.9,355.4 158.8,358.4 158.5,360.5 C158.1,362.6 157.8,364.8 157.9,366.9 C158.1,369.0 159.0,372.1 159.3,373.1 M159.3,373.1 C159.6,374.1 161.2,377.1 161.5,379.1 C161.8,381.2 160.9,383.4 161.1,385.5 C161.3,387.6 162.6,390.6 162.9,391.7 M391.0,423.8 C391.5,425.6 392.5,431.2 393.7,434.8 C395.0,438.3 397.5,441.4 398.7,445.0 C399.9,448.6 400.5,454.3 400.8,456.1 M382.5,402.7 C382.0,403.7 380.4,406.3 379.7,408.3 C379.0,410.2 378.8,412.4 378.4,414.4 C378.0,416.4 377.6,419.5 377.4,420.6 M393.7,434.8 C394.3,435.7 396.2,438.2 397.0,440.1 C397.9,442.0 398.3,444.1 398.8,446.1 C399.3,448.1 399.7,451.2 399.9,452.2 M384.8,419.5 C385.7,421.2 389.2,426.1 390.3,429.8 C391.4,433.4 391.2,437.5 391.4,441.3 C391.6,445.2 391.4,451.0 391.4,453.0 M384.8,419.5 C385.1,420.5 385.9,423.7 386.7,425.6 C387.4,427.6 388.4,429.5 389.3,431.5 C390.2,433.4 391.6,436.3 392.0,437.2 M391.4,441.3 C392.1,442.2 394.0,444.7 395.5,446.2 C397.1,447.7 399.2,448.6 400.5,450.2 C401.9,451.8 403.0,454.9 403.5,455.9 M375.7,449.8 C376.6,451.5 379.6,456.5 381.4,459.9 C383.2,463.3 384.5,467.1 386.5,470.3 C388.6,473.6 392.6,477.9 393.8,479.4 M381.4,459.9 C381.9,460.8 383.5,463.6 384.6,465.5 C385.6,467.3 386.7,469.1 387.7,471.0 C388.8,472.9 390.2,475.7 390.7,476.7 M386.5,470.3 C386.5,471.4 386.2,474.6 386.1,476.7 C386.1,478.8 386.1,481.0 386.2,483.1 C386.4,485.2 386.8,488.4 387.0,489.5 M400.8,460.9 C401.8,462.6 405.2,467.4 406.7,471.0 C408.2,474.5 408.5,478.5 409.8,482.2 C411.1,485.8 413.6,491.1 414.4,492.9 M389.9,440.5 C390.6,441.4 393.0,443.6 394.0,445.4 C395.0,447.2 395.8,449.4 396.0,451.5 C396.2,453.6 395.5,456.8 395.4,457.9 M394.4,451.2 C395.4,451.8 398.1,453.3 400.0,454.4 C401.8,455.5 403.6,456.6 405.5,457.7 C407.3,458.7 410.1,460.3 411.1,460.8 M400.8,460.9 C400.7,462.0 400.3,465.2 399.9,467.3 C399.6,469.4 398.9,471.4 398.7,473.5 C398.5,475.6 398.5,478.9 398.5,479.9 M406.7,471.0 C407.4,471.8 409.3,474.3 410.8,475.9 C412.3,477.4 413.9,478.8 415.5,480.2 C417.0,481.7 419.5,483.8 420.3,484.5 M332.5,392.7 C332.7,393.5 333.1,396.0 333.4,397.8 C333.6,399.5 334.1,401.2 334.0,402.9 C333.9,404.6 333.0,407.1 332.8,407.9 M330.8,382.5 C330.5,382.8 329.5,383.9 329.1,384.7 C328.6,385.5 328.5,386.5 328.1,387.4 C327.7,388.2 326.9,389.4 326.7,389.8 M331.6,387.6 C331.3,387.9 330.3,389.0 329.7,389.7 C329.0,390.3 328.1,390.8 327.5,391.6 C327.0,392.3 326.3,393.6 326.1,394.0 M339.6,420.8 C339.5,421.6 339.0,424.2 338.6,425.8 C338.1,427.5 337.6,429.2 337.0,430.8 C336.4,432.4 335.1,434.6 334.8,435.4 M346.6,407.7 C347.3,409.1 350.4,412.9 351.3,415.9 C352.1,418.8 351.6,422.1 351.7,425.2 C351.8,428.4 351.8,433.1 351.8,434.6 M336.4,392.6 C337.0,393.1 339.0,394.7 340.4,395.8 C341.8,396.8 343.5,397.6 344.5,398.9 C345.6,400.2 346.4,402.7 346.8,403.5 M346.8,403.5 C347.0,404.4 347.6,406.9 347.7,408.6 C347.8,410.3 347.4,412.1 347.5,413.8 C347.7,415.5 348.5,418.0 348.7,418.8 M344.5,398.9 C344.7,399.3 345.4,400.6 345.7,401.5 C346.0,402.4 346.4,403.3 346.5,404.2 C346.7,405.1 346.6,406.6 346.6,407.0 M343.3,398.9 C343.9,399.5 346.0,401.1 347.2,402.2 C348.5,403.4 350.0,404.5 350.9,405.9 C351.8,407.3 352.4,409.9 352.7,410.7 M346.6,407.7 C346.1,408.4 344.3,410.4 343.6,412.0 C342.9,413.5 342.5,415.3 342.3,417.0 C342.0,418.7 342.2,421.3 342.2,422.1 M346.3,426.6 C346.6,428.2 348.0,432.7 348.5,435.8 C348.9,438.9 348.6,442.1 348.9,445.2 C349.1,448.3 350.0,452.9 350.2,454.5 M339.5,409.2 C339.1,410.0 338.0,412.3 337.6,414.0 C337.2,415.6 337.6,417.5 337.2,419.1 C336.8,420.8 335.5,423.1 335.2,423.9 M337.6,414.0 C337.6,414.5 337.5,415.9 337.6,416.8 C337.8,417.8 338.4,418.6 338.5,419.5 C338.6,420.5 338.2,421.9 338.1,422.4 M346.3,426.6 C346.1,427.5 345.5,430.0 345.4,431.7 C345.3,433.5 345.6,435.2 345.4,436.9 C345.3,438.6 344.7,441.2 344.6,442.0 M348.9,445.2 C348.9,446.0 348.9,448.6 348.8,450.3 C348.8,452.1 348.8,453.8 348.7,455.5 C348.7,457.2 348.5,459.8 348.5,460.7 M350.9,442.5 C351.5,443.9 353.0,448.5 354.6,451.1 C356.2,453.8 358.5,456.0 360.4,458.6 C362.2,461.1 364.9,465.0 365.8,466.2 M347.6,424.1 C348.1,424.7 349.9,426.6 350.8,428.1 C351.7,429.5 352.5,431.1 353.1,432.7 C353.6,434.3 354.0,436.9 354.1,437.8 M354.6,451.1 C354.1,451.8 352.4,453.8 351.4,455.2 C350.3,456.6 349.4,458.0 348.3,459.4 C347.2,460.7 345.5,462.6 345.0,463.3 M360.4,458.6 C360.0,459.3 359.0,461.7 358.1,463.2 C357.2,464.7 356.0,465.9 355.1,467.4 C354.1,468.8 352.9,471.1 352.5,471.9 M382.8,460.0 C383.9,461.1 387.9,464.1 389.3,466.8 C390.7,469.5 390.5,472.9 391.4,476.0 C392.3,479.0 393.9,483.4 394.4,484.9 M314.8,451.6 C315.0,452.6 315.8,455.6 316.2,457.5 C316.6,459.5 316.8,461.5 317.2,463.5 C317.5,465.5 318.1,468.4 318.3,469.4 M291.5,404.1 C291.2,404.9 290.1,407.3 289.5,408.9 C288.9,410.5 288.6,412.3 287.8,413.8 C287.0,415.4 285.3,417.4 284.8,418.1 M296.0,394.6 C295.6,394.8 294.0,395.1 293.3,395.7 C292.6,396.3 292.4,397.4 291.9,398.2 C291.4,399.0 290.5,400.1 290.3,400.5 M295.6,399.5 C295.1,400.2 293.4,402.3 292.6,403.8 C291.8,405.4 291.2,407.0 290.8,408.7 C290.4,410.4 290.5,413.1 290.5,413.9 M290.5,413.9 C290.3,414.8 289.4,417.3 289.4,419.0 C289.4,420.7 290.2,422.4 290.3,424.2 C290.5,425.9 290.3,428.5 290.3,429.4 M292.6,403.8 C292.9,404.2 293.8,405.3 294.4,406.0 C295.0,406.8 295.8,407.5 296.1,408.4 C296.4,409.2 296.3,410.8 296.4,411.2 M295.5,409.0 C294.9,409.7 293.1,411.7 292.3,413.2 C291.5,414.7 291.3,416.5 290.5,418.1 C289.8,419.7 288.3,421.8 287.9,422.6 M298.8,394.6 C299.0,396.0 299.6,400.5 300.4,403.3 C301.3,406.1 302.5,408.9 303.7,411.5 C304.9,414.2 307.1,418.1 307.8,419.4 M301.0,377.0 C301.7,377.4 304.0,378.4 305.2,379.4 C306.4,380.4 307.3,381.9 308.3,383.2 C309.3,384.5 310.6,386.5 311.1,387.2 M300.4,403.3 C300.5,404.1 301.0,406.5 301.0,408.1 C300.9,409.8 300.6,411.4 300.3,413.0 C300.1,414.6 299.5,417.0 299.3,417.8 M303.7,411.5 C304.5,411.9 306.9,412.5 308.2,413.4 C309.5,414.3 310.5,415.8 311.6,417.0 C312.6,418.2 314.1,420.2 314.6,420.8 M280.1,406.1 C280.1,407.5 280.4,412.0 280.3,414.9 C280.3,417.9 280.0,420.9 279.8,423.8 C279.7,426.8 279.5,431.2 279.4,432.7 M281.8,397.4 C282.2,398.0 283.4,400.2 284.4,401.5 C285.3,402.8 286.9,403.8 287.6,405.2 C288.3,406.6 288.4,409.2 288.5,410.0 M280.1,406.1 C279.5,406.6 277.4,408.1 276.5,409.4 C275.6,410.8 275.3,412.5 274.7,414.0 C274.1,415.5 273.1,417.7 272.8,418.5 M280.3,414.9 C279.8,415.5 278.1,417.3 277.0,418.5 C275.9,419.7 275.0,421.1 273.8,422.2 C272.6,423.4 270.6,424.8 270.0,425.3 M279.8,423.8 C279.5,424.5 278.5,426.8 277.7,428.2 C276.9,429.6 275.7,430.9 275.1,432.3 C274.4,433.8 273.9,436.2 273.6,437.0 M267.3,424.9 C267.3,426.4 267.4,430.9 267.4,433.8 C267.5,436.8 267.1,439.8 267.5,442.7 C267.9,445.6 269.3,449.9 269.6,451.3 M269.6,451.3 C269.8,452.8 270.0,457.2 270.5,460.2 C271.0,463.1 271.7,466.0 272.5,468.8 C273.2,471.7 274.7,475.9 275.1,477.3 M267.4,433.8 C266.9,434.4 265.1,436.1 264.0,437.3 C263.0,438.6 261.9,439.8 261.0,441.1 C260.0,442.5 259.0,444.7 258.6,445.4 M267.5,442.7 C268.1,443.3 269.9,444.9 271.0,446.1 C272.0,447.4 273.2,448.7 273.8,450.1 C274.3,451.6 274.2,454.2 274.3,455.0 M278.6,427.5 C277.6,428.9 274.0,432.8 272.6,435.8 C271.2,438.9 271.2,442.6 270.1,445.9 C269.0,449.1 266.7,453.8 266.0,455.4 M280.1,424.4 C280.1,425.3 280.2,428.2 280.4,430.1 C280.5,432.0 281.0,433.8 281.0,435.7 C280.9,437.6 280.2,440.4 280.1,441.3 M285.4,414.5 C285.2,415.0 284.5,416.4 284.1,417.3 C283.8,418.3 283.7,419.4 283.4,420.4 C283.0,421.3 282.1,422.6 281.8,423.1 M282.0,419.0 C281.7,419.5 280.9,420.8 280.4,421.7 C279.9,422.6 279.2,423.5 278.9,424.5 C278.7,425.5 279.0,427.1 279.0,427.6 M282.0,417.7 C282.3,418.6 283.3,421.4 283.4,423.2 C283.4,425.1 282.8,427.0 282.5,428.9 C282.2,430.7 281.7,433.5 281.5,434.5 M281.5,434.5 C281.3,435.4 280.1,438.1 280.0,439.9 C279.8,441.8 280.3,443.7 280.6,445.6 C280.8,447.4 281.1,450.3 281.3,451.2 M283.4,423.2 C283.4,423.8 283.9,425.3 283.9,426.3 C283.8,427.3 283.3,428.4 283.2,429.4 C283.2,430.4 283.5,432.0 283.6,432.5 M270.1,445.9 C270.3,446.8 270.8,449.6 271.2,451.5 C271.6,453.3 272.3,455.1 272.6,457.0 C272.9,458.8 273.0,461.7 273.0,462.6 M506.1,379.6 C506.5,380.8 508.1,384.4 508.7,386.9 C509.4,389.4 509.8,392.0 510.0,394.6 C510.2,397.2 509.9,401.0 509.9,402.3 M506.1,371.9 C506.0,372.6 505.8,374.7 505.4,376.1 C505.0,377.4 504.0,378.6 503.6,380.0 C503.2,381.3 503.0,383.5 502.9,384.2 M506.1,379.6 C505.6,380.1 504.0,381.6 503.2,382.7 C502.3,383.9 501.5,385.1 501.0,386.4 C500.5,387.7 500.2,389.9 500.1,390.6 M510.0,394.6 C510.6,395.0 512.3,396.3 513.4,397.2 C514.4,398.1 515.7,399.0 516.4,400.2 C517.1,401.4 517.4,403.6 517.6,404.3 M517.8,390.0 C518.5,391.1 520.8,394.3 521.8,396.6 C522.9,398.9 523.5,401.5 524.2,404.0 C524.9,406.5 525.9,410.2 526.2,411.5 M517.8,390.0 C518.2,390.6 519.2,392.4 520.0,393.6 C520.8,394.8 521.6,396.0 522.5,397.1 C523.5,398.1 525.2,399.4 525.7,399.9 M524.2,404.0 C524.8,404.4 526.4,405.7 527.6,406.6 C528.7,407.5 529.8,408.4 530.9,409.3 C532.1,410.1 533.9,411.2 534.5,411.6 M492.7,430.1 C492.0,431.2 489.5,434.4 488.7,436.8 C488.0,439.2 488.3,442.0 488.4,444.5 C488.4,447.1 488.9,451.0 489.0,452.3 M503.3,418.8 C503.8,419.3 505.3,420.8 506.5,421.6 C507.6,422.5 509.0,423.1 510.0,424.0 C511.0,424.9 512.3,426.7 512.7,427.3 M492.7,430.1 C493.2,430.6 494.7,432.2 495.7,433.2 C496.7,434.2 498.1,434.9 498.9,436.0 C499.7,437.1 500.3,439.2 500.6,439.9 M511.9,426.2 C511.2,427.3 509.1,430.6 507.5,432.6 C505.9,434.7 504.1,436.5 502.5,438.5 C500.9,440.5 498.5,443.7 497.7,444.7 M497.7,444.7 C497.3,445.9 496.0,449.6 494.8,451.9 C493.6,454.2 491.7,456.1 490.7,458.5 C489.8,460.8 489.2,464.7 488.9,466.0 M511.9,377.5 C512.6,379.5 514.3,385.6 516.1,389.4 C517.9,393.2 521.4,396.3 522.6,400.2 C523.9,404.1 523.6,410.7 523.8,412.8 M506.6,366.0 C506.0,366.9 503.6,369.6 502.6,371.6 C501.7,373.7 501.0,376.1 500.8,378.4 C500.7,380.6 501.6,384.1 501.8,385.3 M516.1,389.4 C516.5,390.5 517.8,393.7 518.6,395.9 C519.5,398.0 520.5,400.1 521.4,402.2 C522.3,404.4 523.6,407.6 524.0,408.7 M522.6,400.2 C522.8,401.3 523.0,404.9 523.7,407.1 C524.5,409.2 525.8,411.2 527.0,413.2 C528.2,415.2 530.4,417.9 531.1,418.8 M523.8,412.8 C523.1,413.7 521.2,416.6 519.9,418.5 C518.5,420.4 516.5,421.9 515.6,424.0 C514.6,426.0 514.5,429.7 514.3,430.8 M466.5,452.6 C464.9,454.0 459.9,457.8 456.7,460.6 C453.6,463.4 449.9,466.1 447.8,469.5 C445.6,473.0 444.4,479.5 443.8,481.5 M443.8,481.5 C443.6,483.6 442.5,490.0 443.0,494.1 C443.5,498.3 445.7,502.2 446.6,506.3 C447.5,510.4 448.2,516.7 448.5,518.7 M431.5,413.9 C431.5,415.5 430.9,420.2 431.3,423.3 C431.6,426.3 432.5,429.5 433.8,432.3 C435.0,435.1 437.9,438.9 438.7,440.2 M704.5,468.0 C704.5,469.3 704.8,473.0 705.0,475.5 C705.1,478.0 705.7,480.5 705.4,483.0 C705.1,485.4 703.5,488.9 703.2,490.1 M703.2,490.1 C702.6,491.2 700.9,494.5 699.7,496.7 C698.5,498.9 697.0,501.0 696.0,503.2 C695.0,505.5 694.1,509.2 693.7,510.4 M709.5,480.6 C708.5,481.4 705.0,483.3 703.6,485.2 C702.2,487.2 701.9,489.9 700.9,492.2 C699.9,494.5 698.1,497.8 697.6,498.9 M709.0,494.3 C709.2,495.5 709.9,499.2 710.1,501.7 C710.4,504.1 710.4,506.6 710.4,509.1 C710.4,511.6 710.4,515.4 710.4,516.6 M707.5,507.8 C706.8,508.9 704.9,512.1 703.7,514.3 C702.5,516.4 701.4,518.7 700.2,520.9 C699.0,523.0 697.0,526.2 696.3,527.3 M672.8,486.8 C672.7,488.0 672.3,491.7 672.1,494.2 C671.9,496.7 671.8,499.2 671.6,501.7 C671.4,504.2 671.0,507.9 670.9,509.2 M670.9,509.2 C671.1,510.4 671.8,514.1 672.0,516.6 C672.3,519.0 672.1,521.6 672.4,524.0 C672.7,526.5 673.5,530.2 673.7,531.4 M662.9,525.9 C663.2,527.1 663.9,530.8 664.7,533.2 C665.5,535.5 667.1,538.9 667.6,540.1 M707.4,515.7 C708.3,517.8 710.5,524.4 712.7,528.3 C714.9,532.2 718.1,535.6 720.7,539.3 C723.2,543.1 726.6,549.0 727.8,550.9 M702.2,503.2 C703.4,503.5 707.2,503.9 709.5,504.9 C711.7,505.9 714.0,507.3 715.7,509.1 C717.3,510.9 718.7,514.6 719.3,515.7 M707.4,515.7 C707.3,517.0 706.7,520.7 706.8,523.2 C706.9,525.7 708.0,528.1 708.0,530.6 C708.1,533.0 707.1,536.7 706.9,538.0 M712.7,528.3 C712.1,529.4 710.3,532.7 709.2,534.9 C708.1,537.2 706.4,540.5 705.9,541.6 M720.7,539.3 C720.5,540.6 719.9,544.3 719.7,546.8 C719.4,549.2 719.3,553.0 719.3,554.2 M673.1,400.1 C674.1,401.6 677.3,406.0 679.5,409.0 C681.7,411.9 683.9,414.7 686.2,417.6 C688.4,420.5 691.8,424.7 693.0,426.2 M657.9,393.1 C658.1,394.2 659.0,397.4 659.3,399.6 C659.5,401.8 659.7,404.0 659.4,406.2 C659.1,408.4 657.8,411.5 657.5,412.5 M650.0,382.8 C649.7,383.3 648.9,384.9 648.1,385.9 C647.4,386.9 646.2,387.5 645.6,388.5 C645.1,389.6 645.0,391.5 644.9,392.1 M648.6,389.8 C648.3,390.8 647.4,394.0 646.9,396.1 C646.4,398.3 646.4,400.6 645.8,402.7 C645.2,404.8 643.7,407.8 643.3,408.8 M643.3,408.8 C642.8,409.8 641.2,412.7 640.3,414.7 C639.5,416.8 639.2,419.0 638.2,421.0 C637.2,423.0 635.2,425.7 634.6,426.6 M670.3,414.0 C671.0,415.9 672.9,421.7 674.3,425.4 C675.7,429.2 677.6,432.8 678.6,436.7 C679.5,440.6 679.6,446.7 679.8,448.7 M662.0,405.3 C662.3,406.4 663.3,409.6 663.8,411.7 C664.3,413.9 664.9,416.0 665.2,418.2 C665.5,420.4 665.5,423.7 665.5,424.8 M665.5,424.8 C665.9,425.8 667.3,428.9 668.1,430.9 C668.9,433.0 669.7,435.0 670.4,437.2 C671.0,439.3 671.7,442.5 671.9,443.6 M663.8,411.7 C664.2,412.2 665.5,413.5 666.4,414.3 C667.2,415.2 668.3,415.9 668.9,416.9 C669.6,417.9 669.9,419.8 670.1,420.3 M674.3,425.4 C674.8,426.4 676.6,429.3 677.3,431.3 C677.9,433.4 677.7,435.8 678.2,437.9 C678.7,440.0 680.0,443.1 680.4,444.2 M679.8,448.7 C680.2,449.7 682.1,452.6 682.5,454.7 C682.9,456.8 682.6,459.2 682.3,461.3 C682.1,463.5 681.2,466.8 681.0,467.8 M620.2,379.9 C619.8,380.6 618.0,382.6 617.5,384.2 C616.9,385.7 617.0,387.5 616.8,389.1 C616.6,390.8 616.4,393.3 616.3,394.2 M626.0,371.7 C626.2,372.1 626.7,373.3 627.2,374.1 C627.6,374.9 628.1,375.7 628.6,376.5 C629.1,377.3 629.8,378.5 630.1,378.9 M623.1,375.8 C623.3,376.2 624.0,377.5 624.3,378.3 C624.7,379.1 625.0,380.0 625.4,380.9 C625.8,381.7 626.4,383.0 626.6,383.4 M619.9,388.0 C619.5,388.7 618.2,390.9 617.6,392.5 C617.0,394.1 617.0,395.8 616.4,397.4 C615.7,398.9 614.3,401.0 613.9,401.7 M631.2,404.7 C630.6,405.2 628.3,406.7 627.5,408.1 C626.6,409.4 626.3,411.3 626.2,412.9 C626.0,414.6 626.6,417.1 626.6,417.9 M602.9,403.0 C602.5,404.4 600.8,408.7 600.3,411.7 C599.9,414.7 600.2,417.8 600.3,420.9 C600.4,423.9 600.7,428.5 600.8,430.0 M602.9,403.0 C603.4,403.6 604.9,405.7 605.8,407.1 C606.7,408.5 607.7,409.9 608.5,411.4 C609.3,412.8 610.3,415.1 610.7,415.9 M600.3,411.7 C601.1,412.1 603.7,412.9 604.8,414.0 C606.0,415.1 606.6,416.9 607.2,418.4 C607.8,420.0 608.3,422.5 608.5,423.3 M579.7,443.9 C580.1,445.4 581.4,449.8 582.3,452.7 C583.2,455.6 584.7,458.5 585.0,461.5 C585.4,464.4 584.6,469.1 584.5,470.6 M577.7,426.1 C577.2,426.7 575.5,428.6 574.7,430.1 C573.9,431.6 573.2,433.2 572.8,434.8 C572.5,436.4 572.5,439.0 572.4,439.8 M610.4,531.2 C609.8,533.4 607.9,539.8 607.2,544.1 C606.5,548.5 606.3,555.2 606.1,557.4 M610.2,504.6 C609.6,505.6 607.7,508.8 606.8,511.1 C606.0,513.3 605.5,515.8 605.2,518.2 C604.8,520.6 604.7,524.3 604.6,525.5 M610.0,517.9 C609.6,519.0 608.3,522.5 607.7,524.8 C607.1,527.2 606.4,529.7 606.4,532.0 C606.4,534.4 607.6,538.0 607.8,539.2 M882.7,388.3 C882.8,389.1 882.8,391.6 882.9,393.2 C883.0,394.8 883.0,396.5 883.4,398.1 C883.7,399.7 884.9,401.9 885.2,402.6 M884.3,378.7 C884.2,379.2 884.1,380.5 884.0,381.4 C884.0,382.3 884.1,383.2 884.1,384.1 C884.2,385.0 884.2,386.3 884.2,386.8 M883.1,383.5 C883.4,383.8 884.2,384.9 884.9,385.5 C885.5,386.1 886.2,386.7 886.9,387.2 C887.6,387.8 888.7,388.6 889.1,388.9 M882.7,388.3 C883.0,388.7 883.9,389.7 884.5,390.4 C885.1,391.0 885.6,391.7 886.3,392.4 C886.9,393.0 888.0,393.8 888.3,394.1 M886.5,406.2 C886.5,407.0 886.6,409.4 886.6,411.0 C886.5,412.7 886.3,414.3 886.5,415.9 C886.6,417.5 887.3,419.9 887.5,420.7 M887.4,396.4 C887.6,396.9 888.0,398.1 888.4,398.9 C888.8,399.7 889.3,400.5 889.8,401.2 C890.2,402.0 890.8,403.2 891.0,403.6 M893.0,418.1 C892.4,418.7 890.7,420.4 889.5,421.6 C888.4,422.7 887.2,423.9 886.1,425.1 C885.0,426.3 883.5,428.2 883.0,428.8 M894.1,426.9 C894.7,427.5 896.2,429.4 897.4,430.6 C898.5,431.7 899.8,432.7 901.1,433.7 C902.4,434.7 904.4,436.1 905.1,436.6 M887.8,433.3 C887.8,434.8 887.6,439.2 887.4,442.2 C887.1,445.1 886.7,448.0 886.3,451.0 C886.0,453.9 885.4,458.3 885.2,459.8 M885.2,459.8 C884.6,460.3 882.8,462.1 881.5,463.1 C880.3,464.0 878.8,464.8 877.5,465.7 C876.1,466.6 874.0,468.0 873.4,468.4 M878.9,448.1 C879.3,449.5 880.7,453.8 881.0,456.7 C881.3,459.7 881.0,462.7 880.6,465.6 C880.2,468.5 878.9,472.8 878.6,474.3 M878.5,439.2 C878.6,440.0 879.1,442.5 879.1,444.1 C879.1,445.7 878.6,447.3 878.6,448.9 C878.5,450.6 878.7,453.0 878.7,453.8 M881.0,456.7 C880.4,457.2 878.3,458.6 877.1,459.7 C876.0,460.8 874.9,462.1 873.9,463.3 C872.8,464.6 871.4,466.5 870.8,467.2 M880.6,465.6 C881.0,466.4 881.8,468.7 882.7,470.1 C883.5,471.4 884.9,472.5 885.7,473.9 C886.5,475.3 887.0,477.8 887.3,478.5 M854.3,460.0 C853.6,461.3 851.4,465.2 850.6,468.1 C849.8,470.9 849.5,473.9 849.4,476.9 C849.2,479.8 849.7,484.3 849.7,485.8 M861.3,443.9 C861.8,444.5 863.2,446.5 864.2,447.8 C865.3,449.0 866.4,450.3 867.5,451.4 C868.7,452.5 870.7,454.0 871.3,454.5 M866.7,385.4 C867.2,386.5 868.9,389.8 869.9,392.1 C870.8,394.4 871.7,396.8 872.2,399.2 C872.8,401.6 873.1,405.4 873.3,406.6 M867.6,370.7 C868.1,371.2 869.7,372.5 870.7,373.4 C871.8,374.2 873.0,375.0 873.9,375.9 C874.9,376.9 876.0,378.6 876.4,379.2 M865.7,378.0 C866.1,378.5 867.4,380.1 868.0,381.3 C868.6,382.5 869.1,383.9 869.4,385.2 C869.7,386.5 869.7,388.6 869.7,389.3 M854.9,395.0 C854.6,396.2 853.9,399.8 853.1,402.2 C852.4,404.6 851.7,407.0 850.6,409.3 C849.6,411.5 847.5,414.6 846.8,415.7 M862.5,382.1 C862.0,382.5 860.4,383.8 859.3,384.6 C858.2,385.4 856.7,385.8 855.8,386.8 C855.0,387.8 854.4,390.0 854.2,390.6 M854.9,395.0 C855.2,395.6 856.2,397.4 856.7,398.7 C857.3,399.9 857.8,401.2 858.3,402.4 C858.8,403.7 859.5,405.7 859.8,406.3 M853.1,402.2 C852.5,402.4 850.4,402.8 849.2,403.3 C847.9,403.8 846.6,404.4 845.5,405.1 C844.4,405.9 842.9,407.4 842.4,407.8 M853.1,408.2 C852.9,409.5 852.1,413.2 852.1,415.6 C852.2,418.1 852.8,420.6 853.5,423.0 C854.2,425.4 855.9,428.7 856.4,429.9 M857.5,394.3 C858.1,394.4 860.1,394.8 861.4,395.3 C862.7,395.7 864.3,395.9 865.3,396.8 C866.2,397.6 867.0,399.7 867.4,400.3 M853.9,400.8 C854.4,401.3 855.8,402.7 856.9,403.6 C858.0,404.4 859.3,405.0 860.3,405.9 C861.3,406.8 862.5,408.5 863.0,409.0 M900.4,408.4 C899.6,409.3 897.3,412.3 895.6,414.1 C894.0,415.9 892.1,417.7 890.4,419.4 C888.6,421.2 886.0,423.8 885.1,424.7 M885.1,424.7 C884.1,425.4 880.6,427.2 879.0,429.1 C877.5,430.9 877.1,433.7 875.9,435.8 C874.7,438.0 872.3,441.0 871.6,442.0 M890.4,419.4 C890.5,420.1 890.5,422.2 890.8,423.5 C891.1,424.9 891.5,426.2 892.0,427.5 C892.4,428.7 893.3,430.6 893.5,431.3 M912.9,446.7 C912.3,447.8 910.4,451.0 909.0,453.1 C907.6,455.1 906.1,457.2 904.5,459.0 C902.9,460.9 900.1,463.5 899.3,464.4 M897.0,422.7 C898.0,423.4 901.3,425.3 903.2,426.9 C905.0,428.5 907.0,430.2 908.3,432.3 C909.6,434.4 910.4,438.2 910.8,439.3 M910.8,439.3 C911.3,440.5 912.7,444.0 913.8,446.2 C915.0,448.3 916.9,450.2 917.8,452.5 C918.8,454.7 919.3,458.5 919.6,459.7 M903.2,426.9 C902.8,427.5 901.6,429.1 900.8,430.3 C900.1,431.5 899.4,432.6 898.9,433.9 C898.4,435.1 897.8,437.1 897.6,437.8 M908.3,432.3 C907.8,432.8 906.3,434.2 905.5,435.3 C904.6,436.4 904.2,437.7 903.3,438.8 C902.5,439.9 901.0,441.3 900.5,441.8 M902.2,435.3 C901.2,436.0 898.0,438.1 896.3,439.9 C894.6,441.7 893.5,444.0 892.2,446.1 C890.9,448.3 889.3,451.6 888.7,452.7 M888.7,452.7 C888.1,453.8 886.1,457.0 884.9,459.2 C883.8,461.4 883.0,463.8 881.9,466.0 C880.8,468.2 878.8,471.4 878.2,472.5 M896.3,439.9 C895.8,440.3 894.1,441.6 893.3,442.6 C892.4,443.7 891.8,445.0 891.0,446.1 C890.2,447.2 888.9,448.8 888.5,449.3 M906.1,448.3 C906.7,449.3 908.4,452.7 909.9,454.7 C911.4,456.7 913.5,458.1 915.0,460.1 C916.4,462.1 918.0,465.6 918.6,466.7 M908.4,475.1 C907.8,476.2 906.1,479.5 904.7,481.6 C903.4,483.7 901.5,485.4 900.2,487.6 C899.0,489.7 897.6,493.2 897.1,494.3 M890.9,476.6 C890.7,478.8 890.2,485.6 889.6,490.1 C889.0,494.6 888.6,499.2 887.3,503.5 C886.0,507.8 882.6,513.8 881.7,515.9 M890.9,476.6 C890.1,477.6 887.8,480.5 886.3,482.4 C884.7,484.4 883.1,486.3 881.8,488.4 C880.4,490.5 878.9,493.9 878.3,495.0 M889.6,490.1 C889.0,491.2 887.2,494.5 885.7,496.5 C884.2,498.4 882.4,500.2 880.7,502.0 C879.0,503.8 876.2,506.3 875.3,507.2 M887.3,503.5 C887.6,504.7 888.3,508.4 889.1,510.7 C890.0,513.0 891.4,515.2 892.5,517.4 C893.6,519.6 895.2,523.0 895.7,524.2 M918.4,504.1 C919.1,506.3 920.9,512.8 922.1,517.2 C923.3,521.6 925.4,525.9 925.7,530.3 C925.9,534.7 923.8,541.5 923.5,543.7 M917.8,477.3 C918.5,478.3 920.4,481.6 921.7,483.6 C923.1,485.7 925.3,487.4 926.2,489.6 C927.1,491.8 926.9,495.8 927.1,497.0 M918.4,504.1 C917.6,505.0 914.5,507.4 913.2,509.5 C911.9,511.5 911.2,514.1 910.7,516.5 C910.2,518.9 910.2,522.7 910.1,523.9 M836.9,456.4 C835.9,458.5 832.0,464.4 830.8,468.7 C829.6,473.1 830.1,477.9 829.8,482.4 C829.4,487.0 829.0,493.9 828.8,496.1 M830.8,468.7 C829.9,469.6 827.3,472.4 825.6,474.2 C823.8,476.0 822.1,477.8 820.4,479.7 C818.7,481.6 816.2,484.4 815.4,485.4 M844.2,479.1 C845.4,481.0 850.2,486.3 851.9,490.5 C853.5,494.6 854.2,499.6 854.0,504.0 C853.8,508.5 851.3,515.2 850.8,517.4 M839.7,466.1 C840.2,467.2 842.0,470.6 842.9,473.0 C843.8,475.3 844.1,477.9 845.1,480.2 C846.2,482.4 848.6,485.4 849.3,486.5 M797.0,489.9 C796.2,492.1 793.0,498.4 792.3,502.9 C791.6,507.3 792.1,512.1 792.5,516.6 C793.0,521.2 794.5,527.9 795.0,530.1 M810.6,467.0 C811.1,468.2 813.1,471.5 813.6,473.9 C814.1,476.4 813.7,479.0 813.4,481.5 C813.1,484.0 812.2,487.7 811.9,488.9 M843.6,355.7 C842.9,356.9 840.3,360.6 839.0,363.2 C837.6,365.8 836.6,368.5 835.5,371.3 C834.5,374.0 833.1,378.2 832.7,379.6 M854.0,341.4 C854.3,342.1 855.9,344.1 856.2,345.7 C856.6,347.2 856.4,348.9 856.2,350.5 C856.0,352.1 855.4,354.5 855.2,355.3 M855.2,355.3 C855.4,356.0 856.2,358.4 856.2,360.0 C856.3,361.6 855.6,363.2 855.4,364.8 C855.2,366.4 855.0,368.8 855.0,369.6 M856.2,345.7 C855.9,346.0 855.0,346.9 854.3,347.5 C853.6,348.1 852.9,348.6 852.2,349.1 C851.5,349.6 850.3,350.3 849.9,350.5 M848.7,348.5 C848.1,348.9 845.9,350.1 844.7,351.1 C843.4,352.1 842.3,353.3 841.1,354.4 C840.0,355.5 838.3,357.3 837.7,357.9 M837.7,357.9 C837.1,358.4 835.1,359.7 833.8,360.8 C832.6,361.8 831.2,362.8 830.2,364.0 C829.2,365.2 828.2,367.5 827.8,368.2 M843.6,355.7 C844.0,356.4 845.0,358.6 845.7,360.1 C846.4,361.5 847.5,362.8 847.9,364.4 C848.3,365.9 847.9,368.4 847.9,369.2 M835.5,371.3 C834.8,371.7 832.6,372.7 831.3,373.6 C829.9,374.5 828.7,375.5 827.5,376.6 C826.3,377.7 824.7,379.6 824.2,380.2 M832.7,379.6 C832.9,380.4 833.2,382.8 833.8,384.3 C834.4,385.8 835.7,387.1 836.1,388.6 C836.6,390.1 836.4,392.6 836.5,393.4 M835.1,369.3 C834.6,370.7 833.4,375.0 832.0,377.6 C830.5,380.1 828.2,382.1 826.7,384.7 C825.2,387.2 823.5,391.3 822.8,392.6 M832.0,377.6 C831.3,378.1 829.3,379.5 828.1,380.5 C826.9,381.6 825.6,382.6 824.6,383.9 C823.6,385.1 822.4,387.3 822.0,388.0 M826.7,384.7 C826.0,385.1 823.8,386.2 822.5,387.1 C821.2,388.1 819.7,389.0 818.8,390.3 C817.9,391.6 817.4,394.1 817.1,394.8 M833.1,383.3 C833.2,384.7 833.3,389.2 834.0,392.0 C834.7,394.8 835.9,397.6 837.3,400.2 C838.7,402.8 841.6,406.2 842.4,407.4 M840.7,367.8 C841.4,368.2 843.7,369.2 844.8,370.4 C845.9,371.5 846.6,373.1 847.3,374.5 C847.9,376.0 848.6,378.3 848.9,379.1 M835.2,374.7 C835.2,375.5 835.4,378.0 835.1,379.5 C834.9,381.1 834.0,382.6 833.7,384.2 C833.4,385.8 833.5,388.2 833.4,389.0 M833.1,383.3 C833.9,383.4 836.3,383.7 837.9,384.0 C839.5,384.3 841.2,384.4 842.6,385.1 C844.1,385.7 845.9,387.4 846.6,387.8 M834.0,392.0 C833.8,392.8 832.9,395.1 832.7,396.7 C832.4,398.3 832.6,399.9 832.7,401.5 C832.8,403.2 833.1,405.6 833.1,406.4 M837.3,400.2 C836.9,400.8 835.5,402.9 834.5,404.1 C833.5,405.4 832.5,406.7 831.4,407.8 C830.3,409.0 828.5,410.7 828.0,411.3 M826.0,418.2 C825.8,419.6 824.5,424.0 824.4,426.9 C824.3,429.8 824.8,432.8 825.5,435.6 C826.2,438.5 828.0,442.5 828.5,443.9 M823.2,362.7 C822.7,364.2 820.7,368.5 819.8,371.5 C819.0,374.5 819.1,377.8 818.2,380.8 C817.4,383.8 815.4,388.1 814.8,389.5 M819.8,371.5 C820.3,372.2 821.7,374.4 822.6,375.9 C823.4,377.4 823.9,379.1 824.8,380.6 C825.7,382.0 827.4,384.0 827.9,384.7 M818.2,380.8 C818.1,381.6 817.7,384.2 817.3,385.9 C817.0,387.5 816.6,389.3 815.9,390.9 C815.3,392.4 813.9,394.7 813.5,395.4 M832.1,440.5 C831.8,442.0 830.6,446.6 830.4,449.8 C830.1,452.9 830.1,456.1 830.6,459.2 C831.0,462.2 832.7,466.7 833.2,468.2 M828.6,422.0 C829.1,422.8 830.6,424.9 831.3,426.5 C832.0,428.0 832.7,429.7 833.0,431.4 C833.4,433.0 833.3,435.7 833.3,436.5 M866.6,422.1 C867.1,422.9 868.8,425.1 870.0,426.5 C871.1,428.0 872.7,429.2 873.6,430.8 C874.4,432.4 874.9,435.2 875.2,436.1 M828.7,415.0 C829.0,415.9 830.0,418.5 830.4,420.3 C830.7,422.1 830.5,424.0 830.9,425.8 C831.2,427.7 832.1,430.3 832.4,431.2 M832.4,431.2 C832.8,432.0 834.3,434.4 834.9,436.2 C835.5,437.9 835.5,439.8 836.1,441.6 C836.6,443.4 837.8,445.9 838.2,446.7 M823.4,423.5 C824.0,424.2 826.0,426.2 827.3,427.5 C828.6,428.8 830.1,430.0 831.2,431.5 C832.3,432.9 833.6,435.4 834.1,436.2 M822.6,433.6 C822.5,434.6 822.4,437.3 822.1,439.2 C821.9,441.0 821.6,442.8 821.3,444.7 C821.1,446.5 820.7,449.3 820.6,450.2 M823.6,453.8 C824.2,454.6 826.3,456.5 827.2,458.1 C828.1,459.7 828.9,461.5 829.2,463.3 C829.4,465.1 828.8,467.9 828.7,468.8 M833.6,459.9 C833.4,461.6 833.3,466.7 832.6,470.0 C831.8,473.2 830.1,476.3 829.1,479.5 C828.1,482.7 826.8,487.6 826.3,489.2 M831.5,450.0 C830.8,450.6 828.6,452.3 827.4,453.7 C826.2,455.1 825.2,456.7 824.3,458.3 C823.4,460.0 822.4,462.6 822.1,463.4 M829.1,479.5 C829.5,480.3 830.7,482.8 831.6,484.5 C832.4,486.1 833.7,487.6 834.4,489.3 C835.0,491.0 835.3,493.8 835.5,494.7 M1026.2,368.7 C1025.9,370.1 1025.0,374.2 1023.9,376.7 C1022.9,379.3 1021.3,381.6 1019.8,384.0 C1018.3,386.3 1015.7,389.6 1014.9,390.7 M1037.2,356.3 C1036.5,356.7 1034.5,357.8 1033.2,358.6 C1031.8,359.3 1030.1,359.6 1029.1,360.7 C1028.1,361.7 1027.4,364.1 1027.1,364.8 M1031.0,361.9 C1031.3,362.6 1032.8,364.5 1033.1,365.9 C1033.5,367.4 1033.3,369.0 1033.1,370.5 C1032.9,372.0 1032.1,374.2 1031.9,374.9 M1026.2,368.7 C1025.6,369.2 1023.5,370.4 1022.6,371.5 C1021.8,372.7 1021.7,374.5 1021.1,375.9 C1020.6,377.3 1019.5,379.3 1019.2,380.0 M1045.3,381.1 C1045.3,382.5 1045.6,386.8 1045.1,389.5 C1044.6,392.2 1043.5,394.8 1042.2,397.3 C1040.9,399.7 1038.2,402.9 1037.4,404.1 M1051.4,365.7 C1051.1,366.4 1050.2,368.5 1049.8,370.0 C1049.4,371.4 1049.2,373.0 1048.7,374.4 C1048.3,375.9 1047.5,378.0 1047.2,378.7 M1047.9,373.2 C1048.0,374.0 1048.3,376.3 1048.5,377.8 C1048.8,379.3 1049.3,380.7 1049.6,382.2 C1050.0,383.7 1050.5,385.9 1050.6,386.7 M1045.1,389.5 C1045.3,390.2 1046.1,392.4 1046.4,393.8 C1046.8,395.3 1046.8,396.9 1047.2,398.4 C1047.5,399.9 1048.2,402.0 1048.4,402.8 M1011.1,378.5 C1011.1,380.2 1011.4,385.1 1010.9,388.3 C1010.3,391.5 1009.2,394.7 1007.8,397.6 C1006.4,400.5 1003.6,404.6 1002.7,406.0 M1019.4,360.8 C1019.5,361.7 1020.2,364.4 1020.1,366.2 C1019.9,367.9 1019.0,369.6 1018.8,371.4 C1018.5,373.2 1018.6,375.9 1018.6,376.8 M1022.7,398.0 C1022.8,399.7 1023.5,404.6 1023.2,407.8 C1022.9,411.0 1021.6,414.2 1020.7,417.3 C1019.7,420.4 1017.9,424.9 1017.3,426.5 M1023.1,388.3 C1022.5,388.9 1020.3,390.5 1019.1,391.8 C1017.9,393.2 1016.6,394.6 1015.9,396.2 C1015.3,397.8 1015.2,400.6 1015.0,401.5 M1024.6,386.2 C1026.0,387.0 1030.3,389.2 1033.2,390.8 C1036.1,392.4 1038.9,393.9 1041.7,395.7 C1044.5,397.4 1048.5,400.1 1049.9,401.0 M1049.9,401.0 C1050.8,402.3 1054.1,406.1 1055.5,409.0 C1056.9,411.9 1057.5,415.2 1058.4,418.4 C1059.2,421.5 1060.4,426.3 1060.8,427.9 M1033.2,390.8 C1033.9,391.3 1036.4,392.6 1037.6,393.9 C1038.8,395.2 1039.5,397.0 1040.3,398.5 C1041.2,400.1 1042.4,402.5 1042.8,403.3 M1033.1,401.8 C1034.3,402.9 1038.3,406.0 1040.2,408.6 C1042.1,411.1 1043.2,414.4 1044.6,417.3 C1046.1,420.2 1048.2,424.6 1049.0,426.1 M1042.6,416.8 C1042.0,418.3 1040.7,423.1 1039.1,425.9 C1037.5,428.8 1034.4,430.8 1033.2,433.8 C1032.0,436.7 1032.0,441.8 1031.8,443.4 M1003.9,385.6 C1003.1,387.0 1000.9,391.0 999.3,393.6 C997.6,396.1 995.2,398.3 994.0,401.0 C992.8,403.7 992.4,408.4 992.0,409.9 M1016.5,353.2 C1016.7,354.4 1017.4,357.9 1018.2,360.1 C1019.0,362.3 1020.3,364.3 1021.1,366.5 C1021.9,368.7 1022.9,372.2 1023.2,373.3 M1016.5,353.2 C1016.8,353.8 1017.9,355.4 1018.7,356.4 C1019.6,357.4 1020.9,358.0 1021.5,359.1 C1022.1,360.2 1022.3,362.3 1022.5,362.9 M1010.7,344.5 C1009.5,344.7 1005.9,345.1 1003.8,346.0 C1001.6,346.8 999.6,348.3 997.7,349.6 C995.7,350.9 992.9,353.1 992.0,353.8 M992.0,353.8 C991.4,354.8 990.2,358.2 988.9,360.1 C987.6,362.1 986.0,363.9 984.3,365.6 C982.7,367.2 979.8,369.3 978.9,370.1 M1003.8,346.0 C1003.2,346.3 1001.3,347.0 1000.3,347.8 C999.3,348.6 998.6,349.7 997.9,350.8 C997.2,351.9 996.5,353.8 996.2,354.4 M1007.7,369.7 C1006.6,370.2 1003.2,371.6 1001.5,373.2 C999.8,374.8 998.4,376.9 997.5,379.0 C996.5,381.1 996.2,384.8 995.9,385.9 M996.3,392.7 C996.3,393.9 996.2,397.5 996.2,399.8 C996.3,402.2 996.8,404.6 996.6,406.9 C996.4,409.2 995.4,412.7 995.1,413.8 M1012.3,355.2 C1011.9,357.0 1010.6,362.4 1009.8,366.0 C1009.0,369.6 1008.3,373.2 1007.4,376.8 C1006.4,380.4 1004.9,385.7 1004.4,387.4 M1011.2,344.2 C1010.7,345.0 1009.0,347.6 1008.2,349.4 C1007.3,351.3 1006.8,353.3 1006.1,355.2 C1005.4,357.1 1004.3,359.9 1003.9,360.8 M1003.9,360.8 C1003.6,361.8 1003.0,364.9 1002.2,366.7 C1001.3,368.5 1000.0,370.2 998.8,371.7 C997.5,373.3 995.2,375.4 994.5,376.1 M1008.2,349.4 C1008.3,350.0 1008.8,351.6 1009.0,352.7 C1009.3,353.8 1009.3,354.9 1009.6,356.0 C1009.9,357.0 1010.6,358.6 1010.8,359.1 M1012.3,355.2 C1012.6,356.2 1013.3,359.1 1013.7,361.1 C1014.0,363.1 1014.1,365.2 1014.3,367.2 C1014.6,369.2 1015.1,372.2 1015.2,373.2 M1009.8,366.0 C1010.5,366.7 1012.7,368.9 1014.2,370.2 C1015.8,371.5 1017.8,372.3 1019.2,373.7 C1020.5,375.2 1021.8,378.1 1022.3,379.0" stroke-width="1.0"/><path d="M200.9,364.1 C202.8,366.4 209.6,372.4 212.3,377.4 C215.0,382.5 215.6,388.6 217.2,394.2 C218.8,399.9 221.1,408.3 221.9,411.1 M164.8,363.3 C163.6,365.3 159.5,371.2 157.9,375.6 C156.4,380.0 155.4,384.8 155.4,389.4 C155.3,394.1 157.1,401.0 157.5,403.3 M157.9,375.6 C157.1,376.6 154.7,379.6 153.1,381.6 C151.5,383.7 149.5,385.5 148.4,387.8 C147.3,390.0 146.7,394.0 146.4,395.3 M146.8,382.6 C144.9,384.8 139.6,391.5 135.5,395.5 C131.5,399.4 126.5,402.4 122.4,406.3 C118.2,410.1 112.5,416.5 110.5,418.5 M150.3,378.0 C149.8,380.9 147.4,389.7 147.0,395.7 C146.7,401.6 147.2,407.8 148.3,413.6 C149.5,419.5 153.2,427.8 154.2,430.7 M160.6,366.0 C161.0,367.9 162.2,373.6 162.9,377.4 C163.6,381.2 164.4,385.0 164.8,388.9 C165.2,392.7 165.0,398.5 165.1,400.5 M161.9,342.8 C161.8,343.9 161.3,347.1 161.5,349.2 C161.7,351.3 162.8,353.3 163.1,355.4 C163.4,357.5 163.4,360.7 163.5,361.8 M377.1,392.8 C378.0,394.4 380.8,399.3 382.5,402.7 C384.2,406.1 385.7,409.6 387.1,413.1 C388.5,416.6 390.4,422.0 391.0,423.8 M368.9,415.6 C369.2,417.5 370.0,423.3 370.6,427.1 C371.3,430.9 372.0,434.7 372.9,438.5 C373.7,442.3 375.2,447.9 375.7,449.8 M381.3,432.8 C382.7,434.1 387.7,437.5 389.9,440.5 C392.1,443.6 392.6,447.8 394.4,451.2 C396.3,454.6 399.8,459.3 400.8,460.9 M339.1,393.3 C339.6,394.8 341.6,399.2 342.1,402.2 C342.5,405.3 342.2,408.5 341.8,411.6 C341.4,414.7 340.0,419.3 339.6,420.8 M328.3,378.0 C328.7,378.7 330.3,380.9 330.8,382.5 C331.4,384.1 331.3,385.9 331.6,387.6 C331.9,389.3 332.4,391.8 332.5,392.7 M333.1,402.2 C334.2,403.4 337.7,406.6 339.5,409.2 C341.2,411.7 342.3,414.8 343.5,417.7 C344.6,420.6 345.8,425.2 346.3,426.6 M340.8,417.5 C342.0,418.6 346.0,421.4 347.6,424.1 C349.1,426.7 349.3,430.1 349.9,433.2 C350.4,436.2 350.7,440.9 350.9,442.5 M358.5,446.7 C360.0,447.1 364.7,447.9 367.6,449.1 C370.5,450.3 373.2,452.0 375.7,453.8 C378.2,455.7 381.6,459.0 382.8,460.0 M318.9,419.7 C318.2,421.4 315.4,426.3 314.5,429.8 C313.6,433.3 313.4,437.1 313.5,440.7 C313.5,444.4 314.6,449.8 314.8,451.6 M299.8,391.0 C299.1,392.4 296.3,396.5 295.6,399.5 C294.9,402.5 295.6,405.9 295.5,409.0 C295.3,412.2 294.9,416.9 294.8,418.5 M299.8,391.0 C299.1,391.6 297.0,393.2 296.0,394.6 C295.0,396.0 294.6,397.8 293.9,399.4 C293.1,401.0 291.9,403.3 291.5,404.1 M298.1,368.5 C298.6,370.0 300.6,374.1 301.0,377.0 C301.3,379.8 300.7,382.9 300.4,385.8 C300.0,388.8 299.0,393.1 298.8,394.6 M291.1,383.1 C290.0,384.1 285.9,386.5 284.3,388.8 C282.8,391.2 282.5,394.5 281.8,397.4 C281.1,400.2 280.4,404.6 280.1,406.1 M289.3,410.4 C288.7,411.1 286.6,413.0 285.4,414.5 C284.2,415.9 282.9,417.4 282.0,419.0 C281.1,420.7 280.4,423.5 280.1,424.4 M506.6,370.5 C507.6,371.3 511.1,373.4 512.6,375.4 C514.2,377.4 514.8,380.1 515.7,382.5 C516.5,385.0 517.4,388.7 517.8,390.0 M508.0,412.7 C507.2,413.7 505.0,416.9 503.3,418.8 C501.5,420.7 499.3,422.2 497.5,424.1 C495.8,426.0 493.5,429.1 492.7,430.1 M468.0,378.3 C465.9,380.2 459.1,385.4 455.0,389.3 C450.9,393.2 447.3,397.6 443.4,401.7 C439.5,405.8 433.5,411.9 431.5,413.9 M704.5,468.0 C705.3,470.1 708.8,476.3 709.5,480.6 C710.3,485.0 709.4,489.7 709.0,494.3 C708.7,498.8 707.7,505.5 707.5,507.8 M672.3,500.4 C671.5,502.5 669.2,508.9 667.6,513.2 C666.0,517.4 663.7,521.5 662.9,525.9 C662.0,530.3 662.4,537.3 662.3,539.5 M648.6,380.0 C650.3,380.7 655.4,382.7 658.6,384.5 C661.8,386.2 665.3,388.0 667.7,390.6 C670.1,393.2 672.2,398.5 673.1,400.1 M645.2,378.2 C645.8,380.1 647.8,385.8 648.6,389.8 C649.4,393.7 649.9,397.7 650.0,401.7 C650.2,405.7 649.7,411.8 649.7,413.8 M645.2,378.2 C646.0,379.0 648.4,381.3 650.0,382.8 C651.7,384.3 653.7,385.4 655.0,387.1 C656.4,388.8 657.4,392.1 657.9,393.1 M629.8,377.7 C630.0,379.2 630.8,383.7 631.3,386.7 C631.9,389.7 633.1,392.7 633.1,395.7 C633.1,398.7 631.5,403.2 631.2,404.7 M629.9,368.6 C629.3,369.1 627.1,370.4 626.0,371.7 C624.8,372.9 624.1,374.4 623.1,375.8 C622.2,377.2 620.7,379.3 620.2,379.9 M629.8,377.7 C629.0,378.0 626.3,378.4 625.0,379.4 C623.7,380.3 622.9,382.0 622.0,383.4 C621.2,384.9 620.2,387.2 619.9,388.0 M581.2,417.6 C580.6,419.0 578.4,423.1 577.7,426.1 C577.0,429.0 576.6,432.2 577.0,435.2 C577.3,438.2 579.3,442.5 579.7,443.9 M616.5,492.9 C615.5,494.8 611.3,500.4 610.2,504.6 C609.1,508.7 610.0,513.4 610.0,517.9 C610.0,522.3 610.3,529.0 610.4,531.2 M888.1,383.9 C887.7,385.4 886.9,389.8 886.0,392.6 C885.2,395.4 884.1,398.2 882.8,400.9 C881.5,403.5 879.1,407.3 878.4,408.6 M887.5,375.1 C887.0,375.7 885.0,377.3 884.3,378.7 C883.5,380.1 883.4,381.9 883.1,383.5 C882.9,385.1 882.8,387.5 882.7,388.3 M889.1,400.8 C889.3,402.3 889.6,406.7 890.3,409.6 C890.9,412.5 892.3,415.2 893.0,418.1 C893.6,421.0 893.9,425.4 894.1,426.9 M889.2,391.9 C888.9,392.6 887.8,394.9 887.4,396.4 C887.0,398.0 886.8,399.6 886.6,401.3 C886.5,402.9 886.6,405.3 886.5,406.2 M873.1,422.3 C873.5,423.7 874.6,428.0 875.5,430.8 C876.4,433.7 877.9,436.3 878.5,439.2 C879.1,442.1 878.8,446.6 878.9,448.1 M867.4,437.4 C866.4,438.5 863.1,441.5 861.3,443.9 C859.5,446.2 857.7,448.7 856.5,451.4 C855.4,454.0 854.6,458.5 854.3,460.0 M863.3,389.7 C862.8,391.8 861.4,398.5 859.9,402.8 C858.5,407.1 856.8,411.3 854.7,415.3 C852.6,419.3 848.5,424.8 847.3,426.7 M867.2,363.3 C867.2,364.5 867.8,368.3 867.6,370.7 C867.3,373.2 865.8,375.5 865.7,378.0 C865.5,380.4 866.5,384.1 866.7,385.4 M867.8,376.8 C866.9,377.7 864.0,380.2 862.5,382.1 C861.0,384.1 860.1,386.4 858.8,388.6 C857.5,390.7 855.6,393.9 854.9,395.0 M863.3,389.7 C862.3,390.4 859.0,392.4 857.5,394.3 C855.9,396.1 854.6,398.5 853.9,400.8 C853.1,403.1 853.2,407.0 853.1,408.2 M900.4,408.4 C900.9,410.6 901.8,417.4 903.5,421.6 C905.1,425.8 908.6,429.2 910.2,433.4 C911.7,437.6 912.5,444.5 912.9,446.7 M902.2,435.3 C902.8,437.4 904.9,443.9 906.1,448.3 C907.2,452.6 908.7,457.0 909.1,461.5 C909.4,466.0 908.5,472.8 908.4,475.1 M910.3,441.5 C909.0,443.4 905.3,449.0 902.6,452.7 C899.9,456.3 896.3,459.5 894.3,463.4 C892.4,467.4 891.5,474.4 890.9,476.6 M909.9,466.2 C911.3,468.0 916.1,473.2 917.8,477.3 C919.5,481.3 920.0,486.2 920.1,490.6 C920.2,495.1 918.7,501.9 918.4,504.1 M849.1,417.2 C848.5,419.4 846.8,426.1 845.3,430.4 C843.7,434.7 841.1,438.6 839.7,443.0 C838.3,447.3 837.4,454.2 836.9,456.4 M836.5,438.8 C836.8,441.1 837.9,447.9 838.4,452.4 C839.0,457.0 838.7,461.7 839.7,466.1 C840.6,470.6 843.4,476.9 844.2,479.1 M821.6,458.9 C819.8,460.2 814.0,464.0 810.6,467.0 C807.1,470.0 803.1,472.9 800.9,476.8 C798.6,480.6 797.6,487.7 797.0,489.9 M849.1,365.1 C847.7,365.5 843.0,366.2 840.7,367.8 C838.4,369.4 836.5,372.1 835.2,374.7 C834.0,377.3 833.4,381.8 833.1,383.3 M838.8,395.1 C838.0,396.3 835.5,400.0 834.1,402.5 C832.7,405.1 831.8,408.0 830.5,410.6 C829.1,413.2 826.8,416.9 826.0,418.2 M825.1,413.3 C825.7,414.8 827.7,419.1 828.6,422.0 C829.6,425.0 830.5,428.1 831.1,431.1 C831.6,434.2 831.9,438.9 832.1,440.5 M852.3,395.7 C852.8,397.3 853.8,402.4 855.2,405.4 C856.6,408.4 858.9,411.0 860.8,413.8 C862.7,416.6 865.6,420.7 866.6,422.1 M823.4,423.5 C823.2,425.2 822.6,430.3 822.6,433.6 C822.5,437.0 822.9,440.4 823.0,443.7 C823.2,447.1 823.5,452.2 823.6,453.8 M823.1,431.6 C823.7,433.2 825.2,438.1 826.6,441.1 C828.1,444.2 830.4,446.9 831.5,450.0 C832.7,453.1 833.3,458.2 833.6,459.9 M1055.7,358.6 C1057.5,360.4 1064.0,365.1 1066.4,369.3 C1068.8,373.5 1069.9,379.0 1070.2,383.9 C1070.4,388.9 1068.4,396.4 1068.0,398.9 M1043.0,350.4 C1042.0,351.4 1039.2,354.4 1037.2,356.3 C1035.1,358.2 1032.8,359.8 1031.0,361.9 C1029.2,363.9 1027.0,367.6 1026.2,368.7 M1055.7,358.6 C1055.0,359.8 1052.7,363.2 1051.4,365.7 C1050.1,368.1 1048.9,370.7 1047.9,373.2 C1046.9,375.8 1045.8,379.8 1045.3,381.1 M1024.6,386.2 C1026.0,388.8 1030.1,396.7 1033.1,401.8 C1036.1,406.9 1039.3,411.9 1042.6,416.8 C1046.0,421.7 1051.3,428.9 1053.0,431.3 M1021.2,351.2 C1020.9,352.8 1020.4,357.7 1019.4,360.8 C1018.5,363.9 1016.8,366.8 1015.4,369.7 C1014.1,372.7 1011.9,377.1 1011.1,378.5 M1020.1,368.9 C1020.3,370.6 1020.6,375.5 1021.1,378.7 C1021.6,381.9 1022.9,385.0 1023.1,388.3 C1023.4,391.5 1022.7,396.4 1022.7,398.0 M1009.3,376.5 C1008.7,379.2 1006.9,387.3 1006.0,392.8 C1005.0,398.3 1003.8,403.8 1003.9,409.3 C1003.9,414.8 1005.9,423.0 1006.3,425.8 M1014.2,360.6 C1013.4,361.9 1010.2,365.4 1009.0,368.1 C1007.8,370.9 1007.8,374.1 1007.0,377.0 C1006.1,380.0 1004.4,384.2 1003.9,385.6 M1011.4,357.3 C1010.8,359.4 1009.3,365.7 1007.7,369.7 C1006.0,373.6 1003.4,377.1 1001.5,381.0 C999.6,384.8 997.2,390.8 996.3,392.7 M1014.3,332.1 C1014.4,333.3 1014.5,336.8 1014.8,339.2 C1015.1,341.5 1015.6,343.8 1015.9,346.2 C1016.2,348.5 1016.4,352.1 1016.5,353.2" stroke-width="1.5"/><path d="M170.3,322.4 C172.6,324.2 180.1,329.2 183.7,333.6 C187.3,338.1 189.0,344.1 191.8,349.2 C194.7,354.2 199.4,361.6 200.9,364.1 M168.3,333.1 C167.2,334.7 163.2,339.3 161.9,342.8 C160.5,346.4 160.4,350.5 160.2,354.3 C160.0,358.2 160.5,364.0 160.6,366.0 M361.3,379.4 C364.0,381.6 372.4,387.8 377.1,392.8 C381.7,397.8 384.9,404.1 389.3,409.4 C393.7,414.6 401.1,421.9 403.5,424.4 M357.7,397.7 C359.6,400.7 365.0,409.8 368.9,415.6 C372.8,421.5 377.2,427.0 381.3,432.8 C385.3,438.5 391.4,447.2 393.4,450.1 M357.7,397.7 C359.2,399.0 363.4,403.0 366.5,405.3 C369.6,407.7 373.1,409.5 376.1,411.8 C379.2,414.2 383.4,418.2 384.8,419.5 M333.1,402.2 C334.4,404.8 338.1,412.5 340.8,417.5 C343.5,422.5 346.3,427.5 349.3,432.3 C352.2,437.2 357.0,444.3 358.5,446.7 M325.2,369.1 C325.7,370.6 326.9,375.2 328.3,378.0 C329.6,380.8 331.6,383.3 333.4,385.9 C335.2,388.4 338.1,392.1 339.1,393.3 M330.3,385.4 C331.3,386.6 334.2,390.3 336.4,392.6 C338.5,394.8 341.6,396.4 343.3,398.9 C345.0,401.5 346.0,406.3 346.6,407.7 M291.1,383.1 C289.6,385.3 284.8,391.8 281.8,396.3 C278.7,400.7 275.3,405.0 272.9,409.8 C270.5,414.6 268.3,422.4 267.3,424.9 M295.2,401.9 C294.9,405.0 292.9,414.4 293.3,420.6 C293.8,426.7 295.5,433.0 297.7,438.8 C299.9,444.7 304.9,452.7 306.3,455.5 M295.2,401.9 C294.2,403.3 291.5,407.7 289.3,410.4 C287.1,413.0 283.8,414.9 282.0,417.7 C280.3,420.6 279.2,425.8 278.6,427.5 M515.0,388.3 C516.7,391.1 523.0,399.1 525.2,405.2 C527.4,411.3 527.6,418.2 528.2,424.7 C528.8,431.2 528.6,441.1 528.7,444.4 M506.3,384.6 C506.6,386.9 508.1,393.9 508.4,398.6 C508.7,403.2 507.4,408.1 508.0,412.7 C508.6,417.3 511.2,424.0 511.9,426.2 M508.5,356.5 C508.3,357.8 507.6,361.6 507.2,364.2 C506.8,366.7 506.3,369.3 506.1,371.9 C505.9,374.4 506.1,378.3 506.1,379.6 M490.6,388.1 C489.4,391.7 485.8,402.6 483.3,409.9 C480.9,417.2 478.7,424.5 475.9,431.6 C473.1,438.8 468.1,449.1 466.5,452.6 M497.1,342.6 C497.8,344.6 499.6,350.7 501.2,354.6 C502.8,358.5 504.9,362.2 506.6,366.0 C508.4,369.8 511.0,375.6 511.9,377.5 M680.0,435.9 C681.6,437.4 687.2,441.6 689.9,445.2 C692.6,448.7 693.6,453.5 696.0,457.3 C698.5,461.1 703.1,466.2 704.5,468.0 M680.1,460.6 C679.3,462.7 676.7,469.1 675.5,473.4 C674.3,477.8 673.4,482.3 672.8,486.8 C672.3,491.3 672.4,498.1 672.3,500.4 M682.4,485.3 C684.4,486.4 690.8,489.3 694.1,492.2 C697.4,495.2 700.0,499.3 702.2,503.2 C704.4,507.1 706.6,513.6 707.4,515.7 M648.6,380.0 C650.3,382.9 655.8,391.2 658.6,397.2 C661.5,403.1 663.3,409.6 665.8,415.7 C668.3,421.9 672.2,431.0 673.5,434.1 M646.6,386.8 C645.7,390.3 642.9,400.9 640.9,408.0 C639.0,415.0 635.5,421.9 634.8,429.0 C634.2,436.2 636.6,447.2 637.0,450.8 M649.3,343.3 C648.4,345.1 645.1,350.4 644.2,354.2 C643.3,358.0 643.7,362.2 643.9,366.2 C644.1,370.2 645.0,376.2 645.2,378.2 M646.6,386.8 C647.9,388.4 651.6,393.1 654.2,396.2 C656.8,399.2 659.3,402.4 662.0,405.3 C664.7,408.3 669.0,412.6 670.3,414.0 M610.6,377.5 C608.6,379.5 602.5,385.2 599.0,389.5 C595.5,393.8 592.5,398.5 589.5,403.2 C586.5,407.9 582.6,415.2 581.2,417.6 M629.3,350.3 C629.3,351.8 629.5,356.4 629.6,359.4 C629.7,362.5 629.9,365.5 629.9,368.6 C630.0,371.6 629.8,376.2 629.8,377.7 M610.6,377.5 C609.6,378.7 606.3,382.1 605.0,384.8 C603.8,387.5 603.6,390.8 603.2,393.8 C602.9,396.8 603.0,401.4 602.9,403.0 M620.2,422.6 C621.3,426.5 626.4,438.0 627.1,445.8 C627.8,453.7 626.0,462.0 624.2,469.9 C622.4,477.7 617.8,489.0 616.5,492.9 M888.7,403.4 C890.4,406.6 896.4,415.8 899.0,422.5 C901.7,429.1 902.5,436.5 904.7,443.4 C907.0,450.3 911.1,460.3 912.4,463.7 M881.7,375.8 C882.4,377.1 884.8,380.9 886.1,383.6 C887.3,386.2 888.7,389.0 889.2,391.9 C889.7,394.8 889.1,399.3 889.1,400.8 M880.5,407.9 C881.0,409.3 882.4,413.5 883.5,416.3 C884.6,419.0 886.4,421.6 887.1,424.4 C887.8,427.2 887.7,431.8 887.8,433.3 M878.7,374.7 C880.0,376.6 883.6,382.4 886.5,385.8 C889.4,389.3 893.7,391.8 896.0,395.5 C898.3,399.3 899.7,406.2 900.4,408.4 M888.9,397.2 C889.9,399.2 893.8,405.0 895.1,409.3 C896.5,413.5 895.8,418.4 897.0,422.7 C898.1,427.0 901.3,433.2 902.2,435.3 M860.6,395.0 C858.7,398.7 853.1,409.9 849.1,417.2 C845.1,424.5 841.1,431.9 836.5,438.8 C832.0,445.8 824.1,455.5 821.6,458.9 M849.1,365.1 C848.6,367.7 848.0,375.9 846.3,380.9 C844.6,385.9 841.5,390.4 838.8,395.1 C836.2,399.7 831.8,406.5 830.4,408.8 M860.7,335.7 C859.6,336.6 856.0,339.2 854.0,341.4 C852.0,343.5 850.5,346.1 848.7,348.5 C847.0,350.8 844.5,354.5 843.6,355.7 M852.4,349.4 C851.3,350.4 847.8,353.2 845.8,355.3 C843.8,357.4 842.1,359.9 840.4,362.2 C838.6,364.6 836.0,368.2 835.1,369.3 M840.7,365.0 C840.4,367.8 840.3,376.5 838.9,382.0 C837.5,387.5 834.6,392.6 832.3,397.8 C830.0,403.0 826.3,410.7 825.1,413.3 M848.0,349.5 C846.6,350.1 842.1,351.5 839.2,352.8 C836.4,354.1 833.6,355.7 830.9,357.3 C828.3,359.0 824.5,361.8 823.2,362.7 M843.2,401.0 C841.3,403.4 835.1,410.3 831.8,415.4 C828.5,420.5 825.7,426.1 823.1,431.6 C820.5,437.2 817.4,445.9 816.2,448.7 M853.8,366.0 C853.3,367.6 851.5,372.4 850.9,375.7 C850.3,379.0 850.0,382.5 850.2,385.8 C850.4,389.1 851.9,394.0 852.3,395.7 M843.2,401.0 C841.8,402.0 837.5,404.8 835.1,407.1 C832.7,409.4 830.7,412.2 828.7,415.0 C826.8,417.7 824.3,422.1 823.4,423.5 M1021.1,333.4 C1021.1,336.3 1021.4,345.3 1021.2,351.2 C1021.1,357.1 1019.6,363.1 1020.1,368.9 C1020.7,374.8 1023.8,383.3 1024.6,386.2 M1023.0,328.8 C1022.6,331.6 1022.0,340.0 1020.6,345.3 C1019.1,350.6 1016.1,355.4 1014.2,360.6 C1012.4,365.8 1010.1,373.9 1009.3,376.5 M1021.0,321.1 C1019.9,323.0 1016.0,328.2 1014.3,332.1 C1012.6,336.0 1011.2,340.3 1010.7,344.5 C1010.2,348.7 1011.3,355.2 1011.4,357.3 M1020.0,323.9 C1019.2,325.5 1016.5,330.3 1015.0,333.7 C1013.5,337.1 1011.7,340.6 1011.2,344.2 C1010.8,347.7 1012.1,353.3 1012.3,355.2" stroke-width="2.0"/><path d="M168.4,323.2 C169.1,325.5 172.3,332.1 172.7,336.6 C173.1,341.2 172.1,346.1 170.8,350.6 C169.5,355.0 165.8,361.2 164.8,363.3 M167.6,336.3 C166.8,339.0 165.0,347.4 163.1,352.8 C161.2,358.1 158.7,363.3 156.0,368.3 C153.3,373.3 148.3,380.2 146.8,382.6 M167.5,327.7 C166.0,330.3 160.1,337.6 158.3,343.1 C156.4,348.7 157.8,355.2 156.5,361.0 C155.1,366.9 151.4,375.2 150.3,378.0 M332.4,408.6 C331.8,411.9 329.7,421.7 328.9,428.3 C328.0,434.9 326.9,441.7 327.5,448.2 C328.2,454.7 331.8,464.3 332.7,467.5 M329.9,388.8 C329.5,390.6 328.5,396.0 327.4,399.5 C326.4,403.0 325.0,406.4 323.6,409.8 C322.2,413.2 319.7,418.1 318.9,419.7 M303.6,380.9 C302.5,383.5 297.8,391.2 296.9,396.8 C295.9,402.3 297.5,408.2 298.0,414.0 C298.5,419.7 299.5,428.3 299.8,431.1 M309.1,364.5 C308.7,366.0 307.9,370.8 306.7,373.7 C305.4,376.5 302.8,378.8 301.6,381.7 C300.4,384.6 300.1,389.5 299.8,391.0 M504.2,343.1 C504.9,345.4 508.1,352.0 508.5,356.5 C508.9,361.1 507.0,365.8 506.6,370.5 C506.2,375.2 506.3,382.3 506.3,384.6 M504.7,320.9 C503.4,324.6 499.0,335.2 497.1,342.6 C495.1,350.0 494.2,357.7 493.1,365.3 C492.0,372.8 491.0,384.3 490.6,388.1 M503.7,341.9 C501.7,343.9 495.5,349.8 491.7,354.0 C487.8,358.1 484.6,362.9 480.7,366.9 C476.7,371.0 470.1,376.4 468.0,378.3 M673.7,411.9 C674.8,415.9 678.9,427.7 680.0,435.9 C681.0,444.0 679.7,452.4 680.1,460.6 C680.5,468.8 682.0,481.1 682.4,485.3 M883.2,391.9 C882.7,394.6 882.2,402.8 880.5,407.9 C878.9,413.0 875.3,417.4 873.1,422.3 C871.0,427.2 868.4,434.9 867.4,437.4 M878.1,360.1 C879.0,361.2 882.0,364.6 883.6,367.1 C885.1,369.6 886.8,372.3 887.5,375.1 C888.3,377.9 888.0,382.5 888.1,383.9 M888.9,397.2 C891.0,400.8 897.8,411.1 901.4,418.5 C904.9,425.9 908.9,433.6 910.3,441.5 C911.8,449.5 910.0,462.1 909.9,466.2 M872.5,350.8 C871.6,352.9 868.0,358.9 867.2,363.3 C866.4,367.6 868.5,372.4 867.8,376.8 C867.2,381.2 864.1,387.5 863.3,389.7 M1020.9,329.8 C1022.6,331.6 1027.7,337.2 1031.4,340.6 C1035.1,344.1 1038.9,347.4 1043.0,350.4 C1047.0,353.4 1053.6,357.2 1055.7,358.6" stroke-width="2.5"/><path d="M322.6,331.3 C324.8,333.9 331.9,341.4 336.1,346.9 C340.2,352.3 343.4,358.6 347.6,364.0 C351.8,369.4 359.0,376.8 361.3,379.4 M327.7,343.8 C330.3,346.2 339.5,352.3 343.4,358.0 C347.2,363.6 348.4,371.1 350.8,377.7 C353.2,384.4 356.6,394.4 357.7,397.7 M323.9,352.1 C324.1,354.9 324.1,363.5 325.2,369.1 C326.2,374.6 329.0,379.9 330.3,385.4 C331.6,390.9 332.6,399.4 333.1,402.2 M319.8,344.7 C318.1,346.8 313.2,353.2 309.6,357.2 C306.0,361.2 301.2,364.2 298.1,368.5 C295.0,372.9 292.3,380.7 291.1,383.1 M501.1,330.9 C502.2,334.0 505.9,343.2 507.5,349.6 C509.1,355.9 509.4,362.6 510.6,369.0 C511.9,375.5 514.3,385.1 515.0,388.3 M639.9,321.3 C640.0,324.6 640.1,334.5 640.6,341.2 C641.1,347.8 641.7,354.4 643.0,360.9 C644.4,367.4 647.7,376.8 648.6,380.0 M635.3,352.9 C633.7,356.6 628.3,367.5 625.6,375.1 C622.9,382.7 620.1,390.5 619.2,398.4 C618.3,406.4 620.0,418.6 620.2,422.6 M860.9,346.1 C863.4,348.7 872.2,355.8 875.7,361.9 C879.2,368.1 879.7,375.9 881.9,382.8 C884.0,389.7 887.6,399.9 888.7,403.4 M860.6,320.7 C861.4,324.8 864.4,337.1 865.0,345.3 C865.6,353.6 865.1,362.0 864.3,370.3 C863.6,378.6 861.2,390.9 860.6,395.0 M867.6,321.2 C866.5,323.6 863.3,331.0 860.7,335.7 C858.2,340.4 854.3,344.5 852.4,349.4 C850.4,354.3 849.6,362.5 849.1,365.1 M870.7,324.1 C868.6,326.0 861.9,331.5 858.2,335.7 C854.4,340.0 851.0,344.7 848.0,349.5 C845.1,354.4 841.9,362.4 840.7,365.0" stroke-width="3.0"/><path d="M327.9,349.3 C328.6,352.5 331.4,362.3 331.7,368.9 C332.1,375.5 329.8,382.2 329.9,388.8 C330.0,395.4 332.0,405.3 332.4,408.6 M323.8,333.7 C323.0,336.4 321.1,345.0 318.7,350.1 C316.2,355.3 311.6,359.4 309.1,364.5 C306.6,369.6 304.5,378.1 303.6,380.9 M318.4,351.9 C316.8,354.7 312.5,363.0 309.1,368.3 C305.7,373.5 300.1,377.7 297.8,383.3 C295.5,388.9 295.6,398.8 295.2,401.9 M645.9,321.6 C646.5,325.2 648.6,336.0 649.3,343.3 C649.9,350.5 650.4,357.9 649.9,365.2 C649.5,372.4 647.2,383.2 646.6,386.8 M638.5,336.4 C637.0,338.7 632.1,345.5 629.3,350.3 C626.4,355.0 624.7,360.5 621.6,365.0 C618.4,369.6 612.4,375.4 610.6,377.5 M868.6,347.0 C870.2,349.2 875.9,355.3 878.1,360.1 C880.3,364.9 880.8,370.5 881.7,375.8 C882.5,381.2 882.9,389.3 883.2,391.9 M871.7,326.1 C871.8,330.2 871.4,342.7 872.5,350.8 C873.7,358.9 876.0,367.0 878.7,374.7 C881.4,382.4 887.2,393.5 888.9,397.2 M861.8,349.4 C860.5,352.2 855.6,360.2 853.8,366.0 C851.9,371.8 852.3,378.3 850.5,384.1 C848.7,389.9 844.4,398.1 843.2,401.0" stroke-width="3.5"/><path d="M642.5,344.7 C644.4,348.4 650.0,359.4 653.8,366.7 C657.5,374.0 661.9,381.1 665.2,388.7 C668.5,396.2 672.3,408.0 673.7,411.9" stroke-width="4.0"/></g>
<defs><mask id="gapm" maskUnits="userSpaceOnUse" x="0" y="0" width="1160" height="609"><rect x="0" y="0" width="1160" height="609" fill="#fff"/>
<path d="M373.28,247.71 L441.27,267.32 L489.10,320.93" stroke="#000" stroke-width="15.0" fill="none" stroke-linejoin="miter" stroke-miterlimit="10"/>
<path d="M784.02,243.37 L736.28,295.59 L667.01,314.66" stroke="#000" stroke-width="15.0" fill="none" stroke-linejoin="miter" stroke-miterlimit="10"/>
<path d="M794.18,485.06 L725.09,469.76 L673.99,419.26" stroke="#000" stroke-width="15.0" fill="none" stroke-linejoin="miter" stroke-miterlimit="10"/>
<path d="M590.04,614.51 L568.75,547.04 L586.93,477.53" stroke="#000" stroke-width="15.0" fill="none" stroke-linejoin="miter" stroke-miterlimit="10"/>
<path d="M375.41,501.74 L423.38,449.73 L492.74,430.96" stroke="#000" stroke-width="15.0" fill="none" stroke-linejoin="miter" stroke-miterlimit="10"/>
</mask></defs>
<g mask="url(#gapm)">
<path d="M388.97,252.24 A226.0,226.0 0 0 1 773.01,255.42 L736.28,295.59 L682.99,310.26 A120.6,120.6 0 0 0 478.06,308.56 L441.27,267.32 Z" fill="#022a39"/>
<path d="M773.01,255.42 A226.0,226.0 0 0 1 778.24,481.53 L725.09,469.76 L685.78,430.91 A120.6,120.6 0 0 0 682.99,310.26 L736.28,295.59 Z" fill="#71a53c"/>
<path d="M778.24,481.53 A226.0,226.0 0 0 1 585.13,598.94 L568.75,547.04 L582.74,493.57 A120.6,120.6 0 0 0 685.78,430.91 L725.09,469.76 Z" fill="#5ea26d"/>
<path d="M585.13,598.94 A226.0,226.0 0 0 1 386.48,489.74 L423.38,449.73 L476.73,435.29 A120.6,120.6 0 0 0 582.74,493.57 L568.75,547.04 Z" fill="#539e8e"/>
<path d="M386.48,489.74 A226.0,226.0 0 0 1 388.97,252.24 L441.27,267.32 L478.06,308.56 A120.6,120.6 0 0 0 476.73,435.29 L423.38,449.73 Z" fill="#4e9aa0"/>
</g>
<text id="c0" x="499.46" y="354.2" font-size="25.6" font-weight="bold" fill="#000" letter-spacing="0.8" textLength="162.02" lengthAdjust="spacingAndGlyphs">Public health</text>
<text id="c1" x="525.83" y="376.2" font-size="25.6" font-weight="bold" fill="#000" letter-spacing="0.8" textLength="109.71" lengthAdjust="spacingAndGlyphs">evidence</text>
<text id="c2" x="514.25" y="399.2" font-size="25.6" font-weight="bold" fill="#000" letter-spacing="0.8" textLength="133.58" lengthAdjust="spacingAndGlyphs">ecosystem</text>
<text id="c3" x="546.22" y="280.3" font-size="14.7" font-weight="bold" fill="#000" letter-spacing="0.3" textLength="63.60" lengthAdjust="spacingAndGlyphs">at EU and</text>
<text id="c4" x="536.25" y="296.5" font-size="14.7" font-weight="bold" fill="#000" letter-spacing="0.3" textLength="87.61" lengthAdjust="spacingAndGlyphs">country level</text>
<text id="c5" x="526.07" y="462.1" font-size="14.7" font-weight="bold" fill="#000" letter-spacing="0.3" textLength="108.43" lengthAdjust="spacingAndGlyphs">by public health</text>
<text id="c6" x="540.87" y="475.8" font-size="14.7" font-weight="bold" fill="#000" letter-spacing="0.3" textLength="78.58" lengthAdjust="spacingAndGlyphs">institutions</text>
<text id="l0" x="532.62" y="205.9" font-size="15.5" font-weight="bold" fill="#fff" letter-spacing="1.1" textLength="95.67" lengthAdjust="spacingAndGlyphs">EVIDENCE USE</text>
<text id="l1" x="373.38" y="361.9" font-size="15.5" font-weight="bold" fill="#fff" letter-spacing="1.1" textLength="65.98" lengthAdjust="spacingAndGlyphs">EVIDENCE</text>
<text id="l2" x="356.12" y="377.4" font-size="15.5" font-weight="bold" fill="#fff" letter-spacing="1.1" textLength="100.98" lengthAdjust="spacingAndGlyphs">PRESENTATION</text>
<text id="l3" x="720.75" y="361.9" font-size="15.5" font-weight="bold" fill="#fff" letter-spacing="1.1" textLength="65.67" lengthAdjust="spacingAndGlyphs">EVIDENCE</text>
<text id="l4" x="709.87" y="377.4" font-size="15.5" font-weight="bold" fill="#fff" letter-spacing="1.1" textLength="87.05" lengthAdjust="spacingAndGlyphs">GENERATION</text>
<text id="l5" x="466.13" y="513.8" font-size="15.5" font-weight="bold" fill="#fff" letter-spacing="1.1" textLength="65.58" lengthAdjust="spacingAndGlyphs">EVIDENCE</text>
<text id="l6" x="452.63" y="529.8" font-size="15.5" font-weight="bold" fill="#fff" letter-spacing="1.1" textLength="92.98" lengthAdjust="spacingAndGlyphs">TRANSLATION</text>
<text id="l7" x="637.12" y="513.8" font-size="15.5" font-weight="bold" fill="#fff" letter-spacing="1.1" textLength="65.89" lengthAdjust="spacingAndGlyphs">EVIDENCE</text>
<text id="l8" x="632.22" y="529.8" font-size="15.5" font-weight="bold" fill="#fff" letter-spacing="1.1" textLength="76.15" lengthAdjust="spacingAndGlyphs">SYNTHESIS</text>

<g fill="#000">
<rect x="373" y="8.8" width="6.5" height="119.00" rx="3.25" fill="#022a39"/>
<circle cx="393.0" cy="20.00" r="3.4" fill="#000"/>
<text class="b" id="top0" x="407.60" y="24.60" font-size="16.8" textLength="247.91" lengthAdjust="spacingAndGlyphs">Evidence-informed decision making</text>
<circle cx="393.0" cy="39.00" r="3.4" fill="#000"/>
<text class="b" id="top1" x="407.60" y="43.60" font-size="16.8" textLength="108.19" lengthAdjust="spacingAndGlyphs">Policy decisions</text>
<circle cx="393.0" cy="58.00" r="3.4" fill="#000"/>
<text class="b" id="top2" x="407.60" y="62.60" font-size="16.8" textLength="153.73" lengthAdjust="spacingAndGlyphs">Policy implementation</text>
<circle cx="393.0" cy="77.00" r="3.4" fill="#000"/>
<text class="b" id="top3" x="407.60" y="81.60" font-size="16.8" textLength="168.39" lengthAdjust="spacingAndGlyphs">Practice implementation</text>
<circle cx="393.0" cy="96.00" r="3.4" fill="#000"/>
<text class="b" id="top4" x="407.60" y="100.60" font-size="16.8" textLength="547.67" lengthAdjust="spacingAndGlyphs">Decisions regarding investments in infrastructure, resource allocation, training</text>
<circle cx="393.0" cy="115.00" r="3.4" fill="#000"/>
<text class="b" id="top5" x="407.60" y="119.60" font-size="16.8" textLength="189.67" lengthAdjust="spacingAndGlyphs">Research funding decisions</text>
<rect x="40" y="264.1" width="6.5" height="199.60" rx="3.25" fill="#4e9aa0"/>
<circle cx="60.0" cy="277.10" r="3.4" fill="#000"/>
<text class="b" id="la0" x="74.00" y="281.70" font-size="16.8" textLength="106.13" lengthAdjust="spacingAndGlyphs">Evidence briefs</text>
<circle cx="60.0" cy="296.10" r="3.4" fill="#000"/>
<text class="b" id="la1" x="74.00" y="300.70" font-size="16.8" textLength="83.37" lengthAdjust="spacingAndGlyphs">Policy briefs</text>
<circle cx="60.0" cy="315.10" r="3.4" fill="#000"/>
<text class="b" id="la2" x="74.00" y="319.70" font-size="16.8" textLength="221.26" lengthAdjust="spacingAndGlyphs">Media briefs, press conferences</text>
<circle cx="60.0" cy="334.10" r="3.4" fill="#000"/>
<text class="b" id="la3" x="74.00" y="338.70" font-size="16.8" textLength="128.01" lengthAdjust="spacingAndGlyphs">Fact sheets, Q&amp;As</text>
<circle cx="60.0" cy="353.10" r="3.4" fill="#000"/>
<text class="b" id="la4" x="74.00" y="357.70" font-size="16.8" textLength="195.72" lengthAdjust="spacingAndGlyphs">Stakeholder and community</text>
<text class="b" id="la5" x="74.00" y="376.70" font-size="16.8" textLength="88.01" lengthAdjust="spacingAndGlyphs">engagement</text>
<circle cx="60.0" cy="391.10" r="3.4" fill="#000"/>
<text class="b" id="la6" x="74.00" y="395.70" font-size="16.8" textLength="187.78" lengthAdjust="spacingAndGlyphs">Presentations, publications</text>
<circle cx="60.0" cy="410.10" r="3.4" fill="#000"/>
<text class="b" id="la7" x="74.00" y="414.70" font-size="16.8" textLength="143.01" lengthAdjust="spacingAndGlyphs">Visuals, infographics</text>
<circle cx="60.0" cy="429.10" r="3.4" fill="#000"/>
<text class="b" id="la8" x="74.00" y="433.70" font-size="16.8" textLength="245.50" lengthAdjust="spacingAndGlyphs">Interviews, podcasts, social media,</text>
<text class="b" id="la9" x="74.00" y="452.70" font-size="16.8" textLength="78.42" lengthAdjust="spacingAndGlyphs">storytelling</text>
<rect x="40" y="493.1" width="6.5" height="100.40" rx="3.25" fill="#539e8e"/>
<circle cx="60.0" cy="507.10" r="3.4" fill="#000"/>
<text class="b" id="lb0" x="73.50" y="511.70" font-size="16.8" textLength="122.32" lengthAdjust="spacingAndGlyphs">Risk assessments</text>
<circle cx="60.0" cy="526.10" r="3.4" fill="#000"/>
<text class="b" id="lb1" x="73.50" y="530.70" font-size="16.8" textLength="196.60" lengthAdjust="spacingAndGlyphs">Public health guidelines and</text>
<text class="b" id="lb2" x="73.50" y="549.70" font-size="16.8" textLength="125.39" lengthAdjust="spacingAndGlyphs">recommendations</text>
<circle cx="60.0" cy="564.10" r="3.4" fill="#000"/>
<text class="b" id="lb3" x="73.50" y="568.70" font-size="16.8" textLength="229.98" lengthAdjust="spacingAndGlyphs">Health system recommendations</text>
<circle cx="60.0" cy="583.10" r="3.4" fill="#000"/>
<text class="b" id="lb4" x="73.50" y="587.70" font-size="16.8" textLength="202.06" lengthAdjust="spacingAndGlyphs">Operational guides and tools</text>
<rect x="847.4" y="264.3" width="6.5" height="199.40" rx="3.25" fill="#71a53c"/>
<circle cx="867.4" cy="277.10" r="3.4" fill="#000"/>
<text class="b" id="ra0" x="881.10" y="281.70" font-size="16.8" textLength="207.34" lengthAdjust="spacingAndGlyphs">Surveillance: indicator-based,</text>
<text class="b" id="ra1" x="881.10" y="300.70" font-size="16.8" textLength="251.02" lengthAdjust="spacingAndGlyphs">event-based, molecular surveillance</text>
<circle cx="867.4" cy="315.10" r="3.4" fill="#000"/>
<text class="b" id="ra2" x="881.10" y="319.70" font-size="16.8" textLength="258.41" lengthAdjust="spacingAndGlyphs">Quantitative and qualitative research</text>
<circle cx="867.4" cy="334.10" r="3.4" fill="#000"/>
<text class="b" id="ra3" x="881.10" y="338.70" font-size="16.8" textLength="233.18" lengthAdjust="spacingAndGlyphs">Epidemiological studies, research</text>
<text class="b" id="ra4" x="881.10" y="357.70" font-size="16.8" textLength="119.22" lengthAdjust="spacingAndGlyphs">during outbreaks</text>
<circle cx="867.4" cy="372.10" r="3.4" fill="#000"/>
<text class="b" id="ra5" x="881.10" y="376.70" font-size="16.8" textLength="237.29" lengthAdjust="spacingAndGlyphs">Surveys, demographics, statistics,</text>
<text class="b" id="ra6" x="881.10" y="395.70" font-size="16.8" textLength="184.27" lengthAdjust="spacingAndGlyphs">registries, eHealth records</text>
<circle cx="867.4" cy="410.10" r="3.4" fill="#000"/>
<text class="b" id="ra7" x="881.10" y="414.70" font-size="16.8" textLength="186.25" lengthAdjust="spacingAndGlyphs">Monitoring &amp; evaluation of</text>
<text class="b" id="ra8" x="881.10" y="433.70" font-size="16.8" textLength="214.07" lengthAdjust="spacingAndGlyphs">interventions and programmes</text>
<circle cx="867.4" cy="448.10" r="3.4" fill="#000"/>
<text class="b" id="ra9" x="881.10" y="452.70" font-size="16.8" textLength="236.36" lengthAdjust="spacingAndGlyphs">Capacity/capabilities assessments</text>
<rect x="847.4" y="494.6" width="6.5" height="98.90" rx="3.25" fill="#5ea26d"/>
<circle cx="867.4" cy="507.10" r="3.4" fill="#000"/>
<text class="b" id="rb0" x="879.90" y="511.70" font-size="16.8" textLength="256.37" lengthAdjust="spacingAndGlyphs">Evidence reviews: systematic, rapid,</text>
<text class="b" id="rb1" x="879.90" y="530.70" font-size="16.8" textLength="230.75" lengthAdjust="spacingAndGlyphs">living, scoping reviews, evidence</text>
<text class="b" id="rb2" x="879.90" y="549.70" font-size="16.8" textLength="209.94" lengthAdjust="spacingAndGlyphs">gap maps, qualitative reviews</text>
<circle cx="867.4" cy="564.10" r="3.4" fill="#000"/>
<text class="b" id="rb3" x="879.90" y="568.70" font-size="16.8" textLength="68.74" lengthAdjust="spacingAndGlyphs">Modelling</text>
<circle cx="867.4" cy="583.10" r="3.4" fill="#000"/>
<text class="b" id="rb4" x="879.90" y="587.70" font-size="16.8" textLength="198.55" lengthAdjust="spacingAndGlyphs">Burden of disease estimates</text>
</g>
</svg>
</body></html>
